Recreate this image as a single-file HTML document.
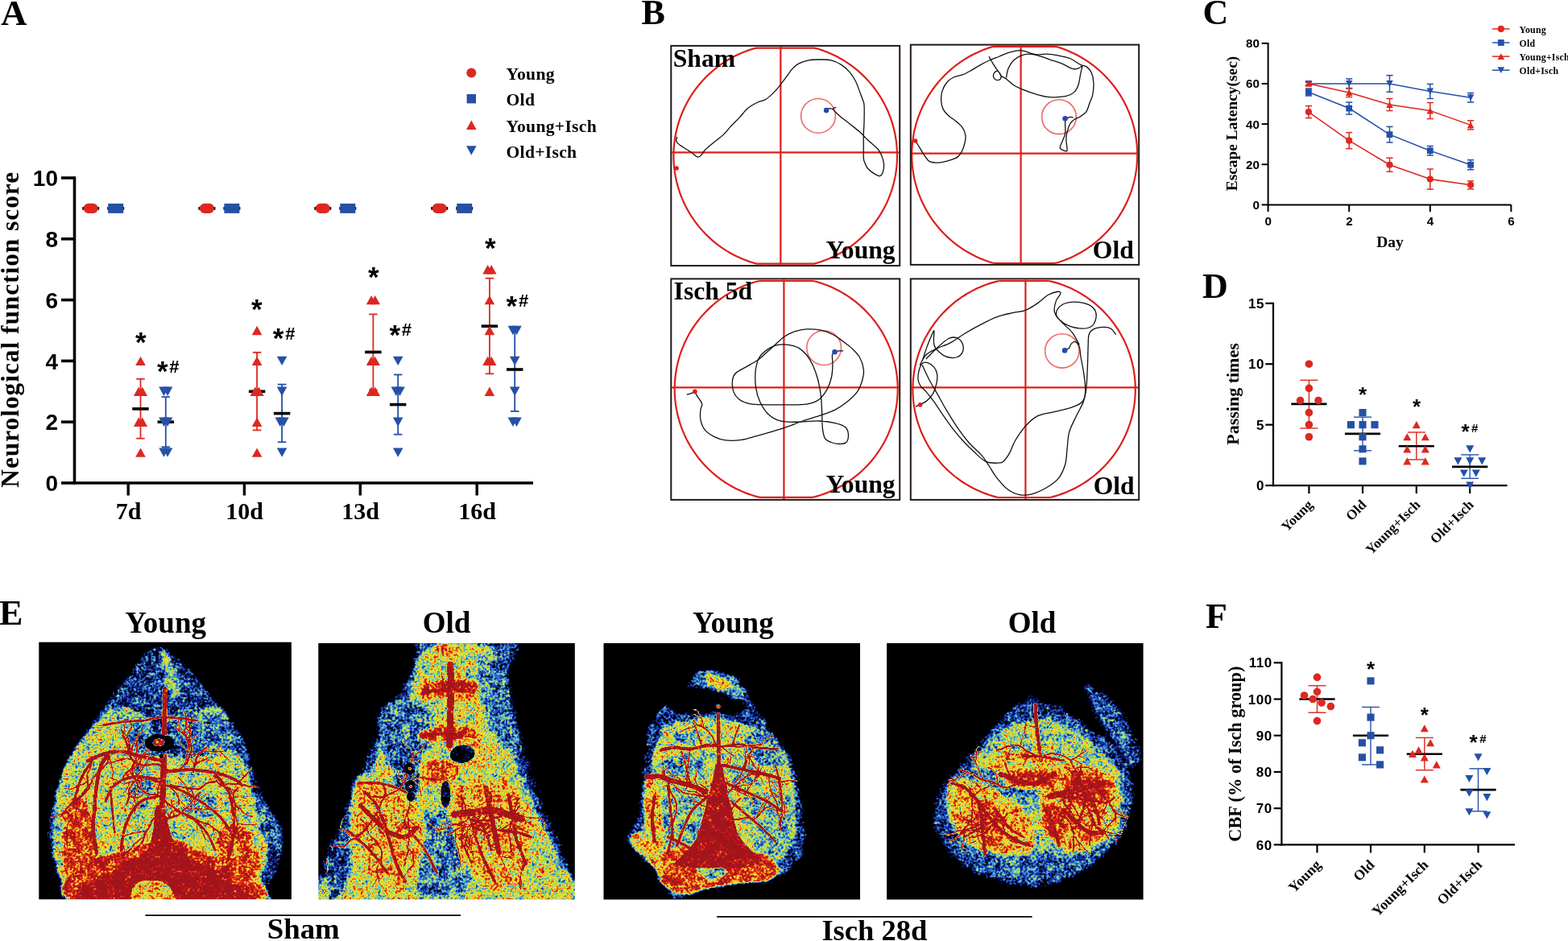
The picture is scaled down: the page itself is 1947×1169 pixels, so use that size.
<!DOCTYPE html>
<html><head><meta charset="utf-8"><title>Figure</title>
<style>
html,body{margin:0;padding:0;background:#fff;}
body{width:1947px;height:1169px;overflow:hidden;}
svg{display:block;}
</style></head><body>
<svg width="1947" height="1169" viewBox="0 0 1947 1169">
<rect width="1947" height="1169" fill="#fff"/>
<text x="1" y="31.3" font-size="45" text-anchor="start" style="font-family:'Liberation Serif',serif;font-weight:bold" >A</text>
<circle cx="585.3" cy="90.6" r="6" fill="#dc2820"/>
<text x="628.5" y="99.1" font-size="21.6" text-anchor="start" style="font-family:'Liberation Serif',serif;font-weight:bold" letter-spacing="0.3">Young</text>
<rect x="579.6" y="117" width="11.4" height="11.4" fill="#2550a6"/>
<text x="628.5" y="131.2" font-size="21.6" text-anchor="start" style="font-family:'Liberation Serif',serif;font-weight:bold" letter-spacing="0.3">Old</text>
<path d="M585.3 149.5L591.6 160.9L579 160.9Z" fill="#dc2820"/>
<text x="628.5" y="163.7" font-size="21.6" text-anchor="start" style="font-family:'Liberation Serif',serif;font-weight:bold" letter-spacing="0.3">Young+Isch</text>
<path d="M579 181.3L591.6 181.3L585.3 192.7Z" fill="#2550a6"/>
<text x="628.5" y="195.5" font-size="21.6" text-anchor="start" style="font-family:'Liberation Serif',serif;font-weight:bold" letter-spacing="0.3">Old+Isch</text>
<line x1="92.5" y1="219.2" x2="92.5" y2="601.8" stroke="#000" stroke-width="3.6"/>
<line x1="90.7" y1="600" x2="662" y2="600" stroke="#000" stroke-width="3.6"/>
<line x1="76" y1="600" x2="92.5" y2="600" stroke="#000" stroke-width="3.6"/>
<text x="72" y="610.1" font-size="28" text-anchor="end" style="font-family:'Liberation Sans',sans-serif;font-weight:bold" >0</text>
<line x1="76" y1="524.2" x2="92.5" y2="524.2" stroke="#000" stroke-width="3.6"/>
<text x="72" y="534.3" font-size="28" text-anchor="end" style="font-family:'Liberation Sans',sans-serif;font-weight:bold" >2</text>
<line x1="76" y1="448.4" x2="92.5" y2="448.4" stroke="#000" stroke-width="3.6"/>
<text x="72" y="458.5" font-size="28" text-anchor="end" style="font-family:'Liberation Sans',sans-serif;font-weight:bold" >4</text>
<line x1="76" y1="372.6" x2="92.5" y2="372.6" stroke="#000" stroke-width="3.6"/>
<text x="72" y="382.7" font-size="28" text-anchor="end" style="font-family:'Liberation Sans',sans-serif;font-weight:bold" >6</text>
<line x1="76" y1="296.8" x2="92.5" y2="296.8" stroke="#000" stroke-width="3.6"/>
<text x="72" y="306.9" font-size="28" text-anchor="end" style="font-family:'Liberation Sans',sans-serif;font-weight:bold" >8</text>
<line x1="76" y1="221" x2="92.5" y2="221" stroke="#000" stroke-width="3.6"/>
<text x="72" y="231.1" font-size="28" text-anchor="end" style="font-family:'Liberation Sans',sans-serif;font-weight:bold" >10</text>
<line x1="159.2" y1="600" x2="159.2" y2="615.5" stroke="#000" stroke-width="3.4"/>
<text x="159.5" y="645.3" font-size="30" text-anchor="middle" style="font-family:'Liberation Serif',serif;font-weight:bold" >7d</text>
<line x1="303.4" y1="600" x2="303.4" y2="615.5" stroke="#000" stroke-width="3.4"/>
<text x="303.7" y="645.3" font-size="30" text-anchor="middle" style="font-family:'Liberation Serif',serif;font-weight:bold" >10d</text>
<line x1="447.3" y1="600" x2="447.3" y2="615.5" stroke="#000" stroke-width="3.4"/>
<text x="447.6" y="645.3" font-size="30" text-anchor="middle" style="font-family:'Liberation Serif',serif;font-weight:bold" >13d</text>
<line x1="592.2" y1="600" x2="592.2" y2="615.5" stroke="#000" stroke-width="3.4"/>
<text x="592.5" y="645.3" font-size="30" text-anchor="middle" style="font-family:'Liberation Serif',serif;font-weight:bold" >16d</text>
<text x="0" y="0" font-size="31.3" text-anchor="middle" style="font-family:'Liberation Serif',serif;font-weight:bold" letter-spacing="1.0" transform="translate(22.9 409.3) rotate(-90)">Neurological function score</text>
<line x1="102.2" y1="258.9" x2="123.2" y2="258.9" stroke="#000" stroke-width="3.6"/>
<rect x="103.7" y="252.7" width="18" height="12.4" rx="6" fill="#dc2820"/>
<line x1="133.2" y1="258.9" x2="154.2" y2="258.9" stroke="#000" stroke-width="3.6"/>
<rect x="134.2" y="252.9" width="19" height="12" fill="#2550a6"/>
<line x1="246.4" y1="258.9" x2="267.4" y2="258.9" stroke="#000" stroke-width="3.6"/>
<rect x="247.9" y="252.7" width="18" height="12.4" rx="6" fill="#dc2820"/>
<line x1="277.4" y1="258.9" x2="298.4" y2="258.9" stroke="#000" stroke-width="3.6"/>
<rect x="278.4" y="252.9" width="19" height="12" fill="#2550a6"/>
<line x1="390.3" y1="258.9" x2="411.3" y2="258.9" stroke="#000" stroke-width="3.6"/>
<rect x="391.8" y="252.7" width="18" height="12.4" rx="6" fill="#dc2820"/>
<line x1="421.3" y1="258.9" x2="442.3" y2="258.9" stroke="#000" stroke-width="3.6"/>
<rect x="422.3" y="252.9" width="19" height="12" fill="#2550a6"/>
<line x1="535.2" y1="258.9" x2="556.2" y2="258.9" stroke="#000" stroke-width="3.6"/>
<rect x="536.7" y="252.7" width="18" height="12.4" rx="6" fill="#dc2820"/>
<line x1="566.2" y1="258.9" x2="587.2" y2="258.9" stroke="#000" stroke-width="3.6"/>
<rect x="567.2" y="252.9" width="19" height="12" fill="#2550a6"/>
<line x1="174.5" y1="470.76" x2="174.5" y2="544.67" stroke="#dc2820" stroke-width="1.8"/><line x1="169.25" y1="470.76" x2="179.75" y2="470.76" stroke="#dc2820" stroke-width="1.8"/><line x1="169.25" y1="544.67" x2="179.75" y2="544.67" stroke="#dc2820" stroke-width="1.8"/>
<line x1="164.3" y1="507.9" x2="184.7" y2="507.9" stroke="#000" stroke-width="3.6"/>
<path d="M174.5 442.7L180.8 454.1L168.2 454.1Z" fill="#dc2820"/>
<path d="M172.2 480.6L178.5 492L165.9 492Z" fill="#dc2820"/>
<path d="M176.8 480.6L183.1 492L170.5 492Z" fill="#dc2820"/>
<path d="M172.2 518.5L178.5 529.9L165.9 529.9Z" fill="#dc2820"/>
<path d="M176.8 518.5L183.1 529.9L170.5 529.9Z" fill="#dc2820"/>
<path d="M174.5 556.4L180.8 567.8L168.2 567.8Z" fill="#dc2820"/>
<line x1="205.8" y1="493.12" x2="205.8" y2="555.28" stroke="#2550a6" stroke-width="1.8"/><line x1="200.55" y1="493.12" x2="211.05" y2="493.12" stroke="#2550a6" stroke-width="1.8"/><line x1="200.55" y1="555.28" x2="211.05" y2="555.28" stroke="#2550a6" stroke-width="1.8"/>
<line x1="195.6" y1="524.2" x2="216" y2="524.2" stroke="#000" stroke-width="3.6"/>
<path d="M197.2 480.6L209.8 480.6L203.5 492Z" fill="#2550a6"/>
<path d="M201.8 480.6L214.4 480.6L208.1 492Z" fill="#2550a6"/>
<path d="M197.2 518.5L209.8 518.5L203.5 529.9Z" fill="#2550a6"/>
<path d="M201.8 518.5L214.4 518.5L208.1 529.9Z" fill="#2550a6"/>
<path d="M197.2 556.4L209.8 556.4L203.5 567.8Z" fill="#2550a6"/>
<path d="M201.8 556.4L214.4 556.4L208.1 567.8Z" fill="#2550a6"/>
<line x1="319.1" y1="437.79" x2="319.1" y2="534.43" stroke="#dc2820" stroke-width="1.8"/><line x1="313.85" y1="437.79" x2="324.35" y2="437.79" stroke="#dc2820" stroke-width="1.8"/><line x1="313.85" y1="534.43" x2="324.35" y2="534.43" stroke="#dc2820" stroke-width="1.8"/>
<line x1="308.9" y1="486.3" x2="329.3" y2="486.3" stroke="#000" stroke-width="3.6"/>
<path d="M319.1 404.8L325.4 416.2L312.8 416.2Z" fill="#dc2820"/>
<path d="M319.1 442.7L325.4 454.1L312.8 454.1Z" fill="#dc2820"/>
<path d="M316.8 480.6L323.1 492L310.5 492Z" fill="#dc2820"/>
<path d="M321.4 480.6L327.7 492L315.1 492Z" fill="#dc2820"/>
<path d="M319.1 518.5L325.4 529.9L312.8 529.9Z" fill="#dc2820"/>
<path d="M319.1 556.4L325.4 567.8L312.8 567.8Z" fill="#dc2820"/>
<line x1="350.1" y1="477.58" x2="350.1" y2="549.21" stroke="#2550a6" stroke-width="1.8"/><line x1="344.85" y1="477.58" x2="355.35" y2="477.58" stroke="#2550a6" stroke-width="1.8"/><line x1="344.85" y1="549.21" x2="355.35" y2="549.21" stroke="#2550a6" stroke-width="1.8"/>
<line x1="339.9" y1="513.59" x2="360.3" y2="513.59" stroke="#000" stroke-width="3.6"/>
<path d="M343.8 442.7L356.4 442.7L350.1 454.1Z" fill="#2550a6"/>
<path d="M343.8 480.6L356.4 480.6L350.1 492Z" fill="#2550a6"/>
<path d="M341.5 518.5L354.1 518.5L347.8 529.9Z" fill="#2550a6"/>
<path d="M346.1 518.5L358.7 518.5L352.4 529.9Z" fill="#2550a6"/>
<path d="M343.8 556.4L356.4 556.4L350.1 567.8Z" fill="#2550a6"/>
<line x1="463.4" y1="390.41" x2="463.4" y2="484.4" stroke="#dc2820" stroke-width="1.8"/><line x1="458.15" y1="390.41" x2="468.65" y2="390.41" stroke="#dc2820" stroke-width="1.8"/><line x1="458.15" y1="484.4" x2="468.65" y2="484.4" stroke="#dc2820" stroke-width="1.8"/>
<line x1="453.2" y1="437.41" x2="473.6" y2="437.41" stroke="#000" stroke-width="3.6"/>
<path d="M461.1 366.9L467.4 378.3L454.8 378.3Z" fill="#dc2820"/>
<path d="M465.7 366.9L472 378.3L459.4 378.3Z" fill="#dc2820"/>
<path d="M461.1 442.7L467.4 454.1L454.8 454.1Z" fill="#dc2820"/>
<path d="M465.7 442.7L472 454.1L459.4 454.1Z" fill="#dc2820"/>
<path d="M461.1 480.6L467.4 492L454.8 492Z" fill="#dc2820"/>
<path d="M465.7 480.6L472 492L459.4 492Z" fill="#dc2820"/>
<line x1="494.2" y1="465.45" x2="494.2" y2="539.74" stroke="#2550a6" stroke-width="1.8"/><line x1="488.95" y1="465.45" x2="499.45" y2="465.45" stroke="#2550a6" stroke-width="1.8"/><line x1="488.95" y1="539.74" x2="499.45" y2="539.74" stroke="#2550a6" stroke-width="1.8"/>
<line x1="484" y1="502.6" x2="504.4" y2="502.6" stroke="#000" stroke-width="3.6"/>
<path d="M487.9 442.7L500.5 442.7L494.2 454.1Z" fill="#2550a6"/>
<path d="M485.6 480.6L498.2 480.6L491.9 492Z" fill="#2550a6"/>
<path d="M490.2 480.6L502.8 480.6L496.5 492Z" fill="#2550a6"/>
<path d="M487.9 518.5L500.5 518.5L494.2 529.9Z" fill="#2550a6"/>
<path d="M487.9 556.4L500.5 556.4L494.2 567.8Z" fill="#2550a6"/>
<line x1="607.9" y1="345.69" x2="607.9" y2="464.32" stroke="#dc2820" stroke-width="1.8"/><line x1="602.65" y1="345.69" x2="613.15" y2="345.69" stroke="#dc2820" stroke-width="1.8"/><line x1="602.65" y1="464.32" x2="613.15" y2="464.32" stroke="#dc2820" stroke-width="1.8"/>
<line x1="597.7" y1="405.19" x2="618.1" y2="405.19" stroke="#000" stroke-width="3.6"/>
<path d="M605.6 329L611.9 340.4L599.3 340.4Z" fill="#dc2820"/>
<path d="M610.2 329L616.5 340.4L603.9 340.4Z" fill="#dc2820"/>
<path d="M607.9 366.9L614.2 378.3L601.6 378.3Z" fill="#dc2820"/>
<path d="M607.9 404.8L614.2 416.2L601.6 416.2Z" fill="#dc2820"/>
<path d="M605.6 442.7L611.9 454.1L599.3 454.1Z" fill="#dc2820"/>
<path d="M610.2 442.7L616.5 454.1L603.9 454.1Z" fill="#dc2820"/>
<path d="M607.9 480.6L614.2 492L601.6 492Z" fill="#dc2820"/>
<line x1="639.2" y1="407.09" x2="639.2" y2="510.94" stroke="#2550a6" stroke-width="1.8"/><line x1="633.95" y1="407.09" x2="644.45" y2="407.09" stroke="#2550a6" stroke-width="1.8"/><line x1="633.95" y1="510.94" x2="644.45" y2="510.94" stroke="#2550a6" stroke-width="1.8"/>
<line x1="629" y1="459.01" x2="649.4" y2="459.01" stroke="#000" stroke-width="3.6"/>
<path d="M630.6 404.8L643.2 404.8L636.9 416.2Z" fill="#2550a6"/>
<path d="M635.2 404.8L647.8 404.8L641.5 416.2Z" fill="#2550a6"/>
<path d="M632.9 442.7L645.5 442.7L639.2 454.1Z" fill="#2550a6"/>
<path d="M632.9 480.6L645.5 480.6L639.2 492Z" fill="#2550a6"/>
<path d="M630.6 518.5L643.2 518.5L636.9 529.9Z" fill="#2550a6"/>
<path d="M635.2 518.5L647.8 518.5L641.5 529.9Z" fill="#2550a6"/>
<text x="168" y="437.2" font-size="35" text-anchor="start" style="font-family:'Liberation Sans',sans-serif;font-weight:bold" >*</text>
<text x="194.9" y="473" font-size="35" text-anchor="start" style="font-family:'Liberation Sans',sans-serif;font-weight:bold" >*</text><text x="210.3" y="462.9" font-size="22" text-anchor="start" style="font-family:'Liberation Sans',sans-serif;font-weight:bold" >#</text>
<text x="312.1" y="396.3" font-size="35" text-anchor="start" style="font-family:'Liberation Sans',sans-serif;font-weight:bold" >*</text>
<text x="338.8" y="432" font-size="35" text-anchor="start" style="font-family:'Liberation Sans',sans-serif;font-weight:bold" >*</text><text x="354.2" y="421.9" font-size="22" text-anchor="start" style="font-family:'Liberation Sans',sans-serif;font-weight:bold" >#</text>
<text x="456.9" y="355.6" font-size="35" text-anchor="start" style="font-family:'Liberation Sans',sans-serif;font-weight:bold" >*</text>
<text x="483.4" y="427.5" font-size="35" text-anchor="start" style="font-family:'Liberation Sans',sans-serif;font-weight:bold" >*</text><text x="498.8" y="417.4" font-size="22" text-anchor="start" style="font-family:'Liberation Sans',sans-serif;font-weight:bold" >#</text>
<text x="602" y="320.1" font-size="35" text-anchor="start" style="font-family:'Liberation Sans',sans-serif;font-weight:bold" >*</text>
<text x="628.6" y="391.5" font-size="35" text-anchor="start" style="font-family:'Liberation Sans',sans-serif;font-weight:bold" >*</text><text x="644" y="381.4" font-size="22" text-anchor="start" style="font-family:'Liberation Sans',sans-serif;font-weight:bold" >#</text>
<defs>
<clipPath id="bc0"><rect x="834.3" y="59.1" width="281.9" height="268.8"/></clipPath>
<clipPath id="bc1"><rect x="1131.8" y="57.8" width="281.4" height="268.9"/></clipPath>
<clipPath id="bc2"><rect x="834.3" y="348.6" width="281.9" height="270.1"/></clipPath>
<clipPath id="bc3"><rect x="1131.8" y="348.6" width="281.4" height="270.1"/></clipPath>
</defs>
<polygon points="1114,193.5 1113.95,197.13 1113.81,200.76 1113.57,204.39 1113.24,208.01 1112.81,211.62 1112.29,215.21 1111.68,218.79 1110.97,222.36 1110.16,225.9 1109.27,229.42 1108.28,232.92 1107.21,236.39 1106.04,239.83 1104.78,243.24 1103.43,246.62 1102,249.96 1100.48,253.25 1098.87,256.51 1097.18,259.73 1095.4,262.9 1093.55,266.02 1091.61,269.1 1089.59,272.12 1087.49,275.08 1085.32,278 1083.07,280.85 1080.74,283.64 1078.35,286.38 1075.88,289.04 1073.35,291.65 1070.74,294.18 1068.08,296.65 1065.34,299.04 1062.55,301.37 1059.7,303.62 1056.78,305.79 1053.82,307.89 1050.8,309.91 1047.72,311.85 1044.6,313.7 1041.43,315.48 1038.21,317.17 1034.95,318.78 1031.66,320.3 1028.32,321.73 1024.94,323.08 1021.53,324.34 1018.09,325.51 1014.62,326.58 1011.12,327.57 1007.6,327.6 1004.06,327.6 1000.49,327.6 996.91,327.6 993.32,327.6 989.71,327.6 986.09,327.6 982.46,327.6 978.83,327.6 975.2,327.6 971.57,327.6 967.94,327.6 964.31,327.6 960.69,327.6 957.08,327.6 953.49,327.6 949.91,327.6 946.34,327.6 942.8,327.6 939.28,327.57 935.78,326.58 932.31,325.51 928.87,324.34 925.46,323.08 922.08,321.73 918.74,320.3 915.45,318.78 912.19,317.17 908.97,315.48 905.8,313.7 902.68,311.85 899.6,309.91 896.58,307.89 893.62,305.79 890.7,303.62 887.85,301.37 885.06,299.04 882.32,296.65 879.66,294.18 877.05,291.65 874.52,289.04 872.05,286.38 869.66,283.64 867.33,280.85 865.08,278 862.91,275.08 860.81,272.12 858.79,269.1 856.85,266.02 855,262.9 853.22,259.73 851.53,256.51 849.92,253.25 848.4,249.96 846.97,246.62 845.62,243.24 844.36,239.83 843.19,236.39 842.12,232.92 841.13,229.42 840.24,225.9 839.43,222.36 838.72,218.79 838.11,215.21 837.59,211.62 837.16,208.01 836.83,204.39 836.59,200.76 836.45,197.13 836.4,193.5 836.45,189.87 836.59,186.24 836.83,182.61 837.16,178.99 837.59,175.38 838.11,171.79 838.72,168.21 839.43,164.64 840.24,161.1 841.13,157.58 842.12,154.08 843.19,150.61 844.36,147.17 845.62,143.76 846.97,140.38 848.4,137.04 849.92,133.75 851.53,130.49 853.22,127.27 855,124.1 856.85,120.98 858.79,117.9 860.81,114.88 862.91,111.92 865.08,109 867.33,106.15 869.66,103.36 872.05,100.62 874.52,97.96 877.05,95.35 879.66,92.82 882.32,90.35 885.06,87.96 887.85,85.63 890.7,83.38 893.62,81.21 896.58,79.11 899.6,77.09 902.68,75.15 905.8,73.3 908.97,71.52 912.19,69.83 915.45,68.22 918.74,66.7 922.08,65.27 925.46,63.92 928.87,62.66 932.31,61.49 935.78,60.42 939.28,59.6 942.8,59.6 946.34,59.6 949.91,59.6 953.49,59.6 957.08,59.6 960.69,59.6 964.31,59.6 967.94,59.6 971.57,59.6 975.2,59.6 978.83,59.6 982.46,59.6 986.09,59.6 989.71,59.6 993.32,59.6 996.91,59.6 1000.49,59.6 1004.06,59.6 1007.6,59.6 1011.12,59.6 1014.62,60.42 1018.09,61.49 1021.53,62.66 1024.94,63.92 1028.32,65.27 1031.66,66.7 1034.95,68.22 1038.21,69.83 1041.43,71.52 1044.6,73.3 1047.72,75.15 1050.8,77.09 1053.82,79.11 1056.78,81.21 1059.7,83.38 1062.55,85.63 1065.34,87.96 1068.08,90.35 1070.74,92.82 1073.35,95.35 1075.88,97.96 1078.35,100.62 1080.74,103.36 1083.07,106.15 1085.32,109 1087.49,111.92 1089.59,114.88 1091.61,117.9 1093.55,120.98 1095.4,124.1 1097.18,127.27 1098.87,130.49 1100.48,133.75 1102,137.04 1103.43,140.38 1104.78,143.76 1106.04,147.17 1107.21,150.61 1108.28,154.08 1109.27,157.58 1110.16,161.1 1110.97,164.64 1111.68,168.21 1112.29,171.79 1112.81,175.38 1113.24,178.99 1113.57,182.61 1113.81,186.24 1113.95,189.87" fill="none" stroke="#dc1f1a" stroke-width="2.2"/>
<line x1="834.3" y1="189.3" x2="1116.2" y2="189.3" stroke="#dc1f1a" stroke-width="2.2"/>
<line x1="969.3" y1="57.9" x2="969.3" y2="329.1" stroke="#dc1f1a" stroke-width="2.2"/>
<circle cx="1016" cy="143.9" r="21.4" fill="none" stroke="#ee6a66" stroke-width="1.6"/>
<path d="M840.64 169.91C840.56 170.96 838.96 174.11 840.14 176.21C841.32 178.32 844.77 180.42 847.71 182.52C850.65 184.62 854.65 186.73 857.8 188.83C860.96 190.93 864.32 194.72 866.64 195.14C868.95 195.56 870.21 192.83 871.68 191.35C873.15 189.88 873.15 188.62 875.47 186.31C877.78 183.99 881.78 180.63 885.56 177.48C889.35 174.32 894.39 170.96 898.18 167.38C901.96 163.81 904.91 159.6 908.27 156.03C911.63 152.45 915 149.51 918.36 145.93C921.73 142.36 924.67 137.73 928.46 134.58C932.24 131.42 937.29 128.9 941.07 127.01C944.86 125.12 947.8 125.33 951.17 123.22C954.53 121.12 958.32 117.34 961.26 114.39C964.2 111.45 966.31 108.71 968.83 105.56C971.35 102.41 973.88 98.83 976.4 95.47C978.92 92.1 981.45 88.11 983.97 85.37C986.49 82.64 988.18 80.83 991.54 79.07C994.9 77.3 999.95 75.62 1004.16 74.78C1008.36 73.93 1012.15 74.02 1016.77 74.02C1021.4 74.02 1027.29 73.72 1031.91 74.78C1036.54 75.83 1040.75 77.93 1044.53 80.33C1048.32 82.72 1051.68 85.79 1054.62 89.16C1057.57 92.52 1060.09 96.52 1062.19 100.51C1064.3 104.51 1065.77 109.35 1067.24 113.13C1068.71 116.92 1070.06 120.28 1071.03 123.22C1071.99 126.17 1072.71 126.17 1073.04 130.79C1073.38 135.42 1073.17 145.09 1073.04 150.98C1072.92 156.87 1072.41 161.07 1072.29 166.12C1072.16 171.17 1072.29 176.21 1072.29 181.26C1072.29 186.31 1072.08 193.04 1072.29 196.4C1072.5 199.76 1072.71 199.34 1073.55 201.45C1074.39 203.55 1075.44 206.7 1077.33 209.02C1079.23 211.33 1082.38 213.73 1084.9 215.33C1087.43 216.92 1090.58 218.82 1092.47 218.61C1094.37 218.4 1095.42 216.5 1096.26 214.06C1097.1 211.62 1097.73 207.33 1097.52 203.97C1097.31 200.61 1096.26 197.03 1095 193.88C1093.74 190.72 1092.89 188.41 1089.95 185.05C1087.01 181.68 1081.12 177.27 1077.33 173.69C1073.55 170.12 1071.03 166.96 1067.24 163.6C1063.46 160.23 1058.83 156.87 1054.62 153.5C1050.42 150.14 1045.37 146.35 1042.01 143.41C1038.64 140.47 1035.07 137.52 1034.44 135.84C1033.81 134.16 1037.59 133.74 1038.22 133.32" fill="none" stroke="#111" stroke-width="1.3" stroke-linejoin="round"/>
<path d="M1034.44 135.84C1033.68 135.63 1031.28 134.37 1029.9 134.58C1028.51 134.79 1026.74 136.68 1026.11 137.1" fill="none" stroke="#111" stroke-width="1.3" stroke-linejoin="round"/>
<circle cx="1026.1" cy="137.1" r="3.3" fill="#2848b0"/>
<circle cx="840.1" cy="209" r="2.8" fill="#dc1f1a"/>
<rect x="833.3" y="56.9" width="283.9" height="273.2" fill="none" stroke="#231815" stroke-width="2"/>
<polygon points="1412.2,192.3 1412.15,195.96 1412.01,199.63 1411.77,203.28 1411.43,206.93 1411,210.57 1410.48,214.2 1409.86,217.81 1409.14,221.41 1408.33,224.98 1407.43,228.53 1406.43,232.06 1405.35,235.56 1404.17,239.03 1402.9,242.47 1401.54,245.88 1400.1,249.24 1398.56,252.57 1396.94,255.86 1395.23,259.1 1393.44,262.3 1391.57,265.45 1389.61,268.55 1387.58,271.6 1385.46,274.59 1383.27,277.53 1381,280.4 1378.66,283.22 1376.24,285.98 1373.75,288.67 1371.19,291.29 1368.57,293.85 1365.88,296.34 1363.12,298.76 1360.3,301.1 1357.43,303.37 1354.49,305.56 1351.5,307.68 1348.45,309.71 1345.35,311.67 1342.2,313.54 1339,315.33 1335.76,317.04 1332.47,318.66 1329.14,320.2 1325.78,321.64 1322.37,323 1318.93,324.27 1315.46,325.45 1311.96,326.53 1308.43,327 1304.88,327 1301.31,327 1297.71,327 1294.1,327 1290.47,327 1286.83,327 1283.18,327 1279.53,327 1275.86,327 1272.2,327 1268.54,327 1264.87,327 1261.22,327 1257.57,327 1253.93,327 1250.3,327 1246.69,327 1243.09,327 1239.52,327 1235.97,327 1232.44,326.53 1228.94,325.45 1225.47,324.27 1222.03,323 1218.62,321.64 1215.26,320.2 1211.93,318.66 1208.64,317.04 1205.4,315.33 1202.2,313.54 1199.05,311.67 1195.95,309.71 1192.9,307.68 1189.91,305.56 1186.97,303.37 1184.1,301.1 1181.28,298.76 1178.52,296.34 1175.83,293.85 1173.21,291.29 1170.65,288.67 1168.16,285.98 1165.74,283.22 1163.4,280.4 1161.13,277.53 1158.94,274.59 1156.82,271.6 1154.79,268.55 1152.83,265.45 1150.96,262.3 1149.17,259.1 1147.46,255.86 1145.84,252.57 1144.3,249.24 1142.86,245.88 1141.5,242.47 1140.23,239.03 1139.05,235.56 1137.97,232.06 1136.97,228.53 1136.07,224.98 1135.26,221.41 1134.54,217.81 1133.92,214.2 1133.4,210.57 1132.97,206.93 1132.63,203.28 1132.39,199.63 1132.25,195.96 1132.2,192.3 1132.25,188.64 1132.39,184.97 1132.63,181.32 1132.97,177.67 1133.4,174.03 1133.92,170.4 1134.54,166.79 1135.26,163.19 1136.07,159.62 1136.97,156.07 1137.97,152.54 1139.05,149.04 1140.23,145.57 1141.5,142.13 1142.86,138.72 1144.3,135.36 1145.84,132.03 1147.46,128.74 1149.17,125.5 1150.96,122.3 1152.83,119.15 1154.79,116.05 1156.82,113 1158.94,110.01 1161.13,107.07 1163.4,104.2 1165.74,101.38 1168.16,98.62 1170.65,95.93 1173.21,93.31 1175.83,90.75 1178.52,88.26 1181.28,85.84 1184.1,83.5 1186.97,81.23 1189.91,79.04 1192.9,76.92 1195.95,74.89 1199.05,72.93 1202.2,71.06 1205.4,69.27 1208.64,67.56 1211.93,65.94 1215.26,64.4 1218.62,62.96 1222.03,61.6 1225.47,60.33 1228.94,59.15 1232.44,58.07 1235.97,57.8 1239.52,57.8 1243.09,57.8 1246.69,57.8 1250.3,57.8 1253.93,57.8 1257.57,57.8 1261.22,57.8 1264.87,57.8 1268.54,57.8 1272.2,57.8 1275.86,57.8 1279.53,57.8 1283.18,57.8 1286.83,57.8 1290.47,57.8 1294.1,57.8 1297.71,57.8 1301.31,57.8 1304.88,57.8 1308.43,57.8 1311.96,58.07 1315.46,59.15 1318.93,60.33 1322.37,61.6 1325.78,62.96 1329.14,64.4 1332.47,65.94 1335.76,67.56 1339,69.27 1342.2,71.06 1345.35,72.93 1348.45,74.89 1351.5,76.92 1354.49,79.04 1357.43,81.23 1360.3,83.5 1363.12,85.84 1365.88,88.26 1368.57,90.75 1371.19,93.31 1373.75,95.93 1376.24,98.62 1378.66,101.38 1381,104.2 1383.27,107.07 1385.46,110.01 1387.58,113 1389.61,116.05 1391.57,119.15 1393.44,122.3 1395.23,125.5 1396.94,128.74 1398.56,132.03 1400.1,135.36 1401.54,138.72 1402.9,142.13 1404.17,145.57 1405.35,149.04 1406.43,152.54 1407.43,156.07 1408.33,159.62 1409.14,163.19 1409.86,166.79 1410.48,170.4 1411,174.03 1411.43,177.67 1411.77,181.32 1412.01,184.97 1412.15,188.64" fill="none" stroke="#dc1f1a" stroke-width="2.2"/>
<line x1="1131.8" y1="190.6" x2="1413.2" y2="190.6" stroke="#dc1f1a" stroke-width="2.2"/>
<line x1="1267.6" y1="56.6" x2="1267.6" y2="327.9" stroke="#dc1f1a" stroke-width="2.2"/>
<circle cx="1315" cy="145.2" r="21.4" fill="none" stroke="#ee6a66" stroke-width="1.6"/>
<path d="M1136.64 174.95C1137.56 176.42 1140.21 180.63 1142.19 183.78C1144.16 186.94 1146.39 191.02 1148.5 193.88C1150.6 196.74 1151.65 199.6 1154.8 200.94C1157.96 202.29 1163.21 202.29 1167.42 201.95C1171.63 201.62 1176.46 200.06 1180.04 198.92C1183.61 197.79 1186.56 196.82 1188.87 195.14C1191.18 193.46 1192.44 191.56 1193.92 188.83C1195.39 186.1 1196.86 182.1 1197.7 178.74C1198.54 175.37 1199.38 172.01 1198.96 168.64C1198.54 165.28 1197.07 161.49 1195.18 158.55C1193.28 155.61 1190.55 153.5 1187.61 150.98C1184.66 148.46 1180.25 145.93 1177.51 143.41C1174.78 140.89 1172.68 138.78 1171.21 135.84C1169.73 132.9 1168.89 129.53 1168.68 125.75C1168.47 121.96 1168.68 117.13 1169.94 113.13C1171.21 109.13 1173.73 104.72 1176.25 101.78C1178.78 98.83 1181.93 96.94 1185.08 95.47C1188.24 93.99 1191.81 94.21 1195.18 92.94C1198.54 91.68 1201.49 90 1205.27 87.9C1209.06 85.79 1214.1 82.43 1217.89 80.33C1221.67 78.22 1224.2 76.96 1227.98 75.28C1231.77 73.6 1236.39 71.92 1240.6 70.23C1244.8 68.55 1249.01 66.45 1253.21 65.19C1257.42 63.93 1262.47 62.87 1265.83 62.66C1269.19 62.45 1270.04 63.08 1273.4 63.93C1276.76 64.77 1281.81 67.16 1286.02 67.71C1290.22 68.26 1294.01 67 1298.63 67.21C1303.26 67.42 1308.73 68.05 1313.77 68.97C1318.82 69.9 1324.29 70.86 1328.91 72.76C1333.54 74.65 1338.17 78.64 1341.53 80.33C1344.9 82.01 1346.79 81.17 1349.1 82.85C1351.41 84.53 1353.94 87.06 1355.41 90.42C1356.88 93.78 1357.72 98.41 1357.93 103.04C1358.14 107.66 1357.51 113.97 1356.67 118.18C1355.83 122.38 1354.15 124.91 1352.89 128.27C1351.62 131.63 1350.99 135.63 1349.1 138.36C1347.21 141.1 1344.05 142.99 1341.53 144.67C1339.01 146.35 1336.06 146.99 1333.96 148.46C1331.86 149.93 1330.39 150.98 1328.91 153.5C1327.44 156.03 1325.97 160.23 1325.13 163.6C1324.29 166.96 1323.87 169.91 1323.87 173.69C1323.87 177.48 1325.34 183.99 1325.13 186.31C1324.92 188.62 1324.08 187.99 1322.61 187.57C1321.13 187.15 1316.93 185.68 1316.3 183.78C1315.67 181.89 1317.77 179.16 1318.82 176.21C1319.87 173.27 1321.97 169.91 1322.61 166.12C1323.24 162.34 1322.61 156.66 1322.61 153.5C1322.61 150.35 1322.61 148.25 1322.61 147.2" fill="none" stroke="#111" stroke-width="1.3" stroke-linejoin="round"/>
<path d="M1344.05 81.59C1343.63 83.48 1342.37 88.95 1341.53 92.94C1340.69 96.94 1340.27 101.99 1339.01 105.56C1337.75 109.13 1336.48 112.08 1333.96 114.39C1331.44 116.7 1328.91 118.39 1323.87 119.44C1318.82 120.49 1309.99 121.12 1303.68 120.7C1297.37 120.28 1291.9 118.6 1286.02 116.92C1280.13 115.23 1272.98 112.5 1268.35 110.61C1263.73 108.71 1261.41 107.66 1258.26 105.56C1255.11 103.46 1251.95 99.88 1249.43 97.99C1246.91 96.1 1244.8 95.8 1243.12 94.21C1241.44 92.61 1240.68 89.12 1239.34 88.4C1237.99 87.69 1236.01 88.74 1235.05 89.92C1234.08 91.09 1233.24 93.91 1233.53 95.47C1233.83 97.02 1235.42 98.75 1236.81 99.25C1238.2 99.76 1240.89 99.55 1241.86 98.49C1242.83 97.44 1243.25 94.92 1242.62 92.94C1241.98 90.97 1239.67 88.95 1238.07 86.64C1236.48 84.32 1234.71 81.8 1233.03 79.07C1231.34 76.33 1228.82 71.71 1227.98 70.23" fill="none" stroke="#111" stroke-width="1.3" stroke-linejoin="round"/>
<path d="M1249.43 96.73C1249.85 94.84 1250.48 88.95 1251.95 85.37C1253.42 81.8 1255.53 78.01 1258.26 75.28C1260.99 72.55 1264.99 70.32 1268.35 68.97C1271.72 67.63 1275.08 67.21 1278.45 67.21C1281.81 67.21 1284.33 67.84 1288.54 68.97C1292.75 70.11 1298.63 72.34 1303.68 74.02C1308.73 75.7 1314.19 77.17 1318.82 79.07C1323.45 80.96 1328.07 84.41 1331.44 85.37C1334.8 86.34 1336.9 85.5 1339.01 84.87C1341.11 84.24 1343.21 82.14 1344.05 81.59" fill="none" stroke="#111" stroke-width="1.3" stroke-linejoin="round"/>
<path d="M1332.7 145.93C1332.07 145.85 1330.39 145.22 1328.91 145.43C1327.44 145.64 1324.71 146.9 1323.87 147.2" fill="none" stroke="#111" stroke-width="1.3" stroke-linejoin="round"/>
<circle cx="1322.6" cy="147.2" r="3.3" fill="#2848b0"/>
<circle cx="1136.6" cy="175" r="2.8" fill="#dc1f1a"/>
<rect x="1130.8" y="55.6" width="283.4" height="273.3" fill="none" stroke="#231815" stroke-width="2"/>
<polygon points="1114.7,483.3 1114.65,486.93 1114.51,490.55 1114.27,494.17 1113.94,497.78 1113.52,501.38 1112.99,504.97 1112.38,508.54 1111.67,512.1 1110.87,515.63 1109.98,519.15 1109,522.64 1107.92,526.1 1106.76,529.53 1105.5,532.93 1104.16,536.3 1102.73,539.63 1101.21,542.93 1099.6,546.18 1097.92,549.39 1096.14,552.55 1094.29,555.67 1092.36,558.73 1090.34,561.75 1088.25,564.71 1086.08,567.61 1083.83,570.46 1081.52,573.25 1079.13,575.97 1076.66,578.64 1074.13,581.23 1071.54,583.76 1068.87,586.23 1066.15,588.62 1063.36,590.93 1060.51,593.18 1057.61,595.35 1054.65,597.44 1051.63,599.46 1048.57,601.39 1045.45,603.24 1042.29,605.02 1039.08,606.7 1035.83,608.31 1032.53,609.83 1029.2,611.26 1025.83,612.6 1022.43,613.86 1019,615.02 1015.54,616.1 1012.05,617.08 1008.53,617.8 1005,617.8 1001.44,617.8 997.87,617.8 994.28,617.8 990.68,617.8 987.07,617.8 983.45,617.8 979.83,617.8 976.2,617.8 972.57,617.8 968.95,617.8 965.33,617.8 961.72,617.8 958.12,617.8 954.53,617.8 950.96,617.8 947.4,617.8 943.87,617.8 940.35,617.08 936.86,616.1 933.4,615.02 929.97,613.86 926.57,612.6 923.2,611.26 919.87,609.83 916.57,608.31 913.32,606.7 910.11,605.02 906.95,603.24 903.83,601.39 900.77,599.46 897.75,597.44 894.79,595.35 891.89,593.18 889.04,590.93 886.25,588.62 883.53,586.23 880.86,583.76 878.27,581.23 875.74,578.64 873.27,575.97 870.88,573.25 868.57,570.46 866.32,567.61 864.15,564.71 862.06,561.75 860.04,558.73 858.11,555.67 856.26,552.55 854.48,549.39 852.8,546.18 851.19,542.93 849.67,539.63 848.24,536.3 846.9,532.93 845.64,529.53 844.48,526.1 843.4,522.64 842.42,519.15 841.53,515.63 840.73,512.1 840.02,508.54 839.41,504.97 838.88,501.38 838.46,497.78 838.13,494.17 837.89,490.55 837.75,486.93 837.7,483.3 837.75,479.67 837.89,476.05 838.13,472.43 838.46,468.82 838.88,465.22 839.41,461.63 840.02,458.06 840.73,454.5 841.53,450.97 842.42,447.45 843.4,443.96 844.48,440.5 845.64,437.07 846.9,433.67 848.24,430.3 849.67,426.97 851.19,423.67 852.8,420.42 854.48,417.21 856.26,414.05 858.11,410.93 860.04,407.87 862.06,404.85 864.15,401.89 866.32,398.99 868.57,396.14 870.88,393.35 873.27,390.63 875.74,387.96 878.27,385.37 880.86,382.84 883.53,380.37 886.25,377.98 889.04,375.67 891.89,373.42 894.79,371.25 897.75,369.16 900.77,367.14 903.83,365.21 906.95,363.36 910.11,361.58 913.32,359.9 916.57,358.29 919.87,356.77 923.2,355.34 926.57,354 929.97,352.74 933.4,351.58 936.86,350.5 940.35,349.52 943.87,349 947.4,349 950.96,349 954.53,349 958.12,349 961.72,349 965.33,349 968.95,349 972.57,349 976.2,349 979.83,349 983.45,349 987.07,349 990.68,349 994.28,349 997.87,349 1001.44,349 1005,349 1008.53,349 1012.05,349.52 1015.54,350.5 1019,351.58 1022.43,352.74 1025.83,354 1029.2,355.34 1032.53,356.77 1035.83,358.29 1039.08,359.9 1042.29,361.58 1045.45,363.36 1048.57,365.21 1051.63,367.14 1054.65,369.16 1057.61,371.25 1060.51,373.42 1063.36,375.67 1066.15,377.98 1068.87,380.37 1071.54,382.84 1074.13,385.37 1076.66,387.96 1079.13,390.63 1081.52,393.35 1083.83,396.14 1086.08,398.99 1088.25,401.89 1090.34,404.85 1092.36,407.87 1094.29,410.93 1096.14,414.05 1097.92,417.21 1099.6,420.42 1101.21,423.67 1102.73,426.97 1104.16,430.3 1105.5,433.67 1106.76,437.07 1107.92,440.5 1109,443.96 1109.98,447.45 1110.87,450.97 1111.67,454.5 1112.38,458.06 1112.99,461.63 1113.52,465.22 1113.94,468.82 1114.27,472.43 1114.51,476.05 1114.65,479.67" fill="none" stroke="#dc1f1a" stroke-width="2.2"/>
<line x1="834.3" y1="481.4" x2="1116.2" y2="481.4" stroke="#dc1f1a" stroke-width="2.2"/>
<line x1="973.4" y1="347.4" x2="973.4" y2="619.9" stroke="#dc1f1a" stroke-width="2.2"/>
<circle cx="1023.1" cy="432.1" r="21.4" fill="none" stroke="#ee6a66" stroke-width="1.6"/>
<path d="M852.76 490.19C853.6 489.98 856.12 489.55 857.8 488.92C859.49 488.29 862.01 486.82 862.85 486.4" fill="none" stroke="#111" stroke-width="1.3" stroke-linejoin="round"/>
<path d="M862.85 486.4C863.27 487.24 863.9 488.92 865.37 491.45C866.85 493.97 870.92 498.6 871.68 501.54C872.44 504.48 870.21 505.75 869.92 509.11C869.62 512.47 868.99 517.52 869.92 521.73C870.84 525.93 872.44 530.77 875.47 534.34C878.49 537.92 883.88 541.07 888.08 543.18C892.29 545.28 895.23 546.41 900.7 546.96C906.17 547.51 914.58 547.3 920.89 546.46C927.2 545.61 932.66 543.51 938.55 541.91C944.44 540.32 949.91 538.76 956.21 536.87C962.52 534.97 969.67 532.87 976.4 530.56C983.13 528.25 989.86 525.3 996.59 522.99C1003.32 520.68 1010.04 518.99 1016.77 516.68C1023.5 514.37 1031.07 512.05 1036.96 509.11C1042.85 506.17 1047.47 502.8 1052.1 499.02C1056.73 495.23 1061.56 491.03 1064.72 486.4C1067.87 481.77 1069.76 475.89 1071.03 471.26C1072.29 466.63 1072.92 463.27 1072.29 458.64C1071.66 454.02 1069.76 447.92 1067.24 443.5C1064.72 439.09 1060.72 435.51 1057.15 432.15C1053.57 428.78 1049.58 426.05 1045.79 423.32C1042.01 420.58 1038.85 417.93 1034.44 415.75C1030.02 413.56 1024.76 411.33 1019.3 410.2C1013.83 409.06 1007.1 408.64 1001.63 408.93C996.17 409.23 991.12 410.41 986.49 411.96C981.87 413.52 977.87 415.54 973.88 418.27C969.88 421 966.31 425 962.52 428.36C958.74 431.73 954.74 435.3 951.17 438.46C947.59 441.61 945.28 444.34 941.07 447.29C936.87 450.23 930.56 453.39 925.93 456.12C921.31 458.85 916.05 460.96 913.32 463.69C910.58 466.42 909.95 468.74 909.53 472.52C909.11 476.31 909.32 482.41 910.79 486.4C912.27 490.4 915 493.97 918.36 496.49C921.73 499.02 925.51 500.49 930.98 501.54C936.45 502.59 943.6 502.59 951.17 502.8C958.74 503.01 967.99 502.93 976.4 502.8C984.81 502.68 994.9 503.1 1001.63 502.05C1008.36 500.99 1012.57 499.52 1016.77 496.49C1020.98 493.47 1024.26 488.5 1026.87 483.88C1029.47 479.25 1031.24 473.78 1032.42 468.74C1033.6 463.69 1033.76 458.22 1033.93 453.6C1034.1 448.97 1033.01 443.71 1033.43 440.98C1033.85 438.25 1035.95 437.83 1036.46 437.2" fill="none" stroke="#111" stroke-width="1.3" stroke-linejoin="round"/>
<path d="M941.07 447.29C940.57 449.6 938.47 455.49 938.05 461.17C937.63 466.84 937.63 475.05 938.55 481.35C939.48 487.66 941.07 493.55 943.6 499.02C946.12 504.48 949.48 510.16 953.69 514.16C957.9 518.15 962.94 521.31 968.83 522.99C974.72 524.67 981.03 524.25 989.02 524.25C997.01 524.25 1008.78 522.78 1016.77 522.99C1024.76 523.2 1031.49 524.25 1036.96 525.51C1042.43 526.77 1046.84 528.25 1049.58 530.56C1052.31 532.87 1053.15 536.24 1053.36 539.39C1053.57 542.54 1052.73 547.47 1050.84 549.48C1048.95 551.5 1045.16 551.5 1042.01 551.5C1038.85 551.5 1034.86 550.66 1031.91 549.48C1028.97 548.31 1026.11 547.38 1024.34 544.44C1022.58 541.49 1021.95 537.29 1021.32 531.82C1020.69 526.35 1020.9 518.36 1020.56 511.63C1020.22 504.9 1020.14 498.18 1019.3 491.45C1018.46 484.72 1017.19 477.57 1015.51 471.26C1013.83 464.95 1011.52 458.64 1009.2 453.6C1006.89 448.55 1004.58 444.56 1001.63 440.98C998.69 437.41 995.33 434.25 991.54 432.15C987.76 430.05 983.13 428.99 978.92 428.36C974.72 427.73 970.09 427.73 966.31 428.36C962.52 428.99 959.58 430.26 956.21 432.15C952.85 434.04 948.64 437.2 946.12 439.72C943.6 442.24 941.91 446.03 941.07 447.29" fill="none" stroke="#111" stroke-width="1.3" stroke-linejoin="round"/>
<path d="M1036.46 437.2C1037.38 436.99 1040.24 436.14 1042.01 435.93C1043.77 435.72 1046.21 435.93 1047.05 435.93" fill="none" stroke="#111" stroke-width="1.3" stroke-linejoin="round"/>
<circle cx="1036.5" cy="437.2" r="3.3" fill="#2848b0"/>
<circle cx="862.9" cy="486.4" r="2.8" fill="#dc1f1a"/>
<rect x="833.3" y="346.4" width="283.9" height="274.5" fill="none" stroke="#231815" stroke-width="2"/>
<polygon points="1409.8,483.6 1409.75,487.22 1409.61,490.83 1409.37,494.44 1409.04,498.05 1408.62,501.64 1408.1,505.22 1407.49,508.78 1406.78,512.33 1405.98,515.86 1405.09,519.37 1404.11,522.85 1403.04,526.31 1401.87,529.73 1400.62,533.13 1399.28,536.49 1397.85,539.81 1396.34,543.1 1394.74,546.34 1393.05,549.54 1391.28,552.7 1389.43,555.81 1387.5,558.87 1385.49,561.88 1383.41,564.83 1381.24,567.73 1379,570.57 1376.69,573.35 1374.3,576.07 1371.85,578.73 1369.32,581.32 1366.73,583.85 1364.07,586.3 1361.35,588.69 1358.57,591 1355.73,593.24 1352.83,595.41 1349.88,597.49 1346.87,599.5 1343.81,601.43 1340.7,603.28 1337.54,605.05 1334.34,606.74 1331.1,608.34 1327.81,609.85 1324.49,611.28 1321.13,612.62 1317.73,613.87 1314.31,615.04 1310.85,616.11 1307.37,617.09 1303.86,617.98 1300.33,618 1296.78,618 1293.22,618 1289.64,618 1286.05,618 1282.44,618 1278.83,618 1275.22,618 1271.6,618 1267.98,618 1264.37,618 1260.76,618 1257.15,618 1253.56,618 1249.98,618 1246.42,618 1242.87,618 1239.34,617.98 1235.83,617.09 1232.35,616.11 1228.89,615.04 1225.47,613.87 1222.07,612.62 1218.71,611.28 1215.39,609.85 1212.1,608.34 1208.86,606.74 1205.66,605.05 1202.5,603.28 1199.39,601.43 1196.33,599.5 1193.32,597.49 1190.37,595.41 1187.47,593.24 1184.63,591 1181.85,588.69 1179.13,586.3 1176.47,583.85 1173.88,581.32 1171.35,578.73 1168.9,576.07 1166.51,573.35 1164.2,570.57 1161.96,567.73 1159.79,564.83 1157.71,561.88 1155.7,558.87 1153.77,555.81 1151.92,552.7 1150.15,549.54 1148.46,546.34 1146.86,543.1 1145.35,539.81 1143.92,536.49 1142.58,533.13 1141.33,529.73 1140.16,526.31 1139.09,522.85 1138.11,519.37 1137.22,515.86 1136.42,512.33 1135.71,508.78 1135.1,505.22 1134.58,501.64 1134.16,498.05 1133.83,494.44 1133.59,490.83 1133.45,487.22 1133.4,483.6 1133.45,479.98 1133.59,476.37 1133.83,472.76 1134.16,469.15 1134.58,465.56 1135.1,461.98 1135.71,458.42 1136.42,454.87 1137.22,451.34 1138.11,447.83 1139.09,444.35 1140.16,440.89 1141.33,437.47 1142.58,434.07 1143.92,430.71 1145.35,427.39 1146.86,424.1 1148.46,420.86 1150.15,417.66 1151.92,414.5 1153.77,411.39 1155.7,408.33 1157.71,405.32 1159.79,402.37 1161.96,399.47 1164.2,396.63 1166.51,393.85 1168.9,391.13 1171.35,388.47 1173.88,385.88 1176.47,383.35 1179.13,380.9 1181.85,378.51 1184.63,376.2 1187.47,373.96 1190.37,371.79 1193.32,369.71 1196.33,367.7 1199.39,365.77 1202.5,363.92 1205.66,362.15 1208.86,360.46 1212.1,358.86 1215.39,357.35 1218.71,355.92 1222.07,354.58 1225.47,353.33 1228.89,352.16 1232.35,351.09 1235.83,350.11 1239.34,349.22 1242.87,349 1246.42,349 1249.98,349 1253.56,349 1257.15,349 1260.76,349 1264.37,349 1267.98,349 1271.6,349 1275.22,349 1278.83,349 1282.44,349 1286.05,349 1289.64,349 1293.22,349 1296.78,349 1300.33,349 1303.86,349.22 1307.37,350.11 1310.85,351.09 1314.31,352.16 1317.73,353.33 1321.13,354.58 1324.49,355.92 1327.81,357.35 1331.1,358.86 1334.34,360.46 1337.54,362.15 1340.7,363.92 1343.81,365.77 1346.87,367.7 1349.88,369.71 1352.83,371.79 1355.73,373.96 1358.57,376.2 1361.35,378.51 1364.07,380.9 1366.73,383.35 1369.32,385.88 1371.85,388.47 1374.3,391.13 1376.69,393.85 1379,396.63 1381.24,399.47 1383.41,402.37 1385.49,405.32 1387.5,408.33 1389.43,411.39 1391.28,414.5 1393.05,417.66 1394.74,420.86 1396.34,424.1 1397.85,427.39 1399.28,430.71 1400.62,434.07 1401.87,437.47 1403.04,440.89 1404.11,444.35 1405.09,447.83 1405.98,451.34 1406.78,454.87 1407.49,458.42 1408.1,461.98 1408.62,465.56 1409.04,469.15 1409.37,472.76 1409.61,476.37 1409.75,479.98" fill="none" stroke="#dc1f1a" stroke-width="2.2"/>
<line x1="1131.8" y1="481.4" x2="1413.2" y2="481.4" stroke="#dc1f1a" stroke-width="2.2"/>
<line x1="1273.4" y1="347.4" x2="1273.4" y2="619.9" stroke="#dc1f1a" stroke-width="2.2"/>
<circle cx="1318.8" cy="435.9" r="21.2" fill="none" stroke="#ee6a66" stroke-width="1.6"/>
<path d="M1137.14 505.33C1137.64 505.03 1139.24 503.98 1140.17 503.56C1141.09 503.14 1142.27 502.93 1142.69 502.8" fill="none" stroke="#111" stroke-width="1.3" stroke-linejoin="round"/>
<path d="M1142.69 502.8C1144.08 501.96 1148.37 500.07 1151.02 497.76C1153.67 495.44 1156.61 492.5 1158.59 488.92C1160.57 485.35 1162.04 480.3 1162.88 476.31C1163.72 472.31 1164.14 468.32 1163.64 464.95C1163.13 461.59 1161.83 458.52 1159.85 456.12C1157.87 453.72 1154.21 451.33 1151.78 450.57C1149.34 449.81 1147.02 449.81 1145.21 451.58C1143.41 453.34 1141.77 457.68 1140.93 461.17C1140.08 464.66 1139.75 469.37 1140.17 472.52C1140.59 475.68 1141.85 477.78 1143.45 480.09C1145.05 482.41 1147.02 483.25 1149.76 486.4C1152.49 489.55 1156.49 494.39 1159.85 499.02C1163.21 503.64 1166.16 508.69 1169.94 514.16C1173.73 519.62 1178.35 526.35 1182.56 531.82C1186.77 537.29 1190.55 541.91 1195.18 546.96C1199.8 552.01 1205.48 557.68 1210.32 562.1C1215.15 566.52 1219.57 571.27 1224.2 573.46C1228.82 575.64 1234.5 575.22 1238.07 575.22C1241.65 575.22 1243.12 575.43 1245.64 573.46C1248.17 571.48 1250.69 567.78 1253.21 563.36C1255.74 558.95 1257.42 552.64 1260.78 546.96C1264.15 541.28 1268.77 534.34 1273.4 529.3C1278.03 524.25 1282.65 519.62 1288.54 516.68C1294.43 513.74 1302 513.32 1308.73 511.63C1315.46 509.95 1323.03 508.69 1328.91 506.59C1334.8 504.48 1340.77 502.8 1344.05 499.02C1347.33 495.23 1347.54 491.03 1348.6 483.88C1349.65 476.73 1349.94 464.95 1350.36 456.12C1350.78 447.29 1350.82 437.62 1351.12 430.89C1351.41 424.16 1350.99 419.41 1352.13 415.75C1353.26 412.09 1354.86 410.49 1357.93 408.93C1361 407.38 1366.97 406.54 1370.55 406.41C1374.12 406.28 1376.86 406.62 1379.38 408.18C1381.9 409.73 1384.64 414.49 1385.69 415.75" fill="none" stroke="#111" stroke-width="1.3" stroke-linejoin="round"/>
<path d="M1145.21 453.6C1146.6 456.54 1150.47 465.37 1153.54 471.26C1156.61 477.15 1160.06 482.62 1163.64 488.92C1167.21 495.23 1170.99 502.38 1174.99 509.11C1178.99 515.84 1182.98 522.57 1187.61 529.3C1192.23 536.03 1197.49 543.39 1202.75 549.48C1208 555.58 1214.94 561.05 1219.15 565.89C1223.35 570.72 1225.04 574.09 1227.98 578.5C1230.92 582.92 1233.03 587.54 1236.81 592.38C1240.6 597.22 1245.85 603.82 1250.69 607.52C1255.53 611.22 1260.78 613.53 1265.83 614.59C1270.88 615.64 1275.5 615.22 1280.97 613.83C1286.44 612.44 1293.17 609.41 1298.63 606.26C1304.1 603.1 1309.78 599.74 1313.77 594.9C1317.77 590.07 1320.71 583.55 1322.61 577.24C1324.5 570.93 1324.29 563.78 1325.13 557.05C1325.97 550.33 1325.76 543.6 1327.65 536.87C1329.54 530.14 1333.54 522.99 1336.48 516.68C1339.43 510.37 1343.42 504.48 1345.32 499.02C1347.21 493.55 1347.84 490.19 1347.84 483.88C1347.84 477.57 1346.28 467.9 1345.32 461.17C1344.35 454.44 1342.88 448.55 1342.04 443.5C1341.19 438.46 1341.4 434.04 1340.27 430.89C1339.13 427.73 1336.9 425.21 1335.22 424.58C1333.54 423.95 1331.44 425.84 1330.18 427.1C1328.91 428.36 1328.91 430.76 1327.65 432.15C1326.39 433.54 1323.45 434.88 1322.61 435.43" fill="none" stroke="#111" stroke-width="1.3" stroke-linejoin="round"/>
<path d="M1142.19 453.6C1143.45 451.49 1146.39 444.34 1149.76 440.98C1153.12 437.62 1157.33 435.93 1162.37 433.41C1167.42 430.89 1174.15 428.99 1180.04 425.84C1185.92 422.69 1191.39 418.27 1197.7 414.49C1204.01 410.7 1211.16 406.62 1217.89 403.13C1224.62 399.64 1231.34 395.98 1238.07 393.54C1244.8 391.1 1252.37 389.84 1258.26 388.49C1264.15 387.15 1268.35 387.44 1273.4 385.47C1278.45 383.49 1283.91 379.79 1288.54 376.64C1293.17 373.48 1296.95 368.94 1301.16 366.54C1305.36 364.14 1311.17 362.55 1313.77 362.25C1316.38 361.96 1317.22 362.8 1316.8 364.78C1316.38 366.75 1312.51 370.45 1311.25 374.11C1309.99 377.77 1308.6 382.94 1309.23 386.73C1309.86 390.51 1312.18 393.88 1315.04 396.82C1317.9 399.77 1321.55 402.5 1326.39 404.39C1331.23 406.28 1339.01 408.18 1344.05 408.18C1349.1 408.18 1353.81 407.13 1356.67 404.39C1359.53 401.66 1361.21 395.56 1361.21 391.78C1361.21 387.99 1359.53 384.29 1356.67 381.68C1353.81 379.07 1349.1 377.1 1344.05 376.13C1339.01 375.16 1331.23 374.95 1326.39 375.88C1321.55 376.8 1317.47 379.03 1315.04 381.68C1312.6 384.33 1310.91 388.41 1311.76 391.78C1312.6 395.14 1316.8 398.29 1320.08 401.87C1323.36 405.44 1328.07 408.81 1331.44 413.22C1334.8 417.64 1338.8 425.84 1340.27 428.36" fill="none" stroke="#111" stroke-width="1.3" stroke-linejoin="round"/>
<path d="M1159.85 410.2C1159.22 411.54 1157.54 414.82 1156.07 418.27C1154.59 421.72 1152.7 426.26 1151.02 430.89C1149.34 435.51 1146.81 443.5 1145.97 446.03" fill="none" stroke="#111" stroke-width="1.3" stroke-linejoin="round"/>
<path d="M1159.85 410.7C1159.85 413.64 1158.8 423.95 1159.85 428.36C1160.9 432.78 1163.42 434.67 1166.16 437.2C1168.89 439.72 1172.47 442.45 1176.25 443.5C1180.04 444.56 1185.63 444.77 1188.87 443.5C1192.11 442.24 1194.71 438.88 1195.68 435.93C1196.65 432.99 1196.02 428.57 1194.67 425.84C1193.33 423.11 1190.47 420.37 1187.61 419.53C1184.75 418.69 1181.72 418.48 1177.51 420.79C1173.31 423.11 1167 429.2 1162.37 433.41C1157.75 437.62 1151.86 443.92 1149.76 446.03" fill="none" stroke="#111" stroke-width="1.3" stroke-linejoin="round"/>
<circle cx="1322.1" cy="435.4" r="3.3" fill="#2848b0"/>
<circle cx="1142.7" cy="502.8" r="2.8" fill="#dc1f1a"/>
<rect x="1130.8" y="346.4" width="283.4" height="274.5" fill="none" stroke="#231815" stroke-width="2"/>
<text x="796.5" y="29.6" font-size="44" text-anchor="start" style="font-family:'Liberation Serif',serif;font-weight:bold" >B</text>
<text x="835.8" y="83.3" font-size="31.6" text-anchor="start" style="font-family:'Liberation Serif',serif;font-weight:bold" >Sham</text>
<text x="1111.6" y="321.2" font-size="31.6" text-anchor="end" style="font-family:'Liberation Serif',serif;font-weight:bold" >Young</text>
<text x="1407.8" y="320.6" font-size="31.6" text-anchor="end" style="font-family:'Liberation Serif',serif;font-weight:bold" >Old</text>
<text x="836.6" y="372.1" font-size="31.6" text-anchor="start" style="font-family:'Liberation Serif',serif;font-weight:bold" >Isch 5d</text>
<text x="1111.6" y="611.8" font-size="31.6" text-anchor="end" style="font-family:'Liberation Serif',serif;font-weight:bold" >Young</text>
<text x="1408.6" y="614" font-size="31.6" text-anchor="end" style="font-family:'Liberation Serif',serif;font-weight:bold" >Old</text>
<text x="1493.5" y="30" font-size="44" text-anchor="start" style="font-family:'Liberation Serif',serif;font-weight:bold" >C</text>
<line x1="1574.6" y1="53" x2="1574.6" y2="255.4" stroke="#000" stroke-width="2"/>
<line x1="1573.6" y1="254.4" x2="1876.3" y2="254.4" stroke="#000" stroke-width="2"/>
<line x1="1566.6" y1="254.4" x2="1574.6" y2="254.4" stroke="#000" stroke-width="2"/>
<text x="1564" y="259.9" font-size="15.2" text-anchor="end" style="font-family:'Liberation Sans',sans-serif;font-weight:bold" >0</text>
<line x1="1566.6" y1="204.25" x2="1574.6" y2="204.25" stroke="#000" stroke-width="2"/>
<text x="1564" y="209.75" font-size="15.2" text-anchor="end" style="font-family:'Liberation Sans',sans-serif;font-weight:bold" >20</text>
<line x1="1566.6" y1="154.1" x2="1574.6" y2="154.1" stroke="#000" stroke-width="2"/>
<text x="1564" y="159.6" font-size="15.2" text-anchor="end" style="font-family:'Liberation Sans',sans-serif;font-weight:bold" >40</text>
<line x1="1566.6" y1="103.95" x2="1574.6" y2="103.95" stroke="#000" stroke-width="2"/>
<text x="1564" y="109.45" font-size="15.2" text-anchor="end" style="font-family:'Liberation Sans',sans-serif;font-weight:bold" >60</text>
<line x1="1566.6" y1="53.8" x2="1574.6" y2="53.8" stroke="#000" stroke-width="2"/>
<text x="1564" y="59.3" font-size="15.2" text-anchor="end" style="font-family:'Liberation Sans',sans-serif;font-weight:bold" >80</text>
<line x1="1574.6" y1="254.4" x2="1574.6" y2="263" stroke="#000" stroke-width="2"/>
<text x="1574.8" y="280" font-size="15.2" text-anchor="middle" style="font-family:'Liberation Sans',sans-serif;font-weight:bold" >0</text>
<line x1="1675.2" y1="254.4" x2="1675.2" y2="263" stroke="#000" stroke-width="2"/>
<text x="1675.4" y="280" font-size="15.2" text-anchor="middle" style="font-family:'Liberation Sans',sans-serif;font-weight:bold" >2</text>
<line x1="1775.8" y1="254.4" x2="1775.8" y2="263" stroke="#000" stroke-width="2"/>
<text x="1776" y="280" font-size="15.2" text-anchor="middle" style="font-family:'Liberation Sans',sans-serif;font-weight:bold" >4</text>
<line x1="1876.4" y1="254.4" x2="1876.4" y2="263" stroke="#000" stroke-width="2"/>
<text x="1876.6" y="280" font-size="15.2" text-anchor="middle" style="font-family:'Liberation Sans',sans-serif;font-weight:bold" >6</text>
<text x="1726" y="306.9" font-size="19.5" text-anchor="middle" style="font-family:'Liberation Serif',serif;font-weight:bold" >Day</text>
<text x="0" y="0" font-size="19.4" text-anchor="middle" style="font-family:'Liberation Serif',serif;font-weight:bold" transform="translate(1536.3 153.5) rotate(-90)">Escape Latency(sec)</text>
<polyline points="1624.9,103.95 1675.2,103.95 1725.5,103.95 1775.8,113.48 1826.1,121.25" fill="none" stroke="#2550a6" stroke-width="1.5"/>
<line x1="1624.9" y1="101.94" x2="1624.9" y2="105.96" stroke="#2550a6" stroke-width="1.5"/><line x1="1620.8" y1="101.94" x2="1629" y2="101.94" stroke="#2550a6" stroke-width="1.5"/><line x1="1620.8" y1="105.96" x2="1629" y2="105.96" stroke="#2550a6" stroke-width="1.5"/>
<path d="M1620.59 100.06L1629.2 100.06L1624.9 107.85Z" fill="#2550a6"/>
<line x1="1675.2" y1="97.93" x2="1675.2" y2="109.97" stroke="#2550a6" stroke-width="1.5"/><line x1="1671.1" y1="97.93" x2="1679.3" y2="97.93" stroke="#2550a6" stroke-width="1.5"/><line x1="1671.1" y1="109.97" x2="1679.3" y2="109.97" stroke="#2550a6" stroke-width="1.5"/>
<path d="M1670.89 100.06L1679.5 100.06L1675.2 107.85Z" fill="#2550a6"/>
<line x1="1725.5" y1="93.67" x2="1725.5" y2="114.23" stroke="#2550a6" stroke-width="1.5"/><line x1="1721.4" y1="93.67" x2="1729.6" y2="93.67" stroke="#2550a6" stroke-width="1.5"/><line x1="1721.4" y1="114.23" x2="1729.6" y2="114.23" stroke="#2550a6" stroke-width="1.5"/>
<path d="M1721.19 100.06L1729.81 100.06L1725.5 107.85Z" fill="#2550a6"/>
<line x1="1775.8" y1="104.45" x2="1775.8" y2="122.51" stroke="#2550a6" stroke-width="1.5"/><line x1="1771.7" y1="104.45" x2="1779.9" y2="104.45" stroke="#2550a6" stroke-width="1.5"/><line x1="1771.7" y1="122.51" x2="1779.9" y2="122.51" stroke="#2550a6" stroke-width="1.5"/>
<path d="M1771.49 109.58L1780.11 109.58L1775.8 117.37Z" fill="#2550a6"/>
<line x1="1826.1" y1="115.48" x2="1826.1" y2="127.02" stroke="#2550a6" stroke-width="1.5"/><line x1="1822" y1="115.48" x2="1830.2" y2="115.48" stroke="#2550a6" stroke-width="1.5"/><line x1="1822" y1="127.02" x2="1830.2" y2="127.02" stroke="#2550a6" stroke-width="1.5"/>
<path d="M1821.79 117.36L1830.4 117.36L1826.1 125.15Z" fill="#2550a6"/>
<polyline points="1624.9,114.48 1675.2,134.54 1725.5,167.14 1775.8,187.2 1826.1,204.75" fill="none" stroke="#2550a6" stroke-width="1.5"/>
<line x1="1624.9" y1="109.97" x2="1624.9" y2="119" stroke="#2550a6" stroke-width="1.5"/><line x1="1620.8" y1="109.97" x2="1629" y2="109.97" stroke="#2550a6" stroke-width="1.5"/><line x1="1620.8" y1="119" x2="1629" y2="119" stroke="#2550a6" stroke-width="1.5"/>
<rect x="1621" y="110.59" width="7.79" height="7.79" fill="#2550a6"/>
<line x1="1675.2" y1="127.02" x2="1675.2" y2="142.06" stroke="#2550a6" stroke-width="1.5"/><line x1="1671.1" y1="127.02" x2="1679.3" y2="127.02" stroke="#2550a6" stroke-width="1.5"/><line x1="1671.1" y1="142.06" x2="1679.3" y2="142.06" stroke="#2550a6" stroke-width="1.5"/>
<rect x="1671.3" y="130.65" width="7.79" height="7.79" fill="#2550a6"/>
<line x1="1725.5" y1="157.36" x2="1725.5" y2="176.92" stroke="#2550a6" stroke-width="1.5"/><line x1="1721.4" y1="157.36" x2="1729.6" y2="157.36" stroke="#2550a6" stroke-width="1.5"/><line x1="1721.4" y1="176.92" x2="1729.6" y2="176.92" stroke="#2550a6" stroke-width="1.5"/>
<rect x="1721.61" y="163.24" width="7.79" height="7.79" fill="#2550a6"/>
<line x1="1775.8" y1="181.43" x2="1775.8" y2="192.97" stroke="#2550a6" stroke-width="1.5"/><line x1="1771.7" y1="181.43" x2="1779.9" y2="181.43" stroke="#2550a6" stroke-width="1.5"/><line x1="1771.7" y1="192.97" x2="1779.9" y2="192.97" stroke="#2550a6" stroke-width="1.5"/>
<rect x="1771.9" y="183.3" width="7.79" height="7.79" fill="#2550a6"/>
<line x1="1826.1" y1="198.73" x2="1826.1" y2="210.77" stroke="#2550a6" stroke-width="1.5"/><line x1="1822" y1="198.73" x2="1830.2" y2="198.73" stroke="#2550a6" stroke-width="1.5"/><line x1="1822" y1="210.77" x2="1830.2" y2="210.77" stroke="#2550a6" stroke-width="1.5"/>
<rect x="1822.2" y="200.86" width="7.79" height="7.79" fill="#2550a6"/>
<polyline points="1624.9,103.95 1675.2,114.98 1725.5,130.03 1775.8,137.55 1826.1,155.35" fill="none" stroke="#dc2820" stroke-width="1.5"/>
<line x1="1624.9" y1="101.94" x2="1624.9" y2="105.96" stroke="#dc2820" stroke-width="1.5"/><line x1="1620.8" y1="101.94" x2="1629" y2="101.94" stroke="#dc2820" stroke-width="1.5"/><line x1="1620.8" y1="105.96" x2="1629" y2="105.96" stroke="#dc2820" stroke-width="1.5"/>
<path d="M1624.9 100.06L1629.2 107.85L1620.59 107.85Z" fill="#dc2820"/>
<line x1="1675.2" y1="109.47" x2="1675.2" y2="120.5" stroke="#dc2820" stroke-width="1.5"/><line x1="1671.1" y1="109.47" x2="1679.3" y2="109.47" stroke="#dc2820" stroke-width="1.5"/><line x1="1671.1" y1="120.5" x2="1679.3" y2="120.5" stroke="#dc2820" stroke-width="1.5"/>
<path d="M1675.2 111.09L1679.5 118.88L1670.89 118.88Z" fill="#dc2820"/>
<line x1="1725.5" y1="122.51" x2="1725.5" y2="137.55" stroke="#dc2820" stroke-width="1.5"/><line x1="1721.4" y1="122.51" x2="1729.6" y2="122.51" stroke="#dc2820" stroke-width="1.5"/><line x1="1721.4" y1="137.55" x2="1729.6" y2="137.55" stroke="#dc2820" stroke-width="1.5"/>
<path d="M1725.5 126.13L1729.81 133.92L1721.19 133.92Z" fill="#dc2820"/>
<line x1="1775.8" y1="127.52" x2="1775.8" y2="147.58" stroke="#dc2820" stroke-width="1.5"/><line x1="1771.7" y1="127.52" x2="1779.9" y2="127.52" stroke="#dc2820" stroke-width="1.5"/><line x1="1771.7" y1="147.58" x2="1779.9" y2="147.58" stroke="#dc2820" stroke-width="1.5"/>
<path d="M1775.8 133.66L1780.11 141.45L1771.49 141.45Z" fill="#dc2820"/>
<line x1="1826.1" y1="149.84" x2="1826.1" y2="160.87" stroke="#dc2820" stroke-width="1.5"/><line x1="1822" y1="149.84" x2="1830.2" y2="149.84" stroke="#dc2820" stroke-width="1.5"/><line x1="1822" y1="160.87" x2="1830.2" y2="160.87" stroke="#dc2820" stroke-width="1.5"/>
<path d="M1826.1 151.46L1830.4 159.25L1821.79 159.25Z" fill="#dc2820"/>
<polyline points="1624.9,139.06 1675.2,174.66 1725.5,204.75 1775.8,222.55 1826.1,229.83" fill="none" stroke="#dc2820" stroke-width="1.5"/>
<line x1="1624.9" y1="131.53" x2="1624.9" y2="146.58" stroke="#dc2820" stroke-width="1.5"/><line x1="1620.8" y1="131.53" x2="1629" y2="131.53" stroke="#dc2820" stroke-width="1.5"/><line x1="1620.8" y1="146.58" x2="1629" y2="146.58" stroke="#dc2820" stroke-width="1.5"/>
<circle cx="1624.9" cy="139.06" r="4.1" fill="#dc2820"/>
<line x1="1675.2" y1="164.63" x2="1675.2" y2="184.69" stroke="#dc2820" stroke-width="1.5"/><line x1="1671.1" y1="164.63" x2="1679.3" y2="164.63" stroke="#dc2820" stroke-width="1.5"/><line x1="1671.1" y1="184.69" x2="1679.3" y2="184.69" stroke="#dc2820" stroke-width="1.5"/>
<circle cx="1675.2" cy="174.66" r="4.1" fill="#dc2820"/>
<line x1="1725.5" y1="196.23" x2="1725.5" y2="213.28" stroke="#dc2820" stroke-width="1.5"/><line x1="1721.4" y1="196.23" x2="1729.6" y2="196.23" stroke="#dc2820" stroke-width="1.5"/><line x1="1721.4" y1="213.28" x2="1729.6" y2="213.28" stroke="#dc2820" stroke-width="1.5"/>
<circle cx="1725.5" cy="204.75" r="4.1" fill="#dc2820"/>
<line x1="1775.8" y1="210.02" x2="1775.8" y2="235.09" stroke="#dc2820" stroke-width="1.5"/><line x1="1771.7" y1="210.02" x2="1779.9" y2="210.02" stroke="#dc2820" stroke-width="1.5"/><line x1="1771.7" y1="235.09" x2="1779.9" y2="235.09" stroke="#dc2820" stroke-width="1.5"/>
<circle cx="1775.8" cy="222.55" r="4.1" fill="#dc2820"/>
<line x1="1826.1" y1="224.81" x2="1826.1" y2="234.84" stroke="#dc2820" stroke-width="1.5"/><line x1="1822" y1="224.81" x2="1830.2" y2="224.81" stroke="#dc2820" stroke-width="1.5"/><line x1="1822" y1="234.84" x2="1830.2" y2="234.84" stroke="#dc2820" stroke-width="1.5"/>
<circle cx="1826.1" cy="229.83" r="4.1" fill="#dc2820"/>
<line x1="1853" y1="35.9" x2="1874.5" y2="35.9" stroke="#dc2820" stroke-width="1.5"/>
<circle cx="1863.8" cy="35.9" r="4.1" fill="#dc2820"/>
<text x="1886.5" y="40.5" font-size="11.8" text-anchor="start" style="font-family:'Liberation Serif',serif;font-weight:bold" letter-spacing="0.25">Young</text>
<line x1="1853" y1="53" x2="1874.5" y2="53" stroke="#2550a6" stroke-width="1.5"/>
<rect x="1859.9" y="49.11" width="7.79" height="7.79" fill="#2550a6"/>
<text x="1886.5" y="57.6" font-size="11.8" text-anchor="start" style="font-family:'Liberation Serif',serif;font-weight:bold" letter-spacing="0.25">Old</text>
<line x1="1853" y1="70.1" x2="1874.5" y2="70.1" stroke="#dc2820" stroke-width="1.5"/>
<path d="M1863.8 66.2L1868.11 73.99L1859.49 73.99Z" fill="#dc2820"/>
<text x="1886.5" y="74.7" font-size="11.8" text-anchor="start" style="font-family:'Liberation Serif',serif;font-weight:bold" letter-spacing="0.25">Young+Isch</text>
<line x1="1853" y1="87.2" x2="1874.5" y2="87.2" stroke="#2550a6" stroke-width="1.5"/>
<path d="M1859.49 83.31L1868.11 83.31L1863.8 91.09Z" fill="#2550a6"/>
<text x="1886.5" y="91.8" font-size="11.8" text-anchor="start" style="font-family:'Liberation Serif',serif;font-weight:bold" letter-spacing="0.25">Old+Isch</text>
<text x="1493" y="369.6" font-size="44" text-anchor="start" style="font-family:'Liberation Serif',serif;font-weight:bold" >D</text>
<line x1="1581" y1="375.8" x2="1581" y2="604.2" stroke="#000" stroke-width="2.2"/>
<line x1="1579.9" y1="603.1" x2="1871.5" y2="603.1" stroke="#000" stroke-width="2.2"/>
<line x1="1571.3" y1="603.1" x2="1581" y2="603.1" stroke="#000" stroke-width="2.2"/>
<text x="1570.1" y="609.2" font-size="17" text-anchor="end" style="font-family:'Liberation Sans',sans-serif;font-weight:bold" letter-spacing="0.6">0</text>
<line x1="1571.3" y1="527.66" x2="1581" y2="527.66" stroke="#000" stroke-width="2.2"/>
<text x="1570.1" y="533.76" font-size="17" text-anchor="end" style="font-family:'Liberation Sans',sans-serif;font-weight:bold" letter-spacing="0.6">5</text>
<line x1="1571.3" y1="452.23" x2="1581" y2="452.23" stroke="#000" stroke-width="2.2"/>
<text x="1570.1" y="458.33" font-size="17" text-anchor="end" style="font-family:'Liberation Sans',sans-serif;font-weight:bold" letter-spacing="0.6">10</text>
<line x1="1571.3" y1="376.8" x2="1581" y2="376.8" stroke="#000" stroke-width="2.2"/>
<text x="1570.1" y="382.9" font-size="17" text-anchor="end" style="font-family:'Liberation Sans',sans-serif;font-weight:bold" letter-spacing="0.6">15</text>
<line x1="1625.4" y1="603.1" x2="1625.4" y2="613.1" stroke="#000" stroke-width="2.2"/>
<line x1="1692" y1="603.1" x2="1692" y2="613.1" stroke="#000" stroke-width="2.2"/>
<line x1="1758.8" y1="603.1" x2="1758.8" y2="613.1" stroke="#000" stroke-width="2.2"/>
<line x1="1825.2" y1="603.1" x2="1825.2" y2="613.1" stroke="#000" stroke-width="2.2"/>
<text x="0" y="0" font-size="17.2" text-anchor="end" style="font-family:'Liberation Serif',serif;font-weight:bold" transform="translate(1631 628.1) rotate(-45)">Young</text>
<text x="0" y="0" font-size="17.2" text-anchor="end" style="font-family:'Liberation Serif',serif;font-weight:bold" transform="translate(1697.6 628.1) rotate(-45)">Old</text>
<text x="0" y="0" font-size="17.2" text-anchor="end" style="font-family:'Liberation Serif',serif;font-weight:bold" transform="translate(1764.4 628.1) rotate(-45)">Young+Isch</text>
<text x="0" y="0" font-size="17.2" text-anchor="end" style="font-family:'Liberation Serif',serif;font-weight:bold" transform="translate(1830.8 628.1) rotate(-45)">Old+Isch</text>
<line x1="1625.4" y1="472.3" x2="1625.4" y2="532.04" stroke="#dc2820" stroke-width="1.4"/>
<line x1="1614.4" y1="472.3" x2="1636.4" y2="472.3" stroke="#dc2820" stroke-width="1.4"/>
<line x1="1614.4" y1="532.04" x2="1636.4" y2="532.04" stroke="#dc2820" stroke-width="1.4"/>
<line x1="1603.3" y1="501.87" x2="1647.5" y2="501.87" stroke="#000" stroke-width="2.6"/>
<circle cx="1625.4" cy="452.23" r="4.8" fill="#dc2820"/>
<circle cx="1625.4" cy="482.4" r="4.8" fill="#dc2820"/>
<circle cx="1614.6" cy="497.49" r="4.8" fill="#dc2820"/>
<circle cx="1637" cy="497.49" r="4.8" fill="#dc2820"/>
<circle cx="1625.4" cy="512.58" r="4.8" fill="#dc2820"/>
<circle cx="1625.4" cy="527.66" r="4.8" fill="#dc2820"/>
<circle cx="1625.4" cy="542.75" r="4.8" fill="#dc2820"/>
<line x1="1692" y1="518.16" x2="1692" y2="559.8" stroke="#2550a6" stroke-width="1.4"/>
<line x1="1681" y1="518.16" x2="1703" y2="518.16" stroke="#2550a6" stroke-width="1.4"/>
<line x1="1681" y1="559.8" x2="1703" y2="559.8" stroke="#2550a6" stroke-width="1.4"/>
<line x1="1669.9" y1="538.83" x2="1714.1" y2="538.83" stroke="#000" stroke-width="2.6"/>
<rect x="1687.44" y="508.02" width="9.12" height="9.12" fill="#2550a6"/>
<rect x="1672.84" y="523.11" width="9.12" height="9.12" fill="#2550a6"/>
<rect x="1687.44" y="523.11" width="9.12" height="9.12" fill="#2550a6"/>
<rect x="1702.44" y="523.11" width="9.12" height="9.12" fill="#2550a6"/>
<rect x="1687.44" y="538.19" width="9.12" height="9.12" fill="#2550a6"/>
<rect x="1687.44" y="553.28" width="9.12" height="9.12" fill="#2550a6"/>
<rect x="1687.44" y="568.37" width="9.12" height="9.12" fill="#2550a6"/>
<line x1="1758.8" y1="537.02" x2="1758.8" y2="570.96" stroke="#dc2820" stroke-width="1.4"/>
<line x1="1747.8" y1="537.02" x2="1769.8" y2="537.02" stroke="#dc2820" stroke-width="1.4"/>
<line x1="1747.8" y1="570.96" x2="1769.8" y2="570.96" stroke="#dc2820" stroke-width="1.4"/>
<line x1="1736.7" y1="554.22" x2="1780.9" y2="554.22" stroke="#000" stroke-width="2.6"/>
<path d="M1758.8 523.11L1763.84 532.22L1753.76 532.22Z" fill="#dc2820"/>
<path d="M1747.3 538.19L1752.34 547.31L1742.26 547.31Z" fill="#dc2820"/>
<path d="M1769.8 538.19L1774.84 547.31L1764.76 547.31Z" fill="#dc2820"/>
<path d="M1747.3 553.28L1752.34 562.4L1742.26 562.4Z" fill="#dc2820"/>
<path d="M1769.8 553.28L1774.84 562.4L1764.76 562.4Z" fill="#dc2820"/>
<path d="M1747.3 568.37L1752.34 577.49L1742.26 577.49Z" fill="#dc2820"/>
<path d="M1769.8 568.37L1774.84 577.49L1764.76 577.49Z" fill="#dc2820"/>
<line x1="1825.2" y1="564.93" x2="1825.2" y2="594.35" stroke="#2550a6" stroke-width="1.4"/>
<line x1="1814.2" y1="564.93" x2="1836.2" y2="564.93" stroke="#2550a6" stroke-width="1.4"/>
<line x1="1814.2" y1="594.35" x2="1836.2" y2="594.35" stroke="#2550a6" stroke-width="1.4"/>
<line x1="1803.1" y1="579.87" x2="1847.3" y2="579.87" stroke="#000" stroke-width="2.6"/>
<path d="M1820.16 553.28L1830.24 553.28L1825.2 562.4Z" fill="#2550a6"/>
<path d="M1805.36 568.37L1815.44 568.37L1810.4 577.49Z" fill="#2550a6"/>
<path d="M1820.16 568.37L1830.24 568.37L1825.2 577.49Z" fill="#2550a6"/>
<path d="M1835.16 568.37L1845.24 568.37L1840.2 577.49Z" fill="#2550a6"/>
<path d="M1812.76 583.45L1822.84 583.45L1817.8 592.57Z" fill="#2550a6"/>
<path d="M1827.76 583.45L1837.84 583.45L1832.8 592.57Z" fill="#2550a6"/>
<path d="M1820.16 598.54L1830.24 598.54L1825.2 607.66Z" fill="#2550a6"/>
<text x="0" y="0" font-size="22" text-anchor="middle" style="font-family:'Liberation Serif',serif;font-weight:bold" transform="translate(1537.9 489.5) rotate(-90)">Passing times</text>
<text x="1686.92" y="498.79" font-size="26" text-anchor="start" style="font-family:'Liberation Sans',sans-serif;font-weight:bold" >*</text>
<text x="1754.02" y="513.69" font-size="26" text-anchor="start" style="font-family:'Liberation Sans',sans-serif;font-weight:bold" >*</text>
<text x="1814.42" y="545.09" font-size="26" text-anchor="start" style="font-family:'Liberation Sans',sans-serif;font-weight:bold" >*</text><text x="1827.1" y="536.51" font-size="15" text-anchor="start" style="font-family:'Liberation Sans',sans-serif;font-weight:bold" >#</text>
<text x="1497" y="780.4" font-size="44" text-anchor="start" style="font-family:'Liberation Serif',serif;font-weight:bold" >F</text>
<line x1="1591.4" y1="822.3" x2="1591.4" y2="1050.5" stroke="#000" stroke-width="2.2"/>
<line x1="1590.3" y1="1049.4" x2="1881" y2="1049.4" stroke="#000" stroke-width="2.2"/>
<line x1="1581.7" y1="1049.4" x2="1591.4" y2="1049.4" stroke="#000" stroke-width="2.2"/>
<text x="1579.9" y="1055.5" font-size="17" text-anchor="end" style="font-family:'Liberation Sans',sans-serif;font-weight:bold" letter-spacing="0.6">60</text>
<line x1="1581.7" y1="1004.18" x2="1591.4" y2="1004.18" stroke="#000" stroke-width="2.2"/>
<text x="1579.9" y="1010.28" font-size="17" text-anchor="end" style="font-family:'Liberation Sans',sans-serif;font-weight:bold" letter-spacing="0.6">70</text>
<line x1="1581.7" y1="958.96" x2="1591.4" y2="958.96" stroke="#000" stroke-width="2.2"/>
<text x="1579.9" y="965.06" font-size="17" text-anchor="end" style="font-family:'Liberation Sans',sans-serif;font-weight:bold" letter-spacing="0.6">80</text>
<line x1="1581.7" y1="913.74" x2="1591.4" y2="913.74" stroke="#000" stroke-width="2.2"/>
<text x="1579.9" y="919.84" font-size="17" text-anchor="end" style="font-family:'Liberation Sans',sans-serif;font-weight:bold" letter-spacing="0.6">90</text>
<line x1="1581.7" y1="868.52" x2="1591.4" y2="868.52" stroke="#000" stroke-width="2.2"/>
<text x="1579.9" y="874.62" font-size="17" text-anchor="end" style="font-family:'Liberation Sans',sans-serif;font-weight:bold" letter-spacing="0.6">100</text>
<line x1="1581.7" y1="823.3" x2="1591.4" y2="823.3" stroke="#000" stroke-width="2.2"/>
<text x="1579.9" y="829.4" font-size="17" text-anchor="end" style="font-family:'Liberation Sans',sans-serif;font-weight:bold" letter-spacing="0.6">110</text>
<line x1="1635.5" y1="1049.4" x2="1635.5" y2="1059.4" stroke="#000" stroke-width="2.2"/>
<line x1="1702" y1="1049.4" x2="1702" y2="1059.4" stroke="#000" stroke-width="2.2"/>
<line x1="1768.8" y1="1049.4" x2="1768.8" y2="1059.4" stroke="#000" stroke-width="2.2"/>
<line x1="1835.5" y1="1049.4" x2="1835.5" y2="1059.4" stroke="#000" stroke-width="2.2"/>
<text x="0" y="0" font-size="17.8" text-anchor="end" style="font-family:'Liberation Serif',serif;font-weight:bold" transform="translate(1641.3 1075.4) rotate(-45)">Young</text>
<text x="0" y="0" font-size="17.8" text-anchor="end" style="font-family:'Liberation Serif',serif;font-weight:bold" transform="translate(1707.8 1075.4) rotate(-45)">Old</text>
<text x="0" y="0" font-size="17.8" text-anchor="end" style="font-family:'Liberation Serif',serif;font-weight:bold" transform="translate(1774.6 1075.4) rotate(-45)">Young+Isch</text>
<text x="0" y="0" font-size="17.8" text-anchor="end" style="font-family:'Liberation Serif',serif;font-weight:bold" transform="translate(1841.3 1075.4) rotate(-45)">Old+Isch</text>
<line x1="1635.5" y1="851.79" x2="1635.5" y2="885.25" stroke="#dc2820" stroke-width="1.4"/>
<line x1="1624.5" y1="851.79" x2="1646.5" y2="851.79" stroke="#dc2820" stroke-width="1.4"/>
<line x1="1624.5" y1="885.25" x2="1646.5" y2="885.25" stroke="#dc2820" stroke-width="1.4"/>
<line x1="1613.4" y1="868.52" x2="1657.6" y2="868.52" stroke="#000" stroke-width="2.6"/>
<circle cx="1635.5" cy="841.39" r="4.8" fill="#dc2820"/>
<circle cx="1619.5" cy="864" r="4.8" fill="#dc2820"/>
<circle cx="1635.5" cy="859.48" r="4.8" fill="#dc2820"/>
<circle cx="1630.2" cy="868.52" r="4.8" fill="#dc2820"/>
<circle cx="1641.1" cy="873.04" r="4.8" fill="#dc2820"/>
<circle cx="1652.4" cy="877.56" r="4.8" fill="#dc2820"/>
<circle cx="1635.5" cy="895.65" r="4.8" fill="#dc2820"/>
<line x1="1702" y1="878.47" x2="1702" y2="949.92" stroke="#2550a6" stroke-width="1.4"/>
<line x1="1691" y1="878.47" x2="1713" y2="878.47" stroke="#2550a6" stroke-width="1.4"/>
<line x1="1691" y1="949.92" x2="1713" y2="949.92" stroke="#2550a6" stroke-width="1.4"/>
<line x1="1679.9" y1="913.74" x2="1724.1" y2="913.74" stroke="#000" stroke-width="2.6"/>
<rect x="1697.44" y="841.35" width="9.12" height="9.12" fill="#2550a6"/>
<rect x="1697.44" y="886.57" width="9.12" height="9.12" fill="#2550a6"/>
<rect x="1697.44" y="909.18" width="9.12" height="9.12" fill="#2550a6"/>
<rect x="1686.84" y="918.22" width="9.12" height="9.12" fill="#2550a6"/>
<rect x="1709.04" y="927.27" width="9.12" height="9.12" fill="#2550a6"/>
<rect x="1686.84" y="936.31" width="9.12" height="9.12" fill="#2550a6"/>
<rect x="1709.04" y="945.36" width="9.12" height="9.12" fill="#2550a6"/>
<line x1="1768.8" y1="916.45" x2="1768.8" y2="956.7" stroke="#dc2820" stroke-width="1.4"/>
<line x1="1757.8" y1="916.45" x2="1779.8" y2="916.45" stroke="#dc2820" stroke-width="1.4"/>
<line x1="1757.8" y1="956.7" x2="1779.8" y2="956.7" stroke="#dc2820" stroke-width="1.4"/>
<line x1="1746.7" y1="936.8" x2="1790.9" y2="936.8" stroke="#000" stroke-width="2.6"/>
<path d="M1768.8 900.14L1773.84 909.26L1763.76 909.26Z" fill="#dc2820"/>
<path d="M1776.2 918.22L1781.24 927.34L1771.16 927.34Z" fill="#dc2820"/>
<path d="M1761.6 927.27L1766.64 936.39L1756.56 936.39Z" fill="#dc2820"/>
<path d="M1754 931.79L1759.04 940.91L1748.96 940.91Z" fill="#dc2820"/>
<path d="M1768.8 936.31L1773.84 945.43L1763.76 945.43Z" fill="#dc2820"/>
<path d="M1783.8 945.36L1788.84 954.48L1778.76 954.48Z" fill="#dc2820"/>
<path d="M1768.8 963.44L1773.84 972.56L1763.76 972.56Z" fill="#dc2820"/>
<line x1="1835.5" y1="954.89" x2="1835.5" y2="1007.8" stroke="#2550a6" stroke-width="1.4"/>
<line x1="1824.5" y1="954.89" x2="1846.5" y2="954.89" stroke="#2550a6" stroke-width="1.4"/>
<line x1="1824.5" y1="1007.8" x2="1846.5" y2="1007.8" stroke="#2550a6" stroke-width="1.4"/>
<line x1="1813.4" y1="981.12" x2="1857.6" y2="981.12" stroke="#000" stroke-width="2.6"/>
<path d="M1830.46 936.31L1840.54 936.31L1835.5 945.43Z" fill="#2550a6"/>
<path d="M1841.36 953.95L1851.44 953.95L1846.4 963.07Z" fill="#2550a6"/>
<path d="M1819.36 962.99L1829.44 962.99L1824.4 972.11Z" fill="#2550a6"/>
<path d="M1819.36 980.63L1829.44 980.63L1824.4 989.75Z" fill="#2550a6"/>
<path d="M1841.36 986.05L1851.44 986.05L1846.4 995.17Z" fill="#2550a6"/>
<path d="M1819.36 1004.14L1829.44 1004.14L1824.4 1013.26Z" fill="#2550a6"/>
<path d="M1841.36 1008.21L1851.44 1008.21L1846.4 1017.33Z" fill="#2550a6"/>
<text x="0" y="0" font-size="22.3" text-anchor="middle" style="font-family:'Liberation Serif',serif;font-weight:bold" transform="translate(1540.8 936.7) rotate(-90)">CBF (% of Isch group)</text>
<text x="1697.12" y="840.09" font-size="26" text-anchor="start" style="font-family:'Liberation Sans',sans-serif;font-weight:bold" >*</text>
<text x="1763.82" y="897.09" font-size="26" text-anchor="start" style="font-family:'Liberation Sans',sans-serif;font-weight:bold" >*</text>
<text x="1824.42" y="930.89" font-size="26" text-anchor="start" style="font-family:'Liberation Sans',sans-serif;font-weight:bold" >*</text><text x="1837.3" y="922.72" font-size="15" text-anchor="start" style="font-family:'Liberation Sans',sans-serif;font-weight:bold" >#</text>
<defs>
<filter id="heat0" x="48.3" y="797.8" width="313.6" height="319.4" filterUnits="userSpaceOnUse" primitiveUnits="userSpaceOnUse" color-interpolation-filters="sRGB"><feTurbulence type="fractalNoise" baseFrequency="0.33" numOctaves="2" seed="11" result="t1"/><feTurbulence type="fractalNoise" baseFrequency="0.09" numOctaves="2" seed="18" result="t2"/><feComposite in="t1" in2="t2" operator="arithmetic" k2="0.6" k3="0.4" result="t"/><feColorMatrix in="t" type="matrix" values="1 0 0 0 0 1 0 0 0 0 1 0 0 0 0 0 0 0 0 1" result="n"/><feComponentTransfer in="SourceGraphic" result="m"><feFuncR type="linear" slope="40"/><feFuncG type="linear" slope="40"/><feFuncB type="linear" slope="40"/></feComponentTransfer><feComposite in="n" in2="m" operator="arithmetic" k1="1" result="nm"/><feComposite in="SourceGraphic" in2="nm" operator="arithmetic" k2="0.45" k3="0.54" result="s1"/><feComposite in="s1" in2="m" operator="arithmetic" k2="2.22" k3="-0.6" result="v"/><feComponentTransfer in="v" result="c"><feFuncR type="table" tableValues="0.000 0.000 0.000 0.008 0.039 0.063 0.102 0.157 0.251 0.392 0.557 0.745 0.886 0.949 0.965 0.925 0.878 0.804 0.698 0.651 0.635"/><feFuncG type="table" tableValues="0.000 0.000 0.000 0.016 0.078 0.141 0.243 0.392 0.573 0.729 0.816 0.871 0.898 0.871 0.667 0.353 0.157 0.110 0.086 0.082 0.082"/><feFuncB type="table" tableValues="0.000 0.000 0.000 0.086 0.345 0.502 0.675 0.792 0.824 0.706 0.510 0.322 0.204 0.157 0.125 0.094 0.086 0.094 0.106 0.110 0.110"/><feFuncA type="linear" slope="0" intercept="1"/></feComponentTransfer><feGaussianBlur in="c" stdDeviation="0.3"/></filter>
<filter id="zb0" x="-10%" y="-10%" width="120%" height="120%"><feGaussianBlur stdDeviation="6"/></filter>
<clipPath id="ic0"><rect x="48.3" y="797.8" width="313.6" height="319.4"/></clipPath>
<filter id="heat1" x="395.3" y="798.9" width="318.5" height="318.5" filterUnits="userSpaceOnUse" primitiveUnits="userSpaceOnUse" color-interpolation-filters="sRGB"><feTurbulence type="fractalNoise" baseFrequency="0.33" numOctaves="2" seed="16" result="t1"/><feTurbulence type="fractalNoise" baseFrequency="0.09" numOctaves="2" seed="23" result="t2"/><feComposite in="t1" in2="t2" operator="arithmetic" k2="0.6" k3="0.4" result="t"/><feColorMatrix in="t" type="matrix" values="1 0 0 0 0 1 0 0 0 0 1 0 0 0 0 0 0 0 0 1" result="n"/><feComponentTransfer in="SourceGraphic" result="m"><feFuncR type="linear" slope="40"/><feFuncG type="linear" slope="40"/><feFuncB type="linear" slope="40"/></feComponentTransfer><feComposite in="n" in2="m" operator="arithmetic" k1="1" result="nm"/><feComposite in="SourceGraphic" in2="nm" operator="arithmetic" k2="0.45" k3="0.54" result="s1"/><feComposite in="s1" in2="m" operator="arithmetic" k2="2.22" k3="-0.6" result="v"/><feComponentTransfer in="v" result="c"><feFuncR type="table" tableValues="0.000 0.000 0.000 0.008 0.039 0.063 0.102 0.157 0.251 0.392 0.557 0.745 0.886 0.949 0.965 0.925 0.878 0.804 0.698 0.651 0.635"/><feFuncG type="table" tableValues="0.000 0.000 0.000 0.016 0.078 0.141 0.243 0.392 0.573 0.729 0.816 0.871 0.898 0.871 0.667 0.353 0.157 0.110 0.086 0.082 0.082"/><feFuncB type="table" tableValues="0.000 0.000 0.000 0.086 0.345 0.502 0.675 0.792 0.824 0.706 0.510 0.322 0.204 0.157 0.125 0.094 0.086 0.094 0.106 0.110 0.110"/><feFuncA type="linear" slope="0" intercept="1"/></feComponentTransfer><feGaussianBlur in="c" stdDeviation="0.3"/></filter>
<filter id="zb1" x="-10%" y="-10%" width="120%" height="120%"><feGaussianBlur stdDeviation="7"/></filter>
<clipPath id="ic1"><rect x="395.3" y="798.9" width="318.5" height="318.5"/></clipPath>
<filter id="heat2" x="749.5" y="798.9" width="318.5" height="318.5" filterUnits="userSpaceOnUse" primitiveUnits="userSpaceOnUse" color-interpolation-filters="sRGB"><feTurbulence type="fractalNoise" baseFrequency="0.33" numOctaves="2" seed="21" result="t1"/><feTurbulence type="fractalNoise" baseFrequency="0.09" numOctaves="2" seed="28" result="t2"/><feComposite in="t1" in2="t2" operator="arithmetic" k2="0.6" k3="0.4" result="t"/><feColorMatrix in="t" type="matrix" values="1 0 0 0 0 1 0 0 0 0 1 0 0 0 0 0 0 0 0 1" result="n"/><feComponentTransfer in="SourceGraphic" result="m"><feFuncR type="linear" slope="40"/><feFuncG type="linear" slope="40"/><feFuncB type="linear" slope="40"/></feComponentTransfer><feComposite in="n" in2="m" operator="arithmetic" k1="1" result="nm"/><feComposite in="SourceGraphic" in2="nm" operator="arithmetic" k2="0.45" k3="0.54" result="s1"/><feComposite in="s1" in2="m" operator="arithmetic" k2="2.22" k3="-0.6" result="v"/><feComponentTransfer in="v" result="c"><feFuncR type="table" tableValues="0.000 0.000 0.000 0.008 0.039 0.063 0.102 0.157 0.251 0.392 0.557 0.745 0.886 0.949 0.965 0.925 0.878 0.804 0.698 0.651 0.635"/><feFuncG type="table" tableValues="0.000 0.000 0.000 0.016 0.078 0.141 0.243 0.392 0.573 0.729 0.816 0.871 0.898 0.871 0.667 0.353 0.157 0.110 0.086 0.082 0.082"/><feFuncB type="table" tableValues="0.000 0.000 0.000 0.086 0.345 0.502 0.675 0.792 0.824 0.706 0.510 0.322 0.204 0.157 0.125 0.094 0.086 0.094 0.106 0.110 0.110"/><feFuncA type="linear" slope="0" intercept="1"/></feComponentTransfer><feGaussianBlur in="c" stdDeviation="0.3"/></filter>
<filter id="zb2" x="-10%" y="-10%" width="120%" height="120%"><feGaussianBlur stdDeviation="6"/></filter>
<clipPath id="ic2"><rect x="749.5" y="798.9" width="318.5" height="318.5"/></clipPath>
<filter id="heat3" x="1101.1" y="798.9" width="318.5" height="318.5" filterUnits="userSpaceOnUse" primitiveUnits="userSpaceOnUse" color-interpolation-filters="sRGB"><feTurbulence type="fractalNoise" baseFrequency="0.33" numOctaves="2" seed="26" result="t1"/><feTurbulence type="fractalNoise" baseFrequency="0.09" numOctaves="2" seed="33" result="t2"/><feComposite in="t1" in2="t2" operator="arithmetic" k2="0.6" k3="0.4" result="t"/><feColorMatrix in="t" type="matrix" values="1 0 0 0 0 1 0 0 0 0 1 0 0 0 0 0 0 0 0 1" result="n"/><feComponentTransfer in="SourceGraphic" result="m"><feFuncR type="linear" slope="40"/><feFuncG type="linear" slope="40"/><feFuncB type="linear" slope="40"/></feComponentTransfer><feComposite in="n" in2="m" operator="arithmetic" k1="1" result="nm"/><feComposite in="SourceGraphic" in2="nm" operator="arithmetic" k2="0.45" k3="0.54" result="s1"/><feComposite in="s1" in2="m" operator="arithmetic" k2="2.22" k3="-0.6" result="v"/><feComponentTransfer in="v" result="c"><feFuncR type="table" tableValues="0.000 0.000 0.000 0.008 0.039 0.063 0.102 0.157 0.251 0.392 0.557 0.745 0.886 0.949 0.965 0.925 0.878 0.804 0.698 0.651 0.635"/><feFuncG type="table" tableValues="0.000 0.000 0.000 0.016 0.078 0.141 0.243 0.392 0.573 0.729 0.816 0.871 0.898 0.871 0.667 0.353 0.157 0.110 0.086 0.082 0.082"/><feFuncB type="table" tableValues="0.000 0.000 0.000 0.086 0.345 0.502 0.675 0.792 0.824 0.706 0.510 0.322 0.204 0.157 0.125 0.094 0.086 0.094 0.106 0.110 0.110"/><feFuncA type="linear" slope="0" intercept="1"/></feComponentTransfer><feGaussianBlur in="c" stdDeviation="0.3"/></filter>
<filter id="zb3" x="-10%" y="-10%" width="120%" height="120%"><feGaussianBlur stdDeviation="7"/></filter>
<clipPath id="ic3"><rect x="1101.1" y="798.9" width="318.5" height="318.5"/></clipPath>
</defs>
<g clip-path="url(#ic0)"><g filter="url(#heat0)">
<rect x="48.3" y="797.8" width="313.6" height="319.4" fill="#000"/>
<g transform="translate(45 795) scale(0.278009)">
<g filter="url(#zb0)">
<path d="M540 30C560 28.33 573.33 40 600 60C626.67 80 670 118.33 700 150C730 181.67 755 220 780 250C805 280 830 305 850 330C870 355 885 375 900 400C915 425 930 453.33 940 480C950 506.67 951.67 531.67 960 560C968.33 588.33 976.67 618.33 990 650C1003.33 681.67 1023.33 720 1040 750C1056.67 780 1080 805 1090 830C1100 855 1100 878.33 1100 900C1100 921.67 1096.67 935 1090 960C1083.33 985 1071.67 1023.33 1060 1050C1048.33 1076.67 1031.67 1099.17 1020 1120C1008.33 1140.83 1126.67 1165.83 990 1175C853.33 1184.17 340 1187.5 200 1175C60 1162.5 168.33 1125.83 150 1100C131.67 1074.17 105 1050 90 1020C75 990 65 953.33 60 920C55 886.67 56.67 853.33 60 820C63.33 786.67 71.67 753.33 80 720C88.33 686.67 96.67 651.67 110 620C123.33 588.33 141.67 561.67 160 530C178.33 498.33 200 463.33 220 430C240 396.67 258.33 363.33 280 330C301.67 296.67 326.67 260 350 230C373.33 200 398.33 176.67 420 150C441.67 123.33 460 90 480 70C500 50 520 31.67 540 30Z" fill="rgb(69,69,69)"/>
<path d="M130 560C150.83 515 191.67 455 220 420C248.33 385 271.67 366.67 300 350C328.33 333.33 361.67 316.67 390 320C418.33 323.33 451.67 345 470 370C488.33 395 481.67 445 500 470C518.33 495 546.67 510 580 520C613.33 530 663.33 533.33 700 530C736.67 526.67 770 506.67 800 500C830 493.33 858.33 480 880 490C901.67 500 916.67 531.67 930 560C943.33 588.33 948.33 626.67 960 660C971.67 693.33 988.33 726.67 1000 760C1011.67 793.33 1025 826.67 1030 860C1035 893.33 1035 926.67 1030 960C1025 993.33 1013.33 1028.33 1000 1060C986.67 1091.67 1083.33 1131.67 950 1150C816.67 1168.33 340 1183.33 200 1170C60 1156.67 130 1105 110 1070C90 1035 85 1001.67 80 960C75 918.33 77.5 865 80 820C82.5 775 86.67 733.33 95 690C103.33 646.67 109.17 605 130 560Z" fill="rgb(143,143,143)"/>
<path d="M590 330C608.33 310 661.67 300 700 300C738.33 300 790 310 820 330C850 350 870 393.33 880 420C890 446.67 900 476.67 880 490C860 503.33 800 503.33 760 500C720 496.67 668.33 483.33 640 470C611.67 456.67 598.33 443.33 590 420C581.67 396.67 571.67 350 590 330Z" fill="rgb(92,92,92)"/>
<path d="M300 340C300 328.33 351.67 301.67 380 300C408.33 298.33 446.67 320 470 330C493.33 340 520 351.67 520 360C520 368.33 493.33 378.33 470 380C446.67 381.67 408.33 376.67 380 370C351.67 363.33 300 351.67 300 340Z" fill="rgb(128,128,128)"/>
<path d="M560 60C563.33 41.67 586.67 66.67 600 90C613.33 113.33 636.67 171.67 640 200C643.33 228.33 630 260 620 260C610 260 590 233.33 580 200C570 166.67 556.67 78.33 560 60Z" fill="rgb(128,128,128)"/>
<path d="M700 330C713.33 320 773.33 298.33 800 300C826.67 301.67 860 328.33 860 340C860 351.67 823.33 366.67 800 370C776.67 373.33 736.67 366.67 720 360C703.33 353.33 686.67 340 700 330Z" fill="rgb(112,112,112)"/>
<path d="M140 760C151.67 726.67 173.33 700 190 700C206.67 700 228.33 726.67 240 760C251.67 793.33 253.33 860 260 900C266.67 940 281.67 966.67 280 1000C278.33 1033.33 266.67 1080 250 1100C233.33 1120 200 1130 180 1120C160 1110 140 1076.67 130 1040C120 1003.33 118.33 946.67 120 900C121.67 853.33 128.33 793.33 140 760Z" fill="rgb(204,204,204)"/>
<path d="M820 860C836.67 836.67 876.67 816.67 900 820C923.33 823.33 943.33 853.33 960 880C976.67 906.67 996.67 946.67 1000 980C1003.33 1013.33 996.67 1056.67 980 1080C963.33 1103.33 926.67 1123.33 900 1120C873.33 1116.67 836.67 1086.67 820 1060C803.33 1033.33 800 993.33 800 960C800 926.67 803.33 883.33 820 860Z" fill="rgb(199,199,199)"/>
<path d="M180 1000C200 966.67 260 970 300 960C340 950 383.33 950 420 940C456.67 930 483.33 906.67 520 900C556.67 893.33 600 890 640 900C680 910 720 943.33 760 960C800 976.67 846.67 983.33 880 1000C913.33 1016.67 943.33 1033.33 960 1060C976.67 1086.67 1110 1143.33 980 1160C850 1176.67 313.33 1186.67 180 1160C46.67 1133.33 160 1033.33 180 1000Z" fill="rgb(214,214,214)"/>
<path d="M420 1060C433.33 1038.33 456.67 1033.33 480 1030C503.33 1026.67 536.67 1031.67 560 1040C583.33 1048.33 606.67 1060 620 1080C633.33 1100 676.67 1146.67 640 1160C603.33 1173.33 436.67 1176.67 400 1160C363.33 1143.33 406.67 1081.67 420 1060Z" fill="rgb(158,158,158)"/>
<path d="M420 600C426.67 576.67 453.33 560 470 560C486.67 560 513.33 576.67 520 600C526.67 623.33 518.33 673.33 510 700C501.67 726.67 483.33 760 470 760C456.67 760 438.33 726.67 430 700C421.67 673.33 413.33 623.33 420 600Z" fill="rgb(107,107,107)"/>
<path d="M650 700C660 683.33 695 660 720 660C745 660 788.33 680 800 700C811.67 720 803.33 763.33 790 780C776.67 796.67 741.67 803.33 720 800C698.33 796.67 671.67 776.67 660 760C648.33 743.33 640 716.67 650 700Z" fill="rgb(112,112,112)"/>
<path d="M380 380C390 363.33 450 373.33 480 380C510 386.67 540 403.33 560 420C580 436.67 606.67 463.33 600 480C593.33 496.67 550 520 520 520C490 520 443.33 503.33 420 480C396.67 456.67 370 396.67 380 380Z" fill="rgb(92,92,92)"/>
<path d="M980 700C986.67 685 1021.67 735 1040 760C1058.33 785 1081.67 816.67 1090 850C1098.33 883.33 1098.33 945 1090 960C1081.67 975 1055 958.33 1040 940C1025 921.67 1010 890 1000 850C990 810 973.33 715 980 700Z" fill="rgb(84,84,84)"/>
</g>
<clipPath id="bcl0"><path d="M540 30C560 28.33 573.33 40 600 60C626.67 80 670 118.33 700 150C730 181.67 755 220 780 250C805 280 830 305 850 330C870 355 885 375 900 400C915 425 930 453.33 940 480C950 506.67 951.67 531.67 960 560C968.33 588.33 976.67 618.33 990 650C1003.33 681.67 1023.33 720 1040 750C1056.67 780 1080 805 1090 830C1100 855 1100 878.33 1100 900C1100 921.67 1096.67 935 1090 960C1083.33 985 1071.67 1023.33 1060 1050C1048.33 1076.67 1031.67 1099.17 1020 1120C1008.33 1140.83 1126.67 1165.83 990 1175C853.33 1184.17 340 1187.5 200 1175C60 1162.5 168.33 1125.83 150 1100C131.67 1074.17 105 1050 90 1020C75 990 65 953.33 60 920C55 886.67 56.67 853.33 60 820C63.33 786.67 71.67 753.33 80 720C88.33 686.67 96.67 651.67 110 620C123.33 588.33 141.67 561.67 160 530C178.33 498.33 200 463.33 220 430C240 396.67 258.33 363.33 280 330C301.67 296.67 326.67 260 350 230C373.33 200 398.33 176.67 420 150C441.67 123.33 460 90 480 70C500 50 520 31.67 540 30Z"/></clipPath>
<g clip-path="url(#bcl0)">
<path d="M575 220C575 233.33 575.5 273.33 575 300C574.5 326.67 572.83 351.67 572 380C571.17 408.33 570.33 455 570 470" fill="none" stroke="rgb(255,255,255)" stroke-width="22" stroke-linecap="round" stroke-linejoin="round"/>
<path d="M570 520C569.67 533.33 568.83 570 568 600C567.17 630 566.33 666.67 565 700C563.67 733.33 562.5 770 560 800C557.5 830 551.67 866.67 550 880" fill="none" stroke="rgb(255,255,255)" stroke-width="26" stroke-linecap="round" stroke-linejoin="round"/>
<path d="M555 760C553.33 776.67 550.83 828.33 545 860C539.17 891.67 535.83 923.33 520 950C504.17 976.67 478.33 998.33 450 1020C421.67 1041.67 380 1060 350 1080C320 1100 283.33 1130 270 1140" fill="none" stroke="rgb(255,255,255)" stroke-width="48" stroke-linecap="round" stroke-linejoin="round"/>
<path d="M560 800C565 816.67 573.33 870 590 900C606.67 930 631.67 956.67 660 980C688.33 1003.33 726.67 1020 760 1040C793.33 1060 843.33 1090 860 1100" fill="none" stroke="rgb(255,255,255)" stroke-width="46" stroke-linecap="round" stroke-linejoin="round"/>
<path d="M300 380C316.67 377.5 370 368.33 400 365C430 361.67 453.33 363.33 480 360C506.67 356.67 533.33 346.67 560 345C586.67 343.33 613.33 347.5 640 350C666.67 352.5 706.67 358.33 720 360" fill="none" stroke="rgb(255,255,255)" stroke-width="10" stroke-linecap="round" stroke-linejoin="round"/>
<path d="M560 540C545 536.67 500 526.67 470 520C440 513.33 408.33 501.67 380 500C351.67 498.33 325 503.33 300 510C275 516.67 241.67 535 230 540" fill="none" stroke="rgb(255,255,255)" stroke-width="16" stroke-linecap="round" stroke-linejoin="round"/>
<path d="M330 500C323.33 510 300 535 290 560C280 585 275 618.33 270 650C265 681.67 262.5 716.67 260 750C257.5 783.33 253.33 816.67 255 850C256.67 883.33 267.5 933.33 270 950" fill="none" stroke="rgb(255,255,255)" stroke-width="16" stroke-linecap="round" stroke-linejoin="round"/>
<path d="M560 640C545 635 496.67 613.33 470 610C443.33 606.67 421.67 611.67 400 620C378.33 628.33 355 643.33 340 660C325 676.67 315 710 310 720" fill="none" stroke="rgb(255,255,255)" stroke-width="12" stroke-linecap="round" stroke-linejoin="round"/>
<path d="M540 700C528.33 703.33 490 706.67 470 720C450 733.33 433.33 756.67 420 780C406.67 803.33 396.67 833.33 390 860C383.33 886.67 381.67 926.67 380 940" fill="none" stroke="rgb(255,255,255)" stroke-width="12" stroke-linecap="round" stroke-linejoin="round"/>
<path d="M330 660C331.67 676.67 336.67 726.67 340 760C343.33 793.33 348.33 843.33 350 860" fill="none" stroke="rgb(255,255,255)" stroke-width="9" stroke-linecap="round" stroke-linejoin="round"/>
<path d="M580 590C596.67 588.33 646.67 580 680 580C713.33 580 746.67 583.33 780 590C813.33 596.67 856.67 610 880 620C903.33 630 913.33 645 920 650" fill="none" stroke="rgb(255,255,255)" stroke-width="14" stroke-linecap="round" stroke-linejoin="round"/>
<path d="M600 650C613.33 656.67 653.33 675 680 690C706.67 705 735 721.67 760 740C785 758.33 810 776.67 830 800C850 823.33 871.67 866.67 880 880" fill="none" stroke="rgb(255,255,255)" stroke-width="12" stroke-linecap="round" stroke-linejoin="round"/>
<path d="M800 600C810 613.33 846.67 650 860 680C873.33 710 876.67 746.67 880 780C883.33 813.33 883.33 846.67 880 880C876.67 913.33 863.33 963.33 860 980" fill="none" stroke="rgb(255,255,255)" stroke-width="13" stroke-linecap="round" stroke-linejoin="round"/>
<path d="M620 760C633.33 766.67 676.67 783.33 700 800C723.33 816.67 743.33 836.67 760 860C776.67 883.33 793.33 926.67 800 940" fill="none" stroke="rgb(255,255,255)" stroke-width="10" stroke-linecap="round" stroke-linejoin="round"/>
<path d="M700 590C703.33 578.33 710 538.33 720 520C730 501.67 753.33 486.67 760 480" fill="none" stroke="rgb(255,255,255)" stroke-width="8" stroke-linecap="round" stroke-linejoin="round"/>
<path d="M250 540C241.67 553.33 213.33 590 200 620C186.67 650 175 703.33 170 720" fill="none" stroke="rgb(255,255,255)" stroke-width="12" stroke-linecap="round" stroke-linejoin="round"/>
<path d="M420 520C416.67 508.33 406.67 470 400 450C393.33 430 383.33 408.33 380 400" fill="none" stroke="rgb(255,255,255)" stroke-width="7" stroke-linecap="round" stroke-linejoin="round"/>
<path d="M458.69 555.09C456.52 555.95 449.87 558.25 445.68 560.28C441.5 562.32 437.38 564.64 433.57 567.31C429.76 569.97 426.35 573.23 422.83 576.28C419.3 579.33 416.03 582.69 412.41 585.63C408.78 588.56 404.5 590.74 401.1 593.89C397.7 597.03 394.24 600.53 392 604.52C389.76 608.51 388.64 613.29 387.64 617.83C386.64 622.36 386.27 629.41 386 631.73" fill="none" stroke="rgb(255,255,255)" stroke-width="5.85" stroke-linecap="round" stroke-linejoin="round"/>
<path d="M445.32 535.87C444.05 533.91 440.2 528.07 437.74 524.1C435.28 520.13 431.76 514.08 430.57 512.08" fill="none" stroke="rgb(255,255,255)" stroke-width="3.8" stroke-linecap="round" stroke-linejoin="round"/>
<path d="M445.97 521.89C443.96 520.69 438.15 516.68 433.94 514.73C429.73 512.77 425.23 510.65 420.7 510.16C416.18 509.67 409.12 511.52 406.8 511.8" fill="none" stroke="rgb(255,255,255)" stroke-width="3.8" stroke-linecap="round" stroke-linejoin="round"/>
<path d="M451.08 480.46C453.01 479.16 459.04 475.53 462.69 472.65C466.35 469.78 469.49 466.25 473.02 463.2C476.55 460.15 482.07 455.84 483.88 454.37" fill="none" stroke="rgb(255,255,255)" stroke-width="3.8" stroke-linecap="round" stroke-linejoin="round"/>
<path d="M444.96 439.55C446.58 437.88 451.72 433.07 454.7 429.5C457.68 425.93 459.95 421.77 462.83 418.11C465.72 414.44 469.08 411.16 471.99 407.51C474.9 403.87 478.92 398.13 480.3 396.25" fill="none" stroke="rgb(255,255,255)" stroke-width="3.8" stroke-linecap="round" stroke-linejoin="round"/>
<path d="M445.7 549.87C445.63 547.53 445.27 540.53 445.32 535.87C445.36 531.21 445.74 526.55 445.97 521.89C446.2 517.22 445.91 512.48 446.68 507.9C447.45 503.33 449.84 499.03 450.57 494.46C451.31 489.88 451.13 485.13 451.08 480.46C451.02 475.8 450.39 471.15 450.26 466.49C450.14 461.83 451.19 456.98 450.31 452.49C449.42 448 445.85 441.71 444.96 439.55" fill="none" stroke="rgb(255,255,255)" stroke-width="5.85" stroke-linecap="round" stroke-linejoin="round"/>
<path d="M397.5 530.97C395.19 531.35 388.25 533.4 383.68 533.22C379.11 533.04 374.5 531.35 370.08 529.89C365.66 528.43 359.32 525.38 357.17 524.47" fill="none" stroke="rgb(255,255,255)" stroke-width="3.8" stroke-linecap="round" stroke-linejoin="round"/>
<path d="M383.56 532.31C383.21 534.61 381.4 541.54 381.44 546.14C381.48 550.75 383.41 557.64 383.8 559.94" fill="none" stroke="rgb(255,255,255)" stroke-width="3.8" stroke-linecap="round" stroke-linejoin="round"/>
<path d="M425.48 530.57C423.15 530.68 416.16 531.14 411.49 531.21C406.83 531.28 402.15 530.79 397.5 530.97C392.84 531.16 388.06 531.24 383.56 532.31C379.06 533.38 374.92 535.85 370.51 537.39C366.11 538.92 361.56 540.03 357.13 541.5C352.71 542.98 348.49 545.39 343.96 546.24C339.43 547.09 334.54 545.88 329.96 546.6C325.39 547.32 318.78 549.9 316.54 550.57" fill="none" stroke="rgb(255,255,255)" stroke-width="5.85" stroke-linecap="round" stroke-linejoin="round"/>
<path d="M418.45 490.4C419.96 488.63 425.08 483.66 427.55 479.76C430.03 475.87 431.56 471.33 433.31 467C435.05 462.68 437.23 456.02 438.02 453.82" fill="none" stroke="rgb(255,255,255)" stroke-width="3.8" stroke-linecap="round" stroke-linejoin="round"/>
<path d="M389.47 415.28C390.17 413.05 392.96 406.49 393.67 401.93C394.38 397.37 393.41 392.58 393.71 387.93C394.01 383.28 395.17 376.35 395.46 374.04" fill="none" stroke="rgb(255,255,255)" stroke-width="3.8" stroke-linecap="round" stroke-linejoin="round"/>
<path d="M416.29 504.23C416.65 501.93 418.18 495.04 418.45 490.4C418.71 485.76 418.34 481.05 417.9 476.41C417.47 471.77 416.6 467.16 415.83 462.56C415.06 457.96 414.49 453.29 413.28 448.8C412.06 444.31 410.78 439.65 408.55 435.62C406.32 431.59 403.09 427.99 399.91 424.6C396.73 421.21 391.21 416.83 389.47 415.28" fill="none" stroke="rgb(255,255,255)" stroke-width="5.85" stroke-linecap="round" stroke-linejoin="round"/>
<path d="M399.86 452.22C400.45 449.96 402.41 443.23 403.41 438.68C404.41 434.12 404.34 429.25 405.84 424.89C407.34 420.53 409.95 416.48 412.39 412.52C414.83 408.55 418.22 405.14 420.47 401.08C422.71 397.02 425.36 392.62 425.88 388.17C426.39 383.71 424.37 378.95 423.57 374.36C422.76 369.76 421.46 362.88 421.04 360.59" fill="none" stroke="rgb(255,255,255)" stroke-width="5.85" stroke-linecap="round" stroke-linejoin="round"/>
<path d="M555 560C552.72 559.48 545.93 557.78 541.35 556.91C536.76 556.04 532.11 554.76 527.51 554.79C522.9 554.82 518.32 556.48 513.7 557.1C509.08 557.71 504.39 557.84 499.77 558.49C495.15 559.13 490.6 560.92 485.99 560.99C481.39 561.07 476.7 559.92 472.15 558.93C467.6 557.95 463.09 556.6 458.69 555.09C454.28 553.58 449.45 552.45 445.7 549.87C441.94 547.28 439.54 542.82 436.18 539.6C432.81 536.39 428.22 534.2 425.48 530.57C422.74 526.94 421.26 522.19 419.73 517.8C418.2 513.41 417.53 508.73 416.29 504.23C415.06 499.73 412.84 495.38 412.3 490.81C411.76 486.25 414.18 481.14 413.07 476.83C411.95 472.53 407.82 469.08 405.62 464.98C403.42 460.88 402.03 456.34 399.86 452.22C397.69 448.1 395.04 444.23 392.58 440.26C390.12 436.29 386.36 430.39 385.12 428.42" fill="none" stroke="rgb(255,255,255)" stroke-width="9" stroke-linecap="round" stroke-linejoin="round"/>
<path d="M500.79 621.67C498.51 621.16 491.51 620.13 487.13 618.61C482.75 617.08 478.84 614.27 474.53 612.51C470.21 610.76 465.64 609.66 461.24 608.09C456.85 606.52 450.34 603.94 448.16 603.1" fill="none" stroke="rgb(255,255,255)" stroke-width="3.5" stroke-linecap="round" stroke-linejoin="round"/>
<path d="M446.18 630.17C444.55 628.5 439.09 623.9 436.39 620.15C433.7 616.41 432.15 611.84 429.99 607.71C427.83 603.57 425.13 599.65 423.43 595.34C421.73 591.02 420.38 584.08 419.77 581.82" fill="none" stroke="rgb(255,255,255)" stroke-width="3.5" stroke-linecap="round" stroke-linejoin="round"/>
<path d="M432.24 631.46C430.55 629.84 425.53 624.97 422.13 621.76C418.74 618.56 415.24 615.47 411.88 612.23C408.51 609 404.59 606.13 401.94 602.37C399.3 598.62 396.99 591.81 396 589.7" fill="none" stroke="rgb(255,255,255)" stroke-width="3.5" stroke-linecap="round" stroke-linejoin="round"/>
<path d="M418.89 635.69C418 637.85 415.69 644.51 413.52 648.62C411.36 652.73 408.29 656.36 405.91 660.37C403.52 664.38 401.81 668.81 399.23 672.67C396.64 676.53 391.88 681.73 390.41 683.55" fill="none" stroke="rgb(255,255,255)" stroke-width="3.5" stroke-linecap="round" stroke-linejoin="round"/>
<path d="M392.58 645.04C390.41 644.18 383.58 642.16 379.56 639.88C375.54 637.6 372.45 633.7 368.45 631.36C364.46 629.02 359.88 627.68 355.6 625.82C351.32 623.96 347.16 621.76 342.77 620.2C338.39 618.65 331.53 617.1 329.28 616.47" fill="none" stroke="rgb(255,255,255)" stroke-width="3.5" stroke-linecap="round" stroke-linejoin="round"/>
<path d="M513.41 615.61C511.3 616.62 505.2 620.3 500.79 621.67C496.38 623.05 491.41 622.56 486.96 623.86C482.52 625.15 478.59 628.58 474.12 629.44C469.65 630.29 464.79 628.88 460.13 629C455.47 629.12 450.83 629.76 446.18 630.17C441.53 630.58 436.78 630.54 432.24 631.46C427.69 632.38 423.37 634.37 418.89 635.69C414.42 637.02 409.78 637.86 405.4 639.42C401.01 640.97 394.71 644.1 392.58 645.04" fill="none" stroke="rgb(255,255,255)" stroke-width="5.2" stroke-linecap="round" stroke-linejoin="round"/>
<path d="M444.79 681.26C444.68 683.59 444.68 690.62 444.11 695.24C443.55 699.86 442.46 704.43 441.39 708.97C440.32 713.51 438.96 717.98 437.68 722.47C436.4 726.96 435.28 731.51 433.7 735.89C432.12 740.28 429.13 746.63 428.22 748.77" fill="none" stroke="rgb(255,255,255)" stroke-width="3.5" stroke-linecap="round" stroke-linejoin="round"/>
<path d="M485.84 611.17C484 612.61 478.03 616.46 474.79 619.76C471.55 623.06 469.45 627.45 466.42 630.98C463.38 634.52 458.87 637.05 456.6 640.96C454.32 644.87 454.15 649.97 452.78 654.43C451.41 658.89 449.71 663.25 448.38 667.72C447.05 672.19 445.99 676.75 444.79 681.26C443.59 685.76 442.92 690.49 441.17 694.78C439.43 699.07 435.46 704.95 434.32 706.99" fill="none" stroke="rgb(255,255,255)" stroke-width="5.2" stroke-linecap="round" stroke-linejoin="round"/>
<path d="M441.41 717.17C443.6 717.95 450.22 720.24 454.59 721.87C458.97 723.5 465.47 726.1 467.64 726.94" fill="none" stroke="rgb(255,255,255)" stroke-width="3.5" stroke-linecap="round" stroke-linejoin="round"/>
<path d="M444.3 730.87C446.29 732.09 452.47 735.46 456.22 738.21C459.97 740.97 465.02 745.87 466.78 747.4" fill="none" stroke="rgb(255,255,255)" stroke-width="3.5" stroke-linecap="round" stroke-linejoin="round"/>
<path d="M452.08 742.51C450.78 744.44 446.3 749.97 444.28 754.13C442.26 758.29 440.13 762.96 439.96 767.45C439.8 771.93 442.73 778.78 443.28 781.05" fill="none" stroke="rgb(255,255,255)" stroke-width="3.5" stroke-linecap="round" stroke-linejoin="round"/>
<path d="M415.04 684.92C416.61 686.65 421.21 691.93 424.47 695.27C427.73 698.6 431.77 701.29 434.6 704.94C437.42 708.59 439.79 712.85 441.41 717.17C443.02 721.49 442.52 726.64 444.3 730.87C446.08 735.09 449.42 738.67 452.08 742.51C454.74 746.34 458.89 751.98 460.26 753.87" fill="none" stroke="rgb(255,255,255)" stroke-width="5.2" stroke-linecap="round" stroke-linejoin="round"/>
<path d="M490.43 680.58C489.99 678.29 488.3 671.46 487.77 666.83C487.25 662.21 487.36 655.17 487.27 652.84" fill="none" stroke="rgb(255,255,255)" stroke-width="3.5" stroke-linecap="round" stroke-linejoin="round"/>
<path d="M414.77 698.92C417.03 699.51 423.77 701.42 428.31 702.47C432.86 703.53 437.42 704.93 442.04 705.24C446.65 705.55 451.61 705.56 456.01 704.34C460.41 703.12 464.53 700.41 468.44 697.91C472.35 695.4 475.82 692.19 479.49 689.3C483.15 686.41 488.61 682.03 490.43 680.58" fill="none" stroke="rgb(255,255,255)" stroke-width="5.2" stroke-linecap="round" stroke-linejoin="round"/>
<path d="M555 620C552.67 620.03 545.65 620.43 541 620.18C536.35 619.93 531.7 619.28 527.1 618.52C522.5 617.76 517.96 616.64 513.41 615.61C508.86 614.57 504.39 613.06 499.8 612.32C495.2 611.59 490.37 610.59 485.84 611.17C481.32 611.76 477.11 614.51 472.64 615.84C468.18 617.17 463.26 617.34 459.05 619.17C454.83 621.01 451.18 624.2 447.34 626.85C443.5 629.5 439.23 631.78 435.99 635.05C432.76 638.33 430.64 642.7 427.93 646.5C425.22 650.29 421.91 653.76 419.72 657.83C417.52 661.91 415.54 666.41 414.76 670.93C413.98 675.44 415.04 680.26 415.04 684.92C415.04 689.59 415.34 694.31 414.77 698.92C414.2 703.53 412.86 708.07 411.63 712.56C410.4 717.06 409.02 721.54 407.38 725.9C405.75 730.27 402.75 736.61 401.82 738.75" fill="none" stroke="rgb(255,255,255)" stroke-width="8" stroke-linecap="round" stroke-linejoin="round"/>
<path d="M548.1 653.65C546.68 651.8 542.67 646.02 539.57 642.55C536.48 639.07 531.19 634.43 529.51 632.81" fill="none" stroke="rgb(255,255,255)" stroke-width="3.5" stroke-linecap="round" stroke-linejoin="round"/>
<path d="M541.92 695.02C542.02 692.69 542.12 685.68 542.54 681.04C542.96 676.39 543.49 671.73 544.42 667.16C545.34 662.6 546.78 658.13 548.1 653.65C549.41 649.18 551.58 644.87 552.33 640.31C553.08 635.75 552.56 628.64 552.61 626.31" fill="none" stroke="rgb(255,255,255)" stroke-width="5.2" stroke-linecap="round" stroke-linejoin="round"/>
<path d="M488.4 682.43C486.13 682.98 479.38 684.97 474.79 685.72C470.2 686.48 465.5 686.55 460.85 686.97C456.2 687.39 451.54 688.38 446.91 688.24C442.27 688.11 437.58 687.27 433.06 686.18C428.54 685.08 422.02 682.41 419.81 681.66" fill="none" stroke="rgb(255,255,255)" stroke-width="5.2" stroke-linecap="round" stroke-linejoin="round"/>
<path d="M466.26 665.29C466.11 662.96 466.17 655.88 465.34 651.32C464.52 646.75 463.08 642.2 461.3 637.91C459.51 633.63 456.1 629.95 454.65 625.59C453.19 621.23 453.86 616.19 452.56 611.75C451.27 607.31 448.71 603.25 446.89 598.95C445.07 594.65 443.25 590.35 441.65 585.97C440.04 581.59 437.98 574.89 437.25 572.68" fill="none" stroke="rgb(255,255,255)" stroke-width="5.2" stroke-linecap="round" stroke-linejoin="round"/>
<path d="M467.07 586.3C467.09 583.97 467.6 576.93 467.21 572.3C466.81 567.67 465.04 563.15 464.7 558.53C464.36 553.9 464.84 549.19 465.17 544.53C465.5 539.88 466.43 532.94 466.68 530.62" fill="none" stroke="rgb(255,255,255)" stroke-width="3.5" stroke-linecap="round" stroke-linejoin="round"/>
<path d="M439.42 616.92C440.62 614.92 443.47 608.19 446.62 604.91C449.77 601.63 454.92 600.34 458.33 597.24C461.74 594.14 464.18 589.97 467.07 586.3C469.95 582.63 473.13 579.14 475.63 575.23C478.13 571.31 479.84 566.89 482.05 562.78C484.27 558.68 486.47 554.55 488.93 550.59C491.38 546.62 494.41 543.01 496.77 538.99C499.14 534.98 502.08 528.6 503.14 526.52" fill="none" stroke="rgb(255,255,255)" stroke-width="5.2" stroke-linecap="round" stroke-linejoin="round"/>
<path d="M473.8 523.95C476.09 523.51 482.93 521.92 487.55 521.31C492.16 520.7 499.18 520.48 501.51 520.31" fill="none" stroke="rgb(255,255,255)" stroke-width="3.5" stroke-linecap="round" stroke-linejoin="round"/>
<path d="M484.72 515.19C485.26 512.92 486.73 506.07 487.94 501.57C489.15 497.06 491.32 490.4 491.99 488.17" fill="none" stroke="rgb(255,255,255)" stroke-width="3.5" stroke-linecap="round" stroke-linejoin="round"/>
<path d="M430.58 577.1C432.61 575.96 439.19 573.13 442.78 570.25C446.37 567.37 449.28 563.5 452.1 559.8C454.92 556.1 457.12 551.93 459.71 548.05C462.31 544.18 465.34 540.56 467.69 536.54C470.03 532.53 470.96 527.51 473.8 523.95C476.64 520.39 480.7 517.43 484.72 515.19C488.74 512.96 495.73 511.32 497.93 510.55" fill="none" stroke="rgb(255,255,255)" stroke-width="5.2" stroke-linecap="round" stroke-linejoin="round"/>
<path d="M475.89 510.68C478.22 510.65 485.25 510.17 489.89 510.51C494.52 510.85 499.18 511.66 503.71 512.72C508.24 513.78 512.84 515 517.08 516.87C521.32 518.74 527.15 522.76 529.17 523.94" fill="none" stroke="rgb(255,255,255)" stroke-width="3.5" stroke-linecap="round" stroke-linejoin="round"/>
<path d="M430.26 563.11C431.96 561.51 437.14 556.8 440.47 553.54C443.81 550.27 447.36 547.15 450.27 543.54C453.18 539.92 455.42 535.75 457.95 531.83C460.48 527.91 462.46 523.53 465.45 520.01C468.44 516.48 472.53 513.91 475.89 510.68C479.25 507.44 481.89 503.29 485.62 500.61C489.35 497.93 494.69 497.42 498.26 494.6C501.83 491.78 503.93 487.16 507.03 483.69C510.14 480.22 515.26 475.42 516.91 473.77" fill="none" stroke="rgb(255,255,255)" stroke-width="5.2" stroke-linecap="round" stroke-linejoin="round"/>
<path d="M425.71 498.8C427.31 497.11 432.28 492.16 435.33 488.63C438.39 485.11 442.19 481.79 444.03 477.66C445.87 473.54 445.35 468.41 446.38 463.86C447.42 459.32 449.6 452.65 450.25 450.41" fill="none" stroke="rgb(255,255,255)" stroke-width="3.5" stroke-linecap="round" stroke-linejoin="round"/>
<path d="M437.3 551.01C436.28 548.91 433.36 542.54 431.16 538.43C428.97 534.31 425.56 530.66 424.12 526.33C422.67 522 422.22 517.01 422.48 512.42C422.75 507.84 424.86 503.38 425.71 498.8C426.56 494.22 426.52 489.45 427.57 484.93C428.61 480.4 430.27 475.97 431.99 471.64C433.7 467.31 435.63 463.02 437.86 458.93C440.08 454.84 444.09 449.07 445.33 447.09" fill="none" stroke="rgb(255,255,255)" stroke-width="5.2" stroke-linecap="round" stroke-linejoin="round"/>
<path d="M555 700C552.82 699.17 546.33 696.54 541.92 695.02C537.5 693.5 533.08 691.86 528.54 690.9C523.99 689.94 519.28 689.53 514.63 689.26C509.98 688.98 505.01 690.38 500.63 689.24C496.26 688.1 492.3 684.97 488.4 682.43C484.5 679.89 480.92 676.85 477.23 673.99C473.54 671.13 469.71 668.42 466.26 665.29C462.82 662.15 458.97 659.06 456.57 655.18C454.17 651.3 453.71 646.28 451.87 641.99C450.04 637.71 447.64 633.67 445.57 629.5C443.49 625.32 441.64 621.02 439.42 616.92C437.2 612.82 433.81 609.21 432.23 604.9C430.65 600.6 430.23 595.72 429.95 591.09C429.67 586.46 430.52 581.77 430.58 577.1C430.63 572.44 429.14 567.46 430.26 563.11C431.38 558.76 436.13 553.03 437.3 551.01" fill="none" stroke="rgb(255,255,255)" stroke-width="8" stroke-linecap="round" stroke-linejoin="round"/>
<path d="M384.07 884.6C384.23 886.92 384.35 893.96 385.06 898.56C385.76 903.16 387.18 907.65 388.3 912.18C389.42 916.71 390.79 921.18 391.8 925.74C392.82 930.29 393.74 934.88 394.37 939.5C395.01 944.12 395.4 951.12 395.61 953.44" fill="none" stroke="rgb(255,255,255)" stroke-width="3.5" stroke-linecap="round" stroke-linejoin="round"/>
<path d="M490.28 854.76C487.96 854.93 480.96 855.26 476.32 855.76C471.68 856.25 467.07 857.04 462.46 857.74C457.85 858.45 453.24 859.22 448.65 860.01C444.05 860.79 439.4 861.4 434.86 862.47C430.33 863.55 425.93 865.16 421.45 866.47C416.96 867.77 412.33 868.66 407.98 870.29C403.62 871.92 399.3 873.87 395.31 876.25C391.33 878.64 387.08 881.17 384.07 884.6C381.06 888.03 378.4 894.8 377.27 896.84" fill="none" stroke="rgb(255,255,255)" stroke-width="5.2" stroke-linecap="round" stroke-linejoin="round"/>
<path d="M436.54 913.65C436.86 915.96 437.95 922.88 438.41 927.52C438.87 932.16 439.34 936.84 439.33 941.49C439.32 946.15 438.53 953.13 438.37 955.46" fill="none" stroke="rgb(255,255,255)" stroke-width="3.5" stroke-linecap="round" stroke-linejoin="round"/>
<path d="M397.94 953.03C397.46 955.31 395.68 962.12 395.06 966.73C394.43 971.34 393.93 976.07 394.19 980.7C394.45 985.33 395.94 989.87 396.61 994.49C397.29 999.11 397.96 1006.08 398.23 1008.4" fill="none" stroke="rgb(255,255,255)" stroke-width="3.5" stroke-linecap="round" stroke-linejoin="round"/>
<path d="M481.63 881.19C479.49 882.12 472.7 884.32 468.79 886.76C464.87 889.21 461.67 892.81 458.15 895.87C454.63 898.93 451.27 902.18 447.67 905.15C444.07 908.11 439.64 910.26 436.54 913.65C433.45 917.04 431.79 921.7 429.09 925.5C426.39 929.3 423.54 933.05 420.34 936.43C417.14 939.8 413.64 942.99 409.9 945.76C406.17 948.52 401.75 950.35 397.94 953.03C394.13 955.71 388.86 960.36 387.04 961.82" fill="none" stroke="rgb(255,255,255)" stroke-width="5.2" stroke-linecap="round" stroke-linejoin="round"/>
<path d="M550 780C548.1 781.36 542.45 785.49 538.63 788.16C534.8 790.84 530.5 792.96 527.05 796.04C523.6 799.12 520.34 802.73 517.92 806.65C515.5 810.57 514.51 815.35 512.55 819.58C510.59 823.81 508.26 827.87 506.14 832.03C504.03 836.19 502.48 840.74 499.84 844.53C497.19 848.32 492.85 850.94 490.28 854.76C487.71 858.59 485.85 863.07 484.41 867.47C482.97 871.88 482.79 876.68 481.63 881.19C480.47 885.7 479.33 890.31 477.45 894.55C475.56 898.79 473.06 902.85 470.34 906.61C467.62 910.38 464.45 913.9 461.12 917.15C457.79 920.4 453.62 922.8 450.36 926.11C447.11 929.42 444.71 933.56 441.6 937.03C438.49 940.5 433.36 945.29 431.71 946.94" fill="none" stroke="rgb(255,255,255)" stroke-width="8" stroke-linecap="round" stroke-linejoin="round"/>
<path d="M672.58 512.81C673.35 510.61 675.88 504.07 677.22 499.6C678.55 495.14 679.83 490.61 680.61 486.02C681.38 481.43 682.25 476.65 681.86 472.07C681.47 467.5 679.28 463.1 678.25 458.55C677.22 454 676.6 449.36 675.68 444.78C674.76 440.21 673.21 433.38 672.72 431.1" fill="none" stroke="rgb(255,255,255)" stroke-width="3.8" stroke-linecap="round" stroke-linejoin="round"/>
<path d="M675.37 499.09C674.01 497.19 670.24 491.24 667.24 487.69C664.24 484.14 660.64 481.1 657.34 477.79C654.05 474.48 650.46 471.42 647.49 467.85C644.51 464.28 640.81 458.28 639.47 456.37" fill="none" stroke="rgb(255,255,255)" stroke-width="3.8" stroke-linecap="round" stroke-linejoin="round"/>
<path d="M678.38 471.43C678.94 469.16 679.91 462.06 681.72 457.83C683.54 453.6 686.03 449.24 689.26 446.03C692.5 442.83 697.23 441.17 701.12 438.6C705.02 436.03 708.5 432.69 712.63 430.62C716.76 428.56 723.7 426.95 725.92 426.22" fill="none" stroke="rgb(255,255,255)" stroke-width="3.8" stroke-linecap="round" stroke-linejoin="round"/>
<path d="M668.71 430.86C667 429.28 661.02 425.12 658.42 421.38C655.82 417.63 654.98 412.7 653.14 408.41C651.3 404.12 650.04 399.37 647.36 395.66C644.68 391.95 638.79 387.75 637.07 386.16" fill="none" stroke="rgb(255,255,255)" stroke-width="3.8" stroke-linecap="round" stroke-linejoin="round"/>
<path d="M663.26 417.97C663.08 415.64 661.39 408.47 662.15 404.01C662.92 399.56 666.66 395.68 667.87 391.23C669.09 386.79 669.33 381.97 669.47 377.33C669.61 372.68 668.9 368.01 668.7 363.35C668.5 358.68 668.68 353.99 668.27 349.35C667.85 344.71 666.57 337.81 666.23 335.5" fill="none" stroke="rgb(255,255,255)" stroke-width="3.8" stroke-linecap="round" stroke-linejoin="round"/>
<path d="M661.28 404.11C662.77 402.32 666.67 396.22 670.22 393.34C673.78 390.46 678.72 389.36 682.6 386.8C686.48 384.25 690.23 381.31 693.51 378.02C696.78 374.73 699.46 370.83 702.25 367.08C705.03 363.34 708.88 357.48 710.2 355.57" fill="none" stroke="rgb(255,255,255)" stroke-width="3.8" stroke-linecap="round" stroke-linejoin="round"/>
<path d="M665.12 553.98C665.72 551.73 667.62 544.98 668.72 540.45C669.83 535.92 671.13 531.4 671.78 526.79C672.42 522.18 671.98 517.43 672.58 512.81C673.18 508.2 674.4 503.66 675.37 499.09C676.34 494.53 677.9 490.04 678.41 485.43C678.91 480.81 678.94 476.03 678.38 471.43C677.83 466.83 675.82 462.42 675.07 457.82C674.32 453.23 674.95 448.37 673.89 443.87C672.83 439.38 670.49 435.18 668.71 430.86C666.94 426.55 664.5 422.43 663.26 417.97C662.03 413.51 661.61 406.42 661.28 404.11" fill="none" stroke="rgb(255,255,255)" stroke-width="5.85" stroke-linecap="round" stroke-linejoin="round"/>
<path d="M791.74 499.66C793.84 498.65 800.66 496.3 804.36 493.59C808.06 490.88 810.78 486.82 813.95 483.39C817.11 479.96 820.72 476.82 823.34 473.01C825.96 469.2 828.61 462.6 829.66 460.52" fill="none" stroke="rgb(255,255,255)" stroke-width="3.8" stroke-linecap="round" stroke-linejoin="round"/>
<path d="M819.67 498.26C821.4 499.83 826.59 504.53 830.03 507.69C833.47 510.84 836.92 513.98 840.3 517.2C843.69 520.41 847.02 523.68 850.33 526.96C853.65 530.25 858.55 535.25 860.19 536.91" fill="none" stroke="rgb(255,255,255)" stroke-width="3.8" stroke-linecap="round" stroke-linejoin="round"/>
<path d="M683.11 517.77C685.3 516.95 691.74 514.11 696.21 512.82C700.68 511.54 705.38 511.08 709.94 510.09C714.5 509.09 719.16 508.34 723.55 506.83C727.94 505.31 731.89 502.51 736.28 501C740.67 499.48 745.3 498.37 749.9 497.74C754.5 497.11 759.22 497.2 763.89 497.2C768.55 497.2 773.24 497.31 777.88 497.72C782.52 498.13 787.11 499.57 791.74 499.66C796.37 499.76 801.02 498.51 805.67 498.28C810.33 498.05 815.01 498.44 819.67 498.26C824.33 498.09 831.31 497.39 833.63 497.22" fill="none" stroke="rgb(255,255,255)" stroke-width="5.85" stroke-linecap="round" stroke-linejoin="round"/>
<path d="M669.62 429.71C670.55 427.57 672.71 420.75 675.19 416.87C677.66 412.98 680.75 408.95 684.49 406.41C688.23 403.86 695.45 402.41 697.65 401.62" fill="none" stroke="rgb(255,255,255)" stroke-width="3.8" stroke-linecap="round" stroke-linejoin="round"/>
<path d="M635.61 405.23C635.23 402.93 633.73 396.06 633.28 391.43C632.84 386.79 632.59 382.06 632.94 377.43C633.28 372.8 635.24 368.25 635.33 363.64C635.42 359.03 633.77 352.08 633.46 349.76" fill="none" stroke="rgb(255,255,255)" stroke-width="3.8" stroke-linecap="round" stroke-linejoin="round"/>
<path d="M694.56 478.46C692.86 476.86 686.97 472.61 684.37 468.85C681.76 465.1 680.85 460.2 678.94 455.95C677.03 451.7 674.44 447.7 672.88 443.33C671.33 438.95 671.98 433.44 669.62 429.71C667.26 425.98 662.35 423.86 658.7 420.95C655.05 418.05 651.56 414.9 647.71 412.28C643.86 409.66 639.15 408.17 635.61 405.23C632.08 402.29 629.21 398.39 626.48 394.62C623.74 390.86 620.42 384.65 619.21 382.66" fill="none" stroke="rgb(255,255,255)" stroke-width="5.85" stroke-linecap="round" stroke-linejoin="round"/>
<path d="M667.69 376.86C669.13 375.02 673.27 369.36 676.31 365.82C679.35 362.29 682.19 358.31 685.92 355.64C689.64 352.97 696.53 350.79 698.65 349.82" fill="none" stroke="rgb(255,255,255)" stroke-width="3.8" stroke-linecap="round" stroke-linejoin="round"/>
<path d="M688.17 410.22C686.28 408.84 680.15 405.2 676.85 401.97C673.55 398.75 669.89 395.03 668.36 390.84C666.84 386.65 667.43 381.49 667.69 376.86C667.96 372.22 669.54 367.68 669.95 363.04C670.37 358.4 670.52 353.68 670.17 349.04C669.82 344.41 669.06 339.72 667.86 335.23C666.65 330.75 663.77 324.31 662.95 322.12" fill="none" stroke="rgb(255,255,255)" stroke-width="5.85" stroke-linecap="round" stroke-linejoin="round"/>
<path d="M580 580C582.22 580.71 588.78 583.37 593.33 584.29C597.87 585.2 602.65 585.67 607.27 585.51C611.9 585.34 616.46 583.65 621.1 583.29C625.73 582.92 631.13 585 635.1 583.34C639.06 581.68 641.57 576.61 644.89 573.34C648.21 570.06 651.66 566.91 655.03 563.68C658.4 560.46 661.69 557.14 665.12 553.98C668.56 550.83 673.33 548.55 675.65 544.75C677.97 540.95 677.81 535.67 679.05 531.17C680.3 526.68 681.4 522.1 683.11 517.77C684.82 513.45 687.32 509.44 689.3 505.22C691.29 501 694.17 496.91 695.04 492.45C695.92 487.99 695.34 483.01 694.56 478.46C693.78 473.9 691.84 469.53 690.36 465.1C688.88 460.67 686.68 456.42 685.7 451.9C684.72 447.37 684.29 442.57 684.48 437.95C684.68 433.33 686.26 428.78 686.87 424.16C687.49 419.53 688.32 414.84 688.17 410.22C688.01 405.59 686.7 401 685.96 396.39C685.22 391.78 684.1 384.87 683.73 382.57" fill="none" stroke="rgb(255,255,255)" stroke-width="9" stroke-linecap="round" stroke-linejoin="round"/>
<path d="M635.44 708.1C636.9 709.92 641.32 715.35 644.2 719.01C647.09 722.68 649.68 726.6 652.76 730.1C655.84 733.59 661.02 738.33 662.67 739.98" fill="none" stroke="rgb(255,255,255)" stroke-width="3.5" stroke-linecap="round" stroke-linejoin="round"/>
<path d="M593.46 653.84C595.25 655.34 600.76 659.68 604.2 662.82C607.65 665.97 610.96 669.27 614.12 672.7C617.28 676.13 620.26 679.74 623.15 683.4C626.04 687.06 629.41 690.56 631.45 694.68C633.5 698.79 634.5 703.54 635.44 708.1C636.38 712.65 637.22 717.39 637.08 722C636.94 726.61 635 733.48 634.58 735.78" fill="none" stroke="rgb(255,255,255)" stroke-width="5.2" stroke-linecap="round" stroke-linejoin="round"/>
<path d="M701.53 688.77C703.65 689.74 709.83 693.35 714.27 694.58C718.71 695.8 723.56 695.52 728.18 696.12C732.81 696.73 737.54 698.66 742.03 698.19C746.52 697.71 750.71 694.72 755.14 693.26C759.57 691.8 766.36 690.07 768.6 689.43" fill="none" stroke="rgb(255,255,255)" stroke-width="3.5" stroke-linecap="round" stroke-linejoin="round"/>
<path d="M690.43 663.1C691.26 665.28 693.53 671.92 695.38 676.2C697.23 680.47 699.56 684.55 701.53 688.77C703.5 693 705.98 697.12 707.22 701.56C708.47 706.01 709.02 710.83 708.99 715.45C708.96 720.08 708.17 724.82 707.02 729.31C705.87 733.81 704.08 738.22 702.08 742.41C700.07 746.61 697.48 750.54 694.98 754.48C692.47 758.41 689.97 762.39 687.06 766.02C684.15 769.66 679.12 774.57 677.53 776.28" fill="none" stroke="rgb(255,255,255)" stroke-width="5.2" stroke-linecap="round" stroke-linejoin="round"/>
<path d="M580 650C582.24 650.64 588.94 652.7 593.46 653.84C597.98 654.98 602.54 656.61 607.14 656.85C611.73 657.09 616.4 655.59 621.05 655.29C625.7 654.99 630.39 654.87 635.05 655.05C639.7 655.24 644.36 655.77 648.98 656.39C653.61 657.01 658.17 658.07 662.78 658.78C667.39 659.48 672.05 659.88 676.66 660.6C681.27 661.32 685.83 662.36 690.43 663.1C695.04 663.83 699.68 664.38 704.3 665.01C708.93 665.64 713.59 667.08 718.18 666.88C722.77 666.69 727.77 665.84 731.84 663.84C735.91 661.84 739.01 657.87 742.61 654.89C746.2 651.91 749.56 648.59 753.39 645.96C757.23 643.34 761.33 640.89 765.61 639.13C769.9 637.37 774.53 636.21 779.11 635.4C783.68 634.6 788.47 635.04 793.07 634.32C797.66 633.6 804.41 631.61 806.68 631.07" fill="none" stroke="rgb(255,255,255)" stroke-width="8" stroke-linecap="round" stroke-linejoin="round"/>
<path d="M585.3 729.48C585.51 731.8 586.58 738.77 586.57 743.42C586.55 748.07 585.18 752.71 585.22 757.36C585.26 762 585.73 766.76 586.81 771.26C587.9 775.77 590.58 779.88 591.71 784.38C592.85 788.88 593.32 795.93 593.65 798.25" fill="none" stroke="rgb(255,255,255)" stroke-width="5.2" stroke-linecap="round" stroke-linejoin="round"/>
<path d="M630.47 761.84C632.66 762.63 639.23 765.06 643.64 766.59C648.05 768.12 652.81 768.92 656.92 771.02C661.03 773.11 664.21 777.02 668.3 779.17C672.4 781.32 677.37 781.77 681.48 783.89C685.6 786 688.96 789.55 693 791.85C697.04 794.15 703.6 796.72 705.72 797.69" fill="none" stroke="rgb(255,255,255)" stroke-width="5.2" stroke-linecap="round" stroke-linejoin="round"/>
<path d="M720.32 820.58C720.07 822.9 719.04 829.84 718.77 834.49C718.51 839.14 718.75 846.16 718.74 848.49" fill="none" stroke="rgb(255,255,255)" stroke-width="3.5" stroke-linecap="round" stroke-linejoin="round"/>
<path d="M705.22 797.84C706.04 800.02 707.67 807.13 710.19 810.92C712.7 814.71 717.16 817.16 720.32 820.58C723.49 824 726.43 827.66 729.17 831.43C731.92 835.19 734.77 839 736.8 843.17C738.83 847.33 739.59 852.09 741.35 856.41C743.1 860.73 745.52 864.77 747.32 869.07C749.12 873.37 750.4 877.89 752.15 882.21C753.89 886.54 756.85 892.89 757.79 895.02" fill="none" stroke="rgb(255,255,255)" stroke-width="5.2" stroke-linecap="round" stroke-linejoin="round"/>
<path d="M790.65 840.49C791.06 842.79 792.14 849.71 793.12 854.27C794.09 858.83 796.52 863.32 796.52 867.85C796.53 872.38 793.99 876.85 793.13 881.43C792.26 886.01 791.64 893 791.34 895.32" fill="none" stroke="rgb(255,255,255)" stroke-width="3.5" stroke-linecap="round" stroke-linejoin="round"/>
<path d="M813.6 856.54C814.17 858.8 815.44 865.75 817.02 870.11C818.61 874.48 821.19 878.47 823.11 882.72C825.03 886.97 826.21 891.63 828.55 895.62C830.9 899.6 835.75 904.8 837.19 906.64" fill="none" stroke="rgb(255,255,255)" stroke-width="3.5" stroke-linecap="round" stroke-linejoin="round"/>
<path d="M769.14 822.58C770.98 824.02 776.58 828.23 780.17 831.21C783.75 834.2 787 837.6 790.65 840.49C794.31 843.38 798.27 845.88 802.1 848.56C805.92 851.23 809.71 853.96 813.6 856.54C817.49 859.11 821.24 862.07 825.44 864C829.65 865.93 834.33 866.86 838.82 868.13C843.31 869.41 848.25 869.66 852.37 871.65C856.5 873.63 859.62 877.6 863.57 880.05C867.52 882.5 873.99 885.29 876.08 886.34" fill="none" stroke="rgb(255,255,255)" stroke-width="5.2" stroke-linecap="round" stroke-linejoin="round"/>
<path d="M575 720C576.72 721.58 581.72 726.5 585.3 729.48C588.89 732.46 592.74 735.13 596.5 737.88C600.27 740.63 603.9 743.65 607.92 745.99C611.93 748.33 616.84 749.27 620.6 751.91C624.36 754.56 627.01 758.72 630.47 761.84C633.93 764.97 637.36 768.34 641.34 770.66C645.32 772.99 649.94 774.33 654.36 775.8C658.78 777.28 663.58 777.75 667.87 779.5C672.16 781.25 675.82 784.55 680.1 786.3C684.39 788.05 689.42 788.09 693.6 790.02C697.79 791.94 701.16 795.55 705.22 797.84C709.27 800.12 713.92 801.37 717.91 803.74C721.9 806.12 725.03 810.07 729.15 812.09C733.26 814.12 738.28 814.24 742.61 815.91C746.95 817.59 750.73 821.03 755.15 822.15C759.57 823.26 766.81 822.51 769.14 822.58" fill="none" stroke="rgb(255,255,255)" stroke-width="8" stroke-linecap="round" stroke-linejoin="round"/>
<path d="M604.79 767.63C607.05 767.05 613.91 765.56 618.34 764.12C622.77 762.67 627.46 761.39 631.36 758.97C635.27 756.55 640.03 751.16 641.76 749.6" fill="none" stroke="rgb(255,255,255)" stroke-width="3.5" stroke-linecap="round" stroke-linejoin="round"/>
<path d="M607.44 739.84C609.22 738.34 614.37 733.55 618.12 730.79C621.87 728.03 626.42 726.28 629.94 723.29C633.47 720.3 637.72 714.59 639.27 712.85" fill="none" stroke="rgb(255,255,255)" stroke-width="3.5" stroke-linecap="round" stroke-linejoin="round"/>
<path d="M597.34 794.07C597.53 791.75 597.21 784.52 598.45 780.12C599.69 775.71 603.33 772.01 604.79 767.63C606.25 763.26 606.76 758.47 607.2 753.84C607.64 749.21 607.86 744.46 607.44 739.84C607.02 735.22 605.47 730.72 604.67 726.12C603.88 721.52 603.02 714.57 602.69 712.26" fill="none" stroke="rgb(255,255,255)" stroke-width="5.2" stroke-linecap="round" stroke-linejoin="round"/>
<path d="M723.55 752.27C725.32 753.79 730.29 758.85 734.15 761.41C738 763.98 742.6 765.39 746.68 767.65C750.76 769.91 756.63 773.75 758.62 774.97" fill="none" stroke="rgb(255,255,255)" stroke-width="3.5" stroke-linecap="round" stroke-linejoin="round"/>
<path d="M667.71 752.29C670.03 752.53 676.98 753.53 681.63 753.74C686.29 753.94 690.98 753.8 695.63 753.51C700.29 753.23 704.9 752.23 709.55 752.02C714.21 751.81 718.93 751.78 723.55 752.27C728.17 752.75 732.68 754.3 737.29 754.94C741.91 755.59 746.59 756.01 751.24 756.12C755.9 756.23 760.57 755.87 765.23 755.59C769.89 755.32 776.86 754.66 779.19 754.47" fill="none" stroke="rgb(255,255,255)" stroke-width="5.2" stroke-linecap="round" stroke-linejoin="round"/>
<path d="M690.71 708.94C688.52 708.14 681.82 706.03 677.56 704.15C673.3 702.27 669.33 699.75 665.16 697.64C661 695.53 656.99 692.82 652.58 691.51C648.17 690.19 643.3 690.46 638.69 689.77C634.07 689.07 627.2 687.75 624.9 687.35" fill="none" stroke="rgb(255,255,255)" stroke-width="3.5" stroke-linecap="round" stroke-linejoin="round"/>
<path d="M673.47 670.91C675.22 669.37 680.72 664.98 683.98 661.66C687.24 658.34 690.5 654.86 693.02 650.97C695.54 647.09 698.07 640.45 699.08 638.35" fill="none" stroke="rgb(255,255,255)" stroke-width="3.5" stroke-linecap="round" stroke-linejoin="round"/>
<path d="M695.71 722.01C694.88 719.83 692.3 713.32 690.71 708.94C689.13 704.55 687.78 700.07 686.18 695.69C684.59 691.31 683.25 686.76 681.13 682.63C679.01 678.5 675.46 675.09 673.47 670.91C671.49 666.74 671.03 661.85 669.21 657.58C667.4 653.3 665.2 649.07 662.57 645.26C659.94 641.44 656.43 638.23 653.41 634.66C650.4 631.1 647.82 627.11 644.48 623.89C641.14 620.67 635.23 616.77 633.39 615.34" fill="none" stroke="rgb(255,255,255)" stroke-width="5.2" stroke-linecap="round" stroke-linejoin="round"/>
<path d="M570 800C572.3 799.6 579.23 798.56 583.79 797.58C588.35 796.59 592.81 795.18 597.34 794.07C601.88 792.96 606.46 792.07 610.98 790.91C615.5 789.75 620.13 788.79 624.45 787.1C628.78 785.41 633.23 783.5 636.94 780.78C640.65 778.05 643.42 774.05 646.71 770.75C650.01 767.44 653.21 764.03 656.71 760.95C660.21 757.87 663.93 755.01 667.71 752.29C671.49 749.56 675.91 747.63 679.41 744.6C682.91 741.58 685.99 737.9 688.71 734.14C691.43 730.37 693.14 725.9 695.71 722.01C698.28 718.13 701.1 714.36 704.13 710.83C707.16 707.29 710.67 704.16 713.92 700.82C717.17 697.47 720.29 693.99 723.63 690.73C726.97 687.48 732.22 682.84 733.94 681.27" fill="none" stroke="rgb(255,255,255)" stroke-width="8" stroke-linecap="round" stroke-linejoin="round"/>
<path d="M325.82 523.36C326.52 525.59 328.67 532.25 330.02 536.71C331.38 541.18 332.85 545.62 333.95 550.15C335.04 554.68 335.43 559.39 336.57 563.9C337.71 568.42 339.7 572.73 340.79 577.25C341.88 581.78 343.1 586.45 343.12 591.06C343.14 595.66 341.5 600.26 340.89 604.88C340.29 609.51 339.7 616.49 339.46 618.81" fill="none" stroke="rgb(255,255,255)" stroke-width="4.55" stroke-linecap="round" stroke-linejoin="round"/>
<path d="M176.04 776.49C174.22 777.95 168.48 782.04 165.14 785.26C161.79 788.49 158.63 792.04 155.97 795.85C153.31 799.65 151.4 803.99 149.19 808.09C146.97 812.2 144.66 816.27 142.69 820.49C140.71 824.72 138.23 831.27 137.33 833.43" fill="none" stroke="rgb(255,255,255)" stroke-width="3.5" stroke-linecap="round" stroke-linejoin="round"/>
<path d="M179.29 721.06C179.26 723.39 178.79 730.41 179.07 735.06C179.34 739.7 181.11 744.34 180.95 748.93C180.78 753.53 178.89 758.04 178.08 762.63C177.26 767.23 176.48 771.85 176.04 776.49C175.6 781.13 175.54 785.81 175.45 790.47C175.35 795.14 176.14 799.9 175.49 804.47C174.85 809.05 172.86 813.43 171.58 817.92C170.3 822.4 169.03 826.89 167.81 831.4C166.59 835.9 165.76 840.53 164.27 844.94C162.78 849.35 160.5 853.49 158.85 857.85C157.2 862.21 155.29 866.58 154.37 871.11C153.45 875.65 153.5 882.75 153.33 885.08" fill="none" stroke="rgb(255,255,255)" stroke-width="4.55" stroke-linecap="round" stroke-linejoin="round"/>
<path d="M166.15 745.67C164.26 747.04 158.56 751.1 154.82 753.89C151.08 756.68 147.44 759.6 143.7 762.4C139.96 765.19 136.39 768.28 132.38 770.64C128.38 772.99 124.05 774.94 119.68 776.52C115.31 778.11 110.64 778.84 106.15 780.14C101.67 781.44 97.21 782.8 92.79 784.32C88.38 785.83 84.17 788.07 79.68 789.21C75.18 790.36 70.21 789.81 65.82 791.18C61.42 792.56 57.39 795.22 53.3 797.45C49.2 799.68 45.3 802.26 41.24 804.57C37.19 806.88 31.02 810.2 28.98 811.32" fill="none" stroke="rgb(255,255,255)" stroke-width="4.55" stroke-linecap="round" stroke-linejoin="round"/>
<path d="M330 510C329.3 512.23 327.47 519 325.82 523.36C324.17 527.72 321.72 531.77 320.09 536.14C318.47 540.5 318.2 545.49 316.06 549.54C313.92 553.59 310.13 556.75 307.27 560.44C304.42 564.13 302.02 568.21 298.93 571.68C295.84 575.16 292.03 577.98 288.73 581.28C285.43 584.57 282.56 588.32 279.14 591.47C275.71 594.63 271.52 596.96 268.19 600.19C264.85 603.43 262.13 607.3 259.11 610.86C256.1 614.42 251.94 617.46 250.08 621.55C248.21 625.64 249.53 631.11 247.91 635.38C246.29 639.65 242.05 642.92 240.36 647.17C238.67 651.43 239.81 656.95 237.77 660.93C235.72 664.91 231.29 667.65 228.1 671.06C224.91 674.47 221.66 677.82 218.63 681.37C215.61 684.92 213.09 688.92 209.95 692.36C206.81 695.79 203.19 698.79 199.8 701.99C196.4 705.2 193.01 708.4 189.59 711.57C186.17 714.75 182.28 717.52 179.29 721.06C176.31 724.6 173.87 728.7 171.68 732.81C169.48 736.91 167.07 743.53 166.15 745.67" fill="none" stroke="rgb(255,255,255)" stroke-width="7" stroke-linecap="round" stroke-linejoin="round"/>
<path d="M880.3 701.85C882.64 701.85 889.65 702.1 894.3 701.85C898.96 701.6 903.61 700.19 908.22 700.37C912.84 700.55 917.44 701.89 921.99 702.94C926.53 703.99 933.23 706.07 935.47 706.69" fill="none" stroke="rgb(255,255,255)" stroke-width="3.5" stroke-linecap="round" stroke-linejoin="round"/>
<path d="M845.11 642.89C846.47 644.78 850.66 650.4 853.3 654.24C855.94 658.09 857.95 662.45 860.96 665.96C863.97 669.48 868.95 671.53 871.37 675.33C873.78 679.12 873.95 684.3 875.44 688.72C876.93 693.14 878.95 697.39 880.3 701.85C881.65 706.31 882.09 711.05 883.53 715.47C884.96 719.9 887.26 724.04 888.9 728.4C890.54 732.77 891.24 737.59 893.39 741.66C895.54 745.74 899.43 748.86 901.8 752.85C904.18 756.84 906.66 763.46 907.63 765.58" fill="none" stroke="rgb(255,255,255)" stroke-width="4.55" stroke-linecap="round" stroke-linejoin="round"/>
<path d="M927.98 610.97C926.84 608.93 923.12 602.97 921.14 598.76C919.15 594.55 916.94 587.87 916.1 585.7" fill="none" stroke="rgb(255,255,255)" stroke-width="3.5" stroke-linecap="round" stroke-linejoin="round"/>
<path d="M900.83 642.97C902.44 641.27 907.38 636.31 910.47 632.81C913.55 629.32 916.42 625.62 919.33 621.98C922.25 618.34 924.83 614.39 927.98 610.97C931.14 607.55 935.15 604.91 938.25 601.45C941.35 597.99 943.57 593.76 946.57 590.19C949.56 586.62 953.12 583.54 956.21 580.04C959.3 576.55 963.62 571.03 965.1 569.23" fill="none" stroke="rgb(255,255,255)" stroke-width="4.55" stroke-linecap="round" stroke-linejoin="round"/>
<path d="M1105.15 579.41C1105.75 577.16 1107.77 570.44 1108.77 565.89C1109.78 561.34 1110.22 556.66 1111.18 552.1C1112.14 547.54 1113.97 540.77 1114.53 538.51" fill="none" stroke="rgb(255,255,255)" stroke-width="3.5" stroke-linecap="round" stroke-linejoin="round"/>
<path d="M1045.55 632.81C1046.07 630.54 1046.6 623.16 1048.7 619.17C1050.8 615.17 1054.92 612.21 1058.15 608.84C1061.37 605.46 1064.26 601.52 1068.04 598.93C1071.82 596.34 1076.64 595.29 1080.85 593.28C1085.05 591.26 1089.23 589.15 1093.28 586.83C1097.33 584.52 1101.38 582.15 1105.15 579.41C1108.91 576.67 1112.16 573.24 1115.86 570.39C1119.55 567.55 1123.47 564.99 1127.31 562.34C1131.15 559.7 1136.98 555.81 1138.91 554.51" fill="none" stroke="rgb(255,255,255)" stroke-width="4.55" stroke-linecap="round" stroke-linejoin="round"/>
<path d="M800 610C801.81 611.48 807.2 615.94 810.85 618.85C814.49 621.77 818.21 624.59 821.86 627.49C825.52 630.39 828.91 633.69 832.78 636.25C836.66 638.82 840.73 641.92 845.11 642.89C849.49 643.86 854.43 641.98 859.09 642.06C863.74 642.15 868.38 642.94 873.02 643.39C877.67 643.85 882.32 644.88 886.95 644.81C891.58 644.74 896.19 643.03 900.83 642.97C905.46 642.9 910.17 643.61 914.75 644.43C919.33 645.24 923.85 646.56 928.33 647.85C932.8 649.15 937.1 651.15 941.63 652.23C946.15 653.3 950.83 654.12 955.47 654.32C960.1 654.52 964.94 652.72 969.44 653.43C973.94 654.14 977.96 657.86 982.46 658.58C986.96 659.29 991.81 658.27 996.43 657.71C1001.06 657.16 1005.88 656.79 1010.21 655.23C1014.54 653.67 1018.57 650.98 1022.41 648.36C1026.25 645.74 1029.4 642.1 1033.25 639.51C1037.11 636.91 1042.03 635.73 1045.55 632.81C1049.07 629.88 1052.91 623.76 1054.38 621.95" fill="none" stroke="rgb(255,255,255)" stroke-width="7" stroke-linecap="round" stroke-linejoin="round"/>
<path d="M229.67 629.29C228.01 630.93 223.42 636.37 219.7 639.11C215.98 641.85 211.66 644.01 207.35 645.72C203.04 647.42 198.25 647.88 193.83 649.34C189.4 650.79 184.92 652.32 180.8 654.45C176.68 656.59 173.31 660.26 169.11 662.16C164.91 664.07 160.19 665.47 155.61 665.89C151.04 666.3 146.32 665.08 141.67 664.64C137.02 664.21 130.06 663.5 127.74 663.27" fill="none" stroke="rgb(255,255,255)" stroke-width="4.55" stroke-linecap="round" stroke-linejoin="round"/>
<path d="M115.79 779.24C116.67 781.4 119.08 788 121.09 792.2C123.11 796.4 125.51 800.43 127.87 804.45C130.22 808.48 133.5 812.1 135.23 816.36C136.96 820.62 137.94 825.43 138.25 830.03C138.55 834.64 137.59 839.35 137.08 843.98C136.57 848.62 135.12 853.24 135.2 857.86C135.28 862.47 137.39 867.03 137.56 871.66C137.72 876.28 136.47 880.94 136.21 885.59C135.96 890.25 136.02 894.92 136 899.59C135.99 904.26 135.57 908.98 136.12 913.59C136.67 918.2 139.34 922.69 139.3 927.22C139.26 931.76 136.46 938.54 135.9 940.8" fill="none" stroke="rgb(255,255,255)" stroke-width="4.55" stroke-linecap="round" stroke-linejoin="round"/>
<path d="M250 550C248.91 552.06 245.26 558.09 243.43 562.36C241.6 566.64 240.76 571.33 239.03 575.65C237.31 579.98 234.9 584.03 233.07 588.32C231.23 592.61 228.88 596.88 228.04 601.39C227.2 605.9 227.76 610.74 228.03 615.39C228.3 620.04 229.39 624.64 229.67 629.29C229.96 633.94 229.88 638.63 229.73 643.29C229.58 647.95 230.35 653.07 228.78 657.26C227.21 661.44 223.17 664.71 220.32 668.41C217.47 672.11 214.33 675.6 211.71 679.45C209.08 683.29 207.2 687.65 204.56 691.49C201.93 695.33 199.29 699.37 195.89 702.48C192.49 705.58 188.13 707.67 184.16 710.12C180.2 712.58 175.82 714.45 172.09 717.21C168.35 719.96 165.18 723.48 161.76 726.66C158.34 729.84 154.93 733.02 151.58 736.27C148.24 739.53 144.78 742.69 141.69 746.18C138.61 749.67 135.95 753.54 133.09 757.22C130.22 760.91 127.4 764.62 124.51 768.29C121.63 771.96 118.7 775.59 115.79 779.24C112.88 782.89 108.52 788.36 107.06 790.19" fill="none" stroke="rgb(255,255,255)" stroke-width="7" stroke-linecap="round" stroke-linejoin="round"/>
<path d="M892.68 671.94C890.36 671.68 883.12 671.82 878.77 670.42C874.42 669.01 870.82 665.44 866.59 663.51C862.36 661.57 857.88 660.1 853.41 658.79C848.94 657.48 844.18 657.1 839.76 655.66C835.34 654.23 830.93 652.44 826.89 650.17C822.84 647.9 818.74 645.3 815.48 642.05C812.22 638.81 809.76 634.64 807.32 630.68C804.88 626.71 803.37 622.17 800.85 618.26C798.34 614.35 793.65 609.08 792.21 607.25" fill="none" stroke="rgb(255,255,255)" stroke-width="4.55" stroke-linecap="round" stroke-linejoin="round"/>
<path d="M887.44 736.97C889.27 738.41 894.59 743.02 898.44 745.62C902.3 748.23 907.44 749.4 910.57 752.62C913.7 755.84 914.3 761.4 917.21 764.94C920.11 768.48 924.22 771.14 928.01 773.84C931.8 776.55 935.87 778.91 939.94 781.18C944.01 783.45 948.02 786.27 952.43 787.49C956.84 788.71 964.07 788.33 966.4 788.5" fill="none" stroke="rgb(255,255,255)" stroke-width="4.55" stroke-linecap="round" stroke-linejoin="round"/>
<path d="M899.81 819.37C902.05 820.06 908.66 822.46 913.2 823.47C917.74 824.48 922.42 825.09 927.06 825.43C931.71 825.76 936.4 825.67 941.06 825.5C945.72 825.33 950.38 824.34 955.02 824.42C959.67 824.5 964.31 826.06 968.94 825.97C973.56 825.88 980.47 824.23 982.78 823.89" fill="none" stroke="rgb(255,255,255)" stroke-width="4.55" stroke-linecap="round" stroke-linejoin="round"/>
<path d="M892.33 846.32C893.42 848.39 897.11 854.41 898.82 858.73C900.54 863.04 901.54 867.67 902.6 872.21C903.67 876.75 904.11 881.44 905.22 885.96C906.34 890.49 907.95 894.89 909.28 899.36C910.61 903.83 911.98 908.3 913.19 912.8C914.4 917.31 915.98 924.13 916.54 926.4" fill="none" stroke="rgb(255,255,255)" stroke-width="4.55" stroke-linecap="round" stroke-linejoin="round"/>
<path d="M900 660C898.78 661.99 895.57 668.32 892.68 671.94C889.8 675.56 884.59 677.78 882.68 681.73C880.76 685.68 881.4 691 881.2 695.65C881 700.3 880.83 705.06 881.49 709.65C882.15 714.23 884.19 718.6 885.18 723.15C886.17 727.71 886.92 732.34 887.44 736.97C887.95 741.6 888.02 746.28 888.28 750.94C888.53 755.6 888.84 760.26 888.97 764.93C889.1 769.59 888.55 774.32 889.08 778.93C889.61 783.54 891.21 788.02 892.14 792.59C893.06 797.16 893.37 801.9 894.65 806.36C895.93 810.82 899.47 814.93 899.81 819.37C900.16 823.82 897.96 828.54 896.71 833.03C895.47 837.52 893.67 841.86 892.33 846.32C890.99 850.79 890.05 855.38 888.67 859.84C887.29 864.29 885.67 868.68 884.04 873.05C882.41 877.42 879.74 883.89 878.88 886.06" fill="none" stroke="rgb(255,255,255)" stroke-width="7" stroke-linecap="round" stroke-linejoin="round"/>
<path d="M450 520C449.67 517.69 448.44 510.78 447.99 506.14C447.55 501.51 447.69 496.81 447.33 492.16C446.97 487.51 446.08 482.89 445.85 478.24C445.62 473.59 445.54 468.87 445.95 464.24C446.35 459.61 447.16 454.95 448.28 450.44C449.41 445.92 451.2 441.57 452.68 437.15C454.17 432.72 455.57 428.26 457.22 423.9C458.86 419.54 461.67 413.12 462.57 410.96" fill="none" stroke="rgb(255,255,255)" stroke-width="5" stroke-linecap="round" stroke-linejoin="round"/>
<path d="M709.76 563.86C708.67 561.8 705.38 555.62 703.18 551.5C700.99 547.38 699.02 543.13 696.59 539.15C694.16 535.18 691.24 531.5 688.6 527.65C685.97 523.8 682.09 517.97 680.79 516.03" fill="none" stroke="rgb(255,255,255)" stroke-width="3.5" stroke-linecap="round" stroke-linejoin="round"/>
<path d="M718.03 552.56C717.41 550.31 716.31 543.19 714.28 539.07C712.25 534.96 708.92 531.4 705.87 527.88C702.81 524.37 697.6 519.65 695.95 518" fill="none" stroke="rgb(255,255,255)" stroke-width="3.5" stroke-linecap="round" stroke-linejoin="round"/>
<path d="M741.86 537.91C744.17 537.58 751.1 535.91 755.72 535.92C760.33 535.94 764.93 537.41 769.56 538.01C774.19 538.6 781.16 539.26 783.48 539.5" fill="none" stroke="rgb(255,255,255)" stroke-width="3.5" stroke-linecap="round" stroke-linejoin="round"/>
<path d="M700 590C700.63 587.75 702.18 580.88 703.8 576.53C705.43 572.17 707.39 567.85 709.76 563.86C712.14 559.86 714.73 555.76 718.03 552.56C721.34 549.37 725.64 547.13 729.61 544.69C733.58 542.25 737.61 539.79 741.86 537.91C746.11 536.03 750.82 535.21 755.12 533.42C759.42 531.64 763.81 529.76 767.66 527.2C771.51 524.63 776.48 519.56 778.24 518.03" fill="none" stroke="rgb(255,255,255)" stroke-width="5" stroke-linecap="round" stroke-linejoin="round"/>
</g>
<path d="M560 840C570 840 575 880 590 900C605 920 621.67 941.67 650 960C678.33 978.33 725 993.33 760 1010C795 1026.67 833.33 1041.67 860 1060C886.67 1078.33 908.33 1100.83 920 1120C931.67 1139.17 1050 1165.83 930 1175C810 1184.17 320 1184.17 200 1175C80 1165.83 198.33 1137.5 210 1120C221.67 1102.5 241.67 1088.33 270 1070C298.33 1051.67 346.67 1028.33 380 1010C413.33 991.67 445 978.33 470 960C495 941.67 515 920 530 900C545 880 550 840 560 840Z" fill="rgb(255,255,255)"/>
<path d="M440 1100C450 1083.33 470 1078.33 490 1075C510 1071.67 541.67 1074.17 560 1080C578.33 1085.83 591.67 1094.17 600 1110C608.33 1125.83 638.33 1164.17 610 1175C581.67 1185.83 458.33 1187.5 430 1175C401.67 1162.5 430 1116.67 440 1100Z" fill="rgb(168,168,168)"/>
<path d="M490 445C496.17 437.83 508.33 427.83 525 425C541.67 422.17 575 423 590 428C605 433 613.33 445 615 455C616.67 465 610 480.83 600 488C590 495.17 570.83 497.67 555 498C539.17 498.33 516.17 495 505 490C493.83 485 490.5 475.5 488 468C485.5 460.5 483.83 452.17 490 445Z" fill="rgb(0,0,0)"/>
<ellipse cx="547" cy="458" rx="27" ry="17" fill="rgb(219,219,219)" transform="rotate(-5 547 458)"/>
<ellipse cx="560" cy="520" rx="10" ry="10" fill="rgb(0,0,0)" transform="rotate(0 560 520)"/>
</g></g></g>
<g clip-path="url(#ic1)"><g filter="url(#heat1)">
<rect x="395.3" y="798.9" width="318.5" height="318.5" fill="#000"/>
<g transform="translate(392 795) scale(0.278009)">
<g filter="url(#zb1)">
<path d="M480 -10C551.67 -25 816.67 -36.67 880 -10C943.33 16.67 860 98.33 860 150C860 201.67 870 250 880 300C890 350 906.67 400 920 450C933.33 500 945 550 960 600C975 650 993.33 708.33 1010 750C1026.67 791.67 1045 816.67 1060 850C1075 883.33 1086.67 916.67 1100 950C1113.33 983.33 1130 1012.5 1140 1050C1150 1087.5 1350 1154.17 1160 1175C970 1195.83 190 1195.83 0 1175C-190 1154.17 10 1087.5 20 1050C30 1012.5 43.33 991.67 60 950C76.67 908.33 100 850 120 800C140 750 158.33 703.33 180 650C201.67 596.67 225 533.33 250 480C275 426.67 305 376.67 330 330C355 283.33 380 241.67 400 200C420 158.33 436.67 115 450 80C463.33 45 408.33 5 480 -10Z" fill="rgb(71,71,71)"/>
<path d="M500 40C558.33 13.33 728.33 5 780 40C831.67 75 796.67 181.67 810 250C823.33 318.33 840 383.33 860 450C880 516.67 905 588.33 930 650C955 711.67 985 765 1010 820C1035 875 1065 921.67 1080 980C1095 1038.33 1270 1138.33 1100 1170C930 1201.67 228.33 1195 60 1170C-108.33 1145 75 1073.33 90 1020C105 966.67 130 906.67 150 850C170 793.33 188.33 735 210 680C231.67 625 255 573.33 280 520C305 466.67 335 413.33 360 360C385 306.67 406.67 253.33 430 200C453.33 146.67 441.67 66.67 500 40Z" fill="rgb(145,145,145)"/>
<path d="M300 300C323.33 268.33 383.33 255 420 260C456.67 265 506.67 293.33 520 330C533.33 366.67 515 441.67 500 480C485 518.33 458.33 546.67 430 560C401.67 573.33 355 578.33 330 560C305 541.67 285 493.33 280 450C275 406.67 276.67 331.67 300 300Z" fill="rgb(92,92,92)"/>
<path d="M730 100C741.67 65 805 90 830 120C855 150 868.33 225 880 280C891.67 335 908.33 418.33 900 450C891.67 481.67 853.33 490 830 470C806.67 450 776.67 391.67 760 330C743.33 268.33 718.33 135 730 100Z" fill="rgb(92,92,92)"/>
<path d="M360 480C375 441.67 431.67 450 450 470C468.33 490 473.33 558.33 470 600C466.67 641.67 448.33 703.33 430 720C411.67 736.67 371.67 740 360 700C348.33 660 345 518.33 360 480Z" fill="rgb(76,76,76)"/>
<path d="M450 780C471.67 743.33 528.33 751.67 560 760C591.67 768.33 616.67 798.33 640 830C663.33 861.67 693.33 905 700 950C706.67 995 703.33 1065 680 1100C656.67 1135 598.33 1156.67 560 1160C521.67 1163.33 471.67 1150 450 1120C428.33 1090 430 1036.67 430 980C430 923.33 428.33 816.67 450 780Z" fill="rgb(97,97,97)"/>
<path d="M580 880C586.67 856.67 660 846.67 680 860C700 873.33 706.67 936.67 700 960C693.33 983.33 660 1013.33 640 1000C620 986.67 573.33 903.33 580 880Z" fill="rgb(84,84,84)"/>
<path d="M60 950C70 898.33 103.33 850 120 850C136.67 850 158.33 908.33 160 950C161.67 991.67 146.67 1065 130 1100C113.33 1135 71.67 1185 60 1160C48.33 1135 50 1001.67 60 950Z" fill="rgb(76,76,76)"/>
<path d="M480 200C496.67 186.67 560 180 600 180C640 180 703.33 186.67 720 200C736.67 213.33 720 251.67 700 260C680 268.33 633.33 250 600 250C566.67 250 520 268.33 500 260C480 251.67 463.33 213.33 480 200Z" fill="rgb(214,214,214)"/>
<path d="M470 410C490 400 561.67 381.67 600 380C638.33 378.33 680 390 700 400C720 410 736.67 431.67 720 440C703.33 448.33 640 450 600 450C560 450 501.67 446.67 480 440C458.33 433.33 450 420 470 410Z" fill="rgb(214,214,214)"/>
<path d="M520 30C521.67 23.33 580 18.33 600 20C620 21.67 641.67 33.33 640 40C638.33 46.67 610 61.67 590 60C570 58.33 518.33 36.67 520 30Z" fill="rgb(219,219,219)"/>
<path d="M470 560C485 548.33 531.67 540 560 540C588.33 540 630 546.67 640 560C650 573.33 640 608.33 620 620C600 631.67 545 631.67 520 630C495 628.33 478.33 621.67 470 610C461.67 598.33 455 571.67 470 560Z" fill="rgb(199,199,199)"/>
<path d="M640 470C660 455 733.33 441.67 760 450C786.67 458.33 806.67 501.67 800 520C793.33 538.33 746.67 556.67 720 560C693.33 563.33 653.33 555 640 540C626.67 525 620 485 640 470Z" fill="rgb(168,168,168)"/>
<path d="M180 620C203.33 585 260 626.67 300 640C340 653.33 390 673.33 420 700C450 726.67 471.67 758.33 480 800C488.33 841.67 478.33 900 470 950C461.67 1000 458.33 1073.33 430 1100C401.67 1126.67 338.33 1126.67 300 1110C261.67 1093.33 223.33 1043.33 200 1000C176.67 956.67 163.33 913.33 160 850C156.67 786.67 156.67 655 180 620Z" fill="rgb(168,168,168)"/>
<path d="M600 660C626.67 623.33 726.67 626.67 780 630C833.33 633.33 890 651.67 920 680C950 708.33 953.33 755 960 800C966.67 845 970 903.33 960 950C950 996.67 933.33 1055 900 1080C866.67 1105 800 1113.33 760 1100C720 1086.67 683.33 1041.67 660 1000C636.67 958.33 630 906.67 620 850C610 793.33 573.33 696.67 600 660Z" fill="rgb(171,171,171)"/>
</g>
<clipPath id="bcl1"><path d="M480 -10C551.67 -25 816.67 -36.67 880 -10C943.33 16.67 860 98.33 860 150C860 201.67 870 250 880 300C890 350 906.67 400 920 450C933.33 500 945 550 960 600C975 650 993.33 708.33 1010 750C1026.67 791.67 1045 816.67 1060 850C1075 883.33 1086.67 916.67 1100 950C1113.33 983.33 1130 1012.5 1140 1050C1150 1087.5 1350 1154.17 1160 1175C970 1195.83 190 1195.83 0 1175C-190 1154.17 10 1087.5 20 1050C30 1012.5 43.33 991.67 60 950C76.67 908.33 100 850 120 800C140 750 158.33 703.33 180 650C201.67 596.67 225 533.33 250 480C275 426.67 305 376.67 330 330C355 283.33 380 241.67 400 200C420 158.33 436.67 115 450 80C463.33 45 408.33 5 480 -10Z"/></clipPath>
<g clip-path="url(#bcl1)">
<path d="M600 110C600.83 125 604.67 168.33 605 200C605.33 231.67 602.83 266.67 602 300C601.17 333.33 600.67 371.67 600 400C599.33 428.33 598.33 458.33 598 470" fill="none" stroke="rgb(255,255,255)" stroke-width="30" stroke-linecap="round" stroke-linejoin="round"/>
<path d="M490 230C508.33 229.17 565 225 600 225C635 225 683.33 229.17 700 230" fill="none" stroke="rgb(255,255,255)" stroke-width="16" stroke-linecap="round" stroke-linejoin="round"/>
<path d="M480 425C500 424.17 563.33 419.17 600 420C636.67 420.83 683.33 428.33 700 430" fill="none" stroke="rgb(255,255,255)" stroke-width="14" stroke-linecap="round" stroke-linejoin="round"/>
<path d="M620 780C633.33 778.33 673.33 773.33 700 770C726.67 766.67 753.33 758.33 780 760C806.67 761.67 836.67 773.33 860 780C883.33 786.67 910 796.67 920 800" fill="none" stroke="rgb(255,255,255)" stroke-width="30" stroke-linecap="round" stroke-linejoin="round"/>
<path d="M760 660C763.33 676.67 773.33 726.67 780 760C786.67 793.33 793.33 828.33 800 860C806.67 891.67 816.67 935 820 950" fill="none" stroke="rgb(255,255,255)" stroke-width="22" stroke-linecap="round" stroke-linejoin="round"/>
<path d="M860 690C863.33 708.33 873.33 765 880 800C886.67 835 890 866.67 900 900C910 933.33 933.33 983.33 940 1000" fill="none" stroke="rgb(255,255,255)" stroke-width="14" stroke-linecap="round" stroke-linejoin="round"/>
<path d="M700 820C703.33 833.33 710 870 720 900C730 930 746.67 970 760 1000C773.33 1030 793.33 1066.67 800 1080" fill="none" stroke="rgb(255,255,255)" stroke-width="12" stroke-linecap="round" stroke-linejoin="round"/>
<path d="M200 740C210 750 238.33 780 260 800C281.67 820 306.67 846.67 330 860C353.33 873.33 380 883.33 400 880C420 876.67 441.67 846.67 450 840" fill="none" stroke="rgb(255,255,255)" stroke-width="20" stroke-linecap="round" stroke-linejoin="round"/>
<path d="M220 680C226.67 686.67 246.67 700 260 720C273.33 740 288.33 770 300 800C311.67 830 320 866.67 330 900C340 933.33 348.33 970 360 1000C371.67 1030 393.33 1066.67 400 1080" fill="none" stroke="rgb(255,255,255)" stroke-width="14" stroke-linecap="round" stroke-linejoin="round"/>
<path d="M420 860C426.67 866.67 446.67 883.33 460 900C473.33 916.67 486.67 936.67 500 960C513.33 983.33 533.33 1026.67 540 1040" fill="none" stroke="rgb(255,255,255)" stroke-width="12" stroke-linecap="round" stroke-linejoin="round"/>
<path d="M140 850C150 858.33 180 881.67 200 900C220 918.33 240 936.67 260 960C280 983.33 310 1026.67 320 1040" fill="none" stroke="rgb(255,255,255)" stroke-width="12" stroke-linecap="round" stroke-linejoin="round"/>
<path d="M190 640C205 640 251.67 636.67 280 640C308.33 643.33 333.33 650 360 660C386.67 670 426.67 693.33 440 700" fill="none" stroke="rgb(255,255,255)" stroke-width="12" stroke-linecap="round" stroke-linejoin="round"/>
<path d="M820 850C833.33 851.67 876.67 855 900 860C923.33 865 950 876.67 960 880" fill="none" stroke="rgb(255,255,255)" stroke-width="12" stroke-linecap="round" stroke-linejoin="round"/>
<path d="M386.45 632.48C384.99 630.66 380.47 625.3 377.68 621.56C374.89 617.82 371.56 614.24 369.71 610.05C367.87 605.86 367.18 601 366.62 596.4C366.06 591.79 366.38 584.73 366.33 582.4" fill="none" stroke="rgb(255,255,255)" stroke-width="3.5" stroke-linecap="round" stroke-linejoin="round"/>
<path d="M412.43 567.66C414.34 566.32 420.21 562.48 423.91 559.65C427.61 556.81 430.85 553.35 434.62 550.63C438.4 547.92 442.37 545.29 446.59 543.36C450.8 541.43 455.57 540.75 459.91 539.07C464.25 537.38 470.52 534.21 472.64 533.24" fill="none" stroke="rgb(255,255,255)" stroke-width="3.5" stroke-linecap="round" stroke-linejoin="round"/>
<path d="M435.13 517.88C434.76 515.58 434.22 508.51 432.94 504.06C431.67 499.6 430.22 494.77 427.48 491.17C424.74 487.57 420.31 485.16 416.52 482.45C412.73 479.74 408.19 477.96 404.72 474.92C401.25 471.87 398.52 467.92 395.71 464.2C392.91 460.48 389.21 454.51 387.91 452.58" fill="none" stroke="rgb(255,255,255)" stroke-width="3.5" stroke-linecap="round" stroke-linejoin="round"/>
<path d="M388.45 646.33C388.11 644.02 385.76 636.88 386.45 632.48C387.14 628.07 390.72 624.16 392.58 619.89C394.44 615.62 396.2 611.27 397.63 606.83C399.05 602.4 399.6 597.67 401.13 593.28C402.66 588.88 404.91 584.74 406.8 580.47C408.68 576.2 410.22 571.75 412.43 567.66C414.65 563.57 417.6 559.89 420.09 555.94C422.58 551.99 424.97 547.99 427.36 543.97C429.74 539.96 433.09 536.21 434.39 531.86C435.68 527.52 434.98 522.55 435.13 517.88C435.28 513.22 435.25 506.22 435.28 503.89" fill="none" stroke="rgb(255,255,255)" stroke-width="4.55" stroke-linecap="round" stroke-linejoin="round"/>
<path d="M422.93 625.93C424.25 624.01 427.72 617.78 430.87 614.41C434.03 611.03 438.02 608.37 441.84 605.7C445.65 603.02 451.78 599.59 453.77 598.37" fill="none" stroke="rgb(255,255,255)" stroke-width="3.5" stroke-linecap="round" stroke-linejoin="round"/>
<path d="M436.87 624.64C438.57 626.23 443.8 630.9 447.09 634.2C450.39 637.5 453.91 640.69 456.65 644.43C459.39 648.16 461.82 652.32 463.54 656.62C465.25 660.91 465.96 665.64 466.96 670.19C467.96 674.75 468.69 679.36 469.53 683.95C470.36 688.55 471.56 695.44 471.97 697.74" fill="none" stroke="rgb(255,255,255)" stroke-width="3.5" stroke-linecap="round" stroke-linejoin="round"/>
<path d="M396.37 634.79C398.6 634.1 405.32 632.11 409.74 630.63C414.17 629.15 418.41 626.93 422.93 625.93C427.45 624.93 432.35 625.66 436.87 624.64C441.38 623.62 445.61 621.35 450.01 619.82C454.42 618.28 458.76 616.14 463.31 615.42C467.85 614.7 472.7 614.97 477.31 615.49C481.91 616.02 486.48 617.31 490.96 618.58C495.45 619.84 499.77 621.68 504.21 623.1C508.66 624.52 513.15 625.78 517.64 627.07C522.12 628.36 528.87 630.22 531.12 630.85" fill="none" stroke="rgb(255,255,255)" stroke-width="4.55" stroke-linecap="round" stroke-linejoin="round"/>
<path d="M403.36 566.83C404.82 565.01 409.62 559.82 412.14 555.92C414.66 552.03 416.24 547.53 418.51 543.45C420.77 539.37 422.76 535 425.71 531.45C428.65 527.89 432.8 525.37 436.16 522.14C439.53 518.91 442.24 514.89 445.9 512.08C449.56 509.26 454.75 508.3 458.11 505.24C461.48 502.18 463.29 497.46 466.09 493.73C468.88 490 472.33 486.72 474.88 482.84C477.43 478.95 478.68 474.19 481.37 470.43C484.06 466.67 489.41 461.98 491.02 460.29" fill="none" stroke="rgb(255,255,255)" stroke-width="4.55" stroke-linecap="round" stroke-linejoin="round"/>
<path d="M220 680C221.45 681.83 225.3 687.85 228.7 690.97C232.1 694.09 236.22 696.66 240.37 698.7C244.53 700.74 249.13 702.89 253.63 703.19C258.13 703.49 262.75 700.79 267.37 700.5C271.99 700.22 276.7 701.01 281.34 701.47C285.98 701.94 290.62 703.45 295.22 703.29C299.82 703.12 304.58 702.03 308.94 700.48C313.29 698.94 317.27 696.28 321.35 694.01C325.43 691.75 329.28 689.05 333.4 686.89C337.53 684.73 341.9 683.02 346.12 681.03C350.34 679.05 354.6 677.12 358.74 674.98C362.89 672.84 367.57 671.21 370.99 668.2C374.42 665.19 376.38 660.57 379.29 656.93C382.2 653.28 385.6 650.02 388.45 646.33C391.29 642.64 394.05 638.82 396.37 634.79C398.7 630.76 400.85 626.53 402.39 622.15C403.94 617.78 405.07 613.14 405.67 608.54C406.27 603.94 405.91 599.21 405.99 594.55C406.07 589.88 406.58 585.17 406.15 580.55C405.71 575.93 404.07 571.43 403.36 566.83C402.65 562.22 402.13 555.23 401.88 552.91" fill="none" stroke="rgb(255,255,255)" stroke-width="7" stroke-linecap="round" stroke-linejoin="round"/>
<path d="M275.38 804.24C274.64 806.45 272.94 813.34 270.95 817.52C268.96 821.7 266.17 825.56 263.43 829.32C260.68 833.09 257.67 836.7 254.47 840.09C251.27 843.47 245.92 848.03 244.22 849.62" fill="none" stroke="rgb(255,255,255)" stroke-width="3.5" stroke-linecap="round" stroke-linejoin="round"/>
<path d="M270.86 777.05C271.65 779.25 274.81 785.71 275.57 790.24C276.32 794.77 275.01 799.6 275.38 804.24C275.74 808.87 276.82 813.47 277.76 818.03C278.7 822.6 279.94 827.11 281.02 831.65C282.1 836.19 282.48 841.02 284.26 845.27C286.04 849.52 288.71 853.61 291.68 857.14C294.66 860.68 299.39 862.8 302.11 866.48C304.83 870.15 307.02 877.06 308 879.18" fill="none" stroke="rgb(255,255,255)" stroke-width="4.55" stroke-linecap="round" stroke-linejoin="round"/>
<path d="M115.59 848.02C114.82 845.82 111.28 839.29 110.98 834.8C110.67 830.31 112.8 825.65 113.76 821.08C114.72 816.52 114.94 811.61 116.75 807.41C118.57 803.2 121.71 799.45 124.65 795.85C127.59 792.25 132.77 787.47 134.4 785.79" fill="none" stroke="rgb(255,255,255)" stroke-width="3.5" stroke-linecap="round" stroke-linejoin="round"/>
<path d="M204.43 866.52C202.29 867.45 196.03 870.77 191.6 872.11C187.16 873.46 182.45 874.05 177.82 874.58C173.19 875.11 168.4 875.84 163.84 875.28C159.27 874.73 154.47 873.4 150.43 871.24C146.4 869.08 143.4 865.07 139.64 862.33C135.88 859.58 131.87 857.14 127.86 854.76C123.85 852.37 119.95 849.4 115.59 848.02C111.22 846.65 106.31 847.03 101.67 846.51C97.03 845.99 92.41 844.98 87.77 844.88C83.12 844.79 78.45 846.01 73.8 845.93C69.16 845.85 62.21 844.64 59.89 844.39" fill="none" stroke="rgb(255,255,255)" stroke-width="4.55" stroke-linecap="round" stroke-linejoin="round"/>
<path d="M71.12 924.69C69.51 923 64.57 918.04 61.46 914.57C58.35 911.09 54.98 907.73 52.46 903.84C49.94 899.95 48.23 895.51 46.35 891.24C44.47 886.97 42.84 882.59 41.18 878.23C39.51 873.87 38.57 869.14 36.37 865.08C34.18 861.02 30.84 857.57 27.98 853.88C25.13 850.18 22.97 845.33 19.26 842.93C15.54 840.53 7.95 840.05 5.69 839.47" fill="none" stroke="rgb(255,255,255)" stroke-width="3.5" stroke-linecap="round" stroke-linejoin="round"/>
<path d="M45.77 935.72C45.53 938.04 44.86 945.01 44.32 949.64C43.78 954.28 42.25 958.96 42.55 963.53C42.84 968.1 45 972.54 46.09 977.08C47.17 981.61 47.95 986.22 49.06 990.76C50.16 995.29 51.95 999.69 52.72 1004.27C53.49 1008.85 53.62 1013.58 53.66 1018.24C53.71 1022.89 54.21 1027.83 52.99 1032.22C51.78 1036.61 47.48 1042.5 46.38 1044.56" fill="none" stroke="rgb(255,255,255)" stroke-width="3.5" stroke-linecap="round" stroke-linejoin="round"/>
<path d="M32.74 940.84C30.94 939.36 25.76 934.59 21.96 931.92C18.15 929.24 14.23 926.27 9.91 924.79C5.58 923.31 0.66 923.4 -3.98 923.03C-8.63 922.66 -13.35 923.07 -17.98 922.57C-22.6 922.06 -29.44 920.43 -31.74 920" fill="none" stroke="rgb(255,255,255)" stroke-width="3.5" stroke-linecap="round" stroke-linejoin="round"/>
<path d="M-25.78 976.44C-25.08 978.66 -22.11 985.24 -21.57 989.79C-21.04 994.35 -21.88 999.16 -22.58 1003.76C-23.29 1008.35 -24.26 1013 -25.79 1017.38C-27.32 1021.77 -30.01 1025.73 -31.76 1030.05C-33.5 1034.37 -35.51 1041.09 -36.26 1043.3" fill="none" stroke="rgb(255,255,255)" stroke-width="3.5" stroke-linecap="round" stroke-linejoin="round"/>
<path d="M126.74 923.91C124.41 923.88 117.38 924.12 112.74 923.72C108.11 923.32 103.55 921.69 98.92 921.5C94.29 921.31 89.6 922.04 84.96 922.57C80.33 923.1 75.69 923.76 71.12 924.69C66.56 925.63 61.79 926.35 57.57 928.18C53.34 930.02 49.9 933.61 45.77 935.72C41.63 937.83 37.14 939.3 32.74 940.84C28.34 942.39 23.79 943.5 19.37 944.99C14.94 946.48 10.42 947.8 6.21 949.77C2 951.73 -2.13 954.08 -5.91 956.78C-9.68 959.49 -13.13 962.73 -16.44 966.01C-19.75 969.28 -22.54 973.08 -25.78 976.44C-29.01 979.8 -32.34 983.09 -35.84 986.17C-39.33 989.26 -44.94 993.47 -46.76 994.93" fill="none" stroke="rgb(255,255,255)" stroke-width="4.55" stroke-linecap="round" stroke-linejoin="round"/>
<path d="M300 650C301.45 651.82 306.9 656.82 308.73 660.95C310.56 665.08 310.4 670.14 310.98 674.77C311.57 679.39 312.98 684.25 312.24 688.71C311.5 693.17 308.56 697.29 306.56 701.5C304.56 705.72 302.62 709.99 300.23 714C297.85 718 294.25 721.35 292.26 725.5C290.28 729.66 289.9 734.55 288.32 738.94C286.74 743.32 284.56 747.48 282.8 751.8C281.03 756.12 279.73 760.65 277.74 764.86C275.75 769.06 273.5 773.23 270.86 777.05C268.22 780.88 264.39 783.9 261.89 787.8C259.39 791.7 258.33 796.52 255.86 800.43C253.38 804.35 249.7 807.49 247.03 811.3C244.36 815.11 242.67 819.65 239.83 823.31C236.99 826.96 233.05 829.75 229.98 833.25C226.9 836.75 224.11 840.52 221.38 844.3C218.66 848.09 216.44 852.25 213.62 855.95C210.79 859.66 207.83 863.35 204.43 866.52C201.04 869.69 197.03 872.2 193.27 874.96C189.5 877.72 185.88 880.75 181.86 883.08C177.84 885.41 173.45 887.15 169.14 888.94C164.84 890.72 159.87 891.36 156.02 893.8C152.16 896.24 149.29 900.28 146 903.58C142.71 906.89 139.46 910.24 136.25 913.63C133.04 917.02 128.33 922.2 126.74 923.91" fill="none" stroke="rgb(255,255,255)" stroke-width="7" stroke-linecap="round" stroke-linejoin="round"/>
<path d="M398.65 800.17C398.8 802.5 398.51 809.65 399.54 814.14C400.57 818.63 403.72 822.62 404.83 827.1C405.93 831.59 404.68 836.77 406.19 841.04C407.7 845.31 411.75 848.61 413.91 852.72C416.07 856.83 418.29 863.53 419.17 865.69" fill="none" stroke="rgb(255,255,255)" stroke-width="3.5" stroke-linecap="round" stroke-linejoin="round"/>
<path d="M394.47 813.53C395.77 815.47 399.51 821.4 402.29 825.14C405.08 828.88 408.37 832.24 411.19 835.95C414 839.67 416.19 843.89 419.2 847.43C422.2 850.98 425.92 853.91 429.2 857.23C432.48 860.54 437.28 865.64 438.9 867.33" fill="none" stroke="rgb(255,255,255)" stroke-width="3.5" stroke-linecap="round" stroke-linejoin="round"/>
<path d="M394.43 827.53C392.74 829.14 387.91 834.27 384.3 837.2C380.69 840.12 376.51 842.34 372.75 845.1C368.99 847.86 365.16 850.6 361.74 853.76C358.32 856.91 355.69 860.93 352.24 864.04C348.78 867.14 344.4 869.23 341.01 872.39C337.61 875.56 333.4 881.24 331.88 883.01" fill="none" stroke="rgb(255,255,255)" stroke-width="3.5" stroke-linecap="round" stroke-linejoin="round"/>
<path d="M414.29 761.53C413.06 763.52 408.75 769.2 406.9 773.43C405.06 777.66 404.58 782.47 403.2 786.93C401.82 791.39 400.1 795.74 398.65 800.17C397.19 804.6 395.17 808.97 394.47 813.53C393.77 818.09 395.53 823.13 394.43 827.53C393.33 831.93 390.42 836.01 387.89 839.91C385.35 843.8 382.68 847.89 379.22 850.9C375.76 853.91 371.12 855.55 367.14 857.98C363.15 860.4 359.27 863.01 355.31 865.46C351.34 867.92 345.33 871.5 343.33 872.71" fill="none" stroke="rgb(255,255,255)" stroke-width="3.9" stroke-linecap="round" stroke-linejoin="round"/>
<path d="M411.42 789.35C412.28 791.52 414.26 798.37 416.58 802.36C418.9 806.35 422.04 810.03 425.34 813.28C428.64 816.54 432.96 818.74 436.38 821.89C439.8 825.04 442.89 828.6 445.87 832.18C448.85 835.76 451.63 839.54 454.27 843.38C456.91 847.22 458.74 851.71 461.73 855.23C464.72 858.75 470.48 862.95 472.22 864.49" fill="none" stroke="rgb(255,255,255)" stroke-width="3.9" stroke-linecap="round" stroke-linejoin="round"/>
<path d="M410.29 927.55C411.88 929.25 416.92 934.16 419.85 937.77C422.78 941.39 425.64 945.18 427.89 949.24C430.13 953.3 432.03 957.69 433.31 962.15C434.58 966.6 434.74 971.37 435.53 975.97C436.33 980.57 438.31 985.2 438.09 989.74C437.86 994.27 436.21 999.05 434.19 1003.18C432.18 1007.32 428.96 1010.94 425.99 1014.53C423.02 1018.11 419.35 1021.12 416.39 1024.71C413.42 1028.31 410.86 1032.24 408.22 1036.09C405.58 1039.93 402.75 1043.7 400.54 1047.79C398.32 1051.88 395.87 1058.48 394.93 1060.62" fill="none" stroke="rgb(255,255,255)" stroke-width="3.9" stroke-linecap="round" stroke-linejoin="round"/>
<path d="M420 720C419.88 722.33 419.81 729.36 419.27 733.98C418.73 738.61 417.58 743.16 416.75 747.75C415.92 752.34 415.06 756.93 414.29 761.53C413.52 766.14 412.59 770.73 412.11 775.36C411.64 780 411.2 784.71 411.42 789.35C411.65 793.99 413.21 798.56 413.46 803.2C413.72 807.84 412.66 812.55 412.95 817.19C413.24 821.82 414.44 826.4 415.19 831.01C415.95 835.61 416.56 840.25 417.48 844.82C418.4 849.39 420.64 853.88 420.74 858.43C420.83 862.99 418.94 867.59 418.05 872.18C417.17 876.76 415.99 881.31 415.45 885.93C414.91 890.55 415.3 895.28 414.81 899.92C414.32 904.55 413.27 909.12 412.51 913.73C411.76 918.33 410.18 922.96 410.29 927.55C410.4 932.14 413.19 936.68 413.18 941.25C413.17 945.81 411.51 950.46 410.24 954.94C408.97 959.42 407.11 963.73 405.57 968.13C404.02 972.53 401.93 976.82 400.95 981.35C399.98 985.88 400.77 990.8 399.71 995.29C398.66 999.79 395.45 1006.15 394.6 1008.33" fill="none" stroke="rgb(255,255,255)" stroke-width="6" stroke-linecap="round" stroke-linejoin="round"/>
<path d="M286.45 989.22C284.31 990.15 277.4 992.24 273.61 994.82C269.82 997.4 267.43 1002 263.7 1004.7C259.97 1007.41 253.3 1010 251.22 1011.05" fill="none" stroke="rgb(255,255,255)" stroke-width="3.5" stroke-linecap="round" stroke-linejoin="round"/>
<path d="M279.51 1056.39C278.34 1058.41 274.64 1064.37 272.5 1068.51C270.36 1072.65 268.83 1077.11 266.67 1081.24C264.51 1085.36 262.49 1089.75 259.53 1093.28C256.57 1096.81 250.67 1100.87 248.9 1102.39" fill="none" stroke="rgb(255,255,255)" stroke-width="3.5" stroke-linecap="round" stroke-linejoin="round"/>
<path d="M282.57 1084.03C283.78 1086.01 286.84 1092.52 289.88 1095.96C292.93 1099.4 298.05 1101.11 300.83 1104.68C303.62 1108.26 304.17 1113.51 306.61 1117.44C309.05 1121.37 312.63 1124.57 315.49 1128.26C318.35 1131.95 322.38 1137.68 323.75 1139.56" fill="none" stroke="rgb(255,255,255)" stroke-width="3.5" stroke-linecap="round" stroke-linejoin="round"/>
<path d="M293.22 976.97C292.09 979.01 288.51 985.04 286.45 989.22C284.39 993.4 282.55 997.71 280.86 1002.06C279.18 1006.41 277.55 1010.81 276.33 1015.31C275.11 1019.8 273.57 1024.45 273.56 1029.03C273.56 1033.61 275.3 1038.2 276.29 1042.76C277.28 1047.32 278.44 1051.84 279.51 1056.39C280.57 1060.93 282.15 1065.42 282.66 1070.03C283.17 1074.63 282.58 1081.69 282.57 1084.03" fill="none" stroke="rgb(255,255,255)" stroke-width="3.9" stroke-linecap="round" stroke-linejoin="round"/>
<path d="M200 800C201.79 801.49 207.37 805.76 210.77 808.95C214.16 812.14 217.45 815.51 220.39 819.11C223.34 822.72 226.49 826.41 228.44 830.57C230.39 834.73 231.16 839.52 232.07 844.09C232.98 848.66 232.51 853.59 233.91 857.97C235.31 862.35 237.77 866.58 240.45 870.35C243.13 874.12 246.59 877.41 249.99 880.6C253.38 883.78 257.93 885.92 260.83 889.46C263.73 892.99 264.64 898.13 267.4 901.82C270.17 905.5 274.59 907.94 277.43 911.59C280.27 915.24 281.98 919.74 284.45 923.7C286.92 927.66 290.5 931.1 292.23 935.34C293.97 939.57 294.38 944.47 294.85 949.09C295.31 953.72 295.31 958.44 295.04 963.09C294.77 967.74 293.53 972.32 293.22 976.97C292.92 981.62 293.46 986.32 293.2 990.97C292.94 995.62 291.92 1002.57 291.66 1004.89" fill="none" stroke="rgb(255,255,255)" stroke-width="6" stroke-linecap="round" stroke-linejoin="round"/>
<path d="M652.5 765.97C650.36 766.91 644.04 769.94 639.69 771.61C635.34 773.29 630.8 774.47 626.39 776C621.99 777.54 617.65 779.28 613.24 780.8C608.83 782.32 604.46 784.13 599.92 785.12C595.39 786.11 588.34 786.48 586.02 786.75" fill="none" stroke="rgb(255,255,255)" stroke-width="3.5" stroke-linecap="round" stroke-linejoin="round"/>
<path d="M661.33 725.6C660.27 727.68 656.27 733.68 654.99 738.08C653.71 742.49 654.08 747.37 653.67 752.02C653.25 756.67 653.04 761.34 652.5 765.97C651.96 770.6 651.09 775.2 650.4 779.81C649.72 784.43 648.62 789.03 648.38 793.67C648.15 798.31 648.62 803.01 649 807.65C649.38 812.3 650.12 816.92 650.65 821.56C651.18 826.19 652.13 830.83 652.2 835.47C652.27 840.11 650.61 844.85 651.07 849.42C651.52 853.99 653.63 858.4 654.91 862.89C656.19 867.37 657.58 871.83 658.73 876.36C659.87 880.88 661.29 887.74 661.8 890.01" fill="none" stroke="rgb(255,255,255)" stroke-width="4.55" stroke-linecap="round" stroke-linejoin="round"/>
<path d="M747.9 826.21C746.71 828.22 743.88 834.92 740.78 838.27C737.68 841.61 732.88 843.32 729.29 846.27C725.7 849.23 722.46 852.64 719.23 856C716 859.37 712.09 862.47 709.92 866.46C707.74 870.45 706.8 877.7 706.18 879.95" fill="none" stroke="rgb(255,255,255)" stroke-width="3.5" stroke-linecap="round" stroke-linejoin="round"/>
<path d="M752.35 839.48C751.1 841.45 747.22 847.29 744.83 851.29C742.44 855.3 740.13 859.36 737.98 863.5C735.84 867.65 733.95 871.92 731.99 876.15C730.03 880.39 728.06 884.62 726.23 888.92C724.4 893.21 721.89 899.75 721.03 901.91" fill="none" stroke="rgb(255,255,255)" stroke-width="3.5" stroke-linecap="round" stroke-linejoin="round"/>
<path d="M766.17 863.68C766.79 865.93 769.2 872.59 769.91 877.17C770.62 881.75 770.16 886.51 770.41 891.16C770.66 895.82 770.94 900.49 771.39 905.13C771.85 909.77 771.48 914.81 773.13 919.02C774.79 923.23 778.66 926.54 781.32 930.37C783.99 934.21 787.8 940.08 789.09 942.02" fill="none" stroke="rgb(255,255,255)" stroke-width="3.5" stroke-linecap="round" stroke-linejoin="round"/>
<path d="M673.49 765.52C675.5 766.7 681.9 769.77 685.57 772.6C689.23 775.43 691.73 779.82 695.47 782.5C699.21 785.18 703.93 786.46 708.02 788.69C712.12 790.92 716.14 793.33 720.04 795.88C723.94 798.43 727.87 801.02 731.44 804C735.01 806.99 738.72 810.07 741.46 813.78C744.21 817.48 746.08 821.93 747.9 826.21C749.71 830.5 750.65 835.14 752.35 839.48C754.05 843.83 755.77 848.23 758.08 852.26C760.38 856.29 763.44 859.9 766.17 863.68C768.9 867.47 773.05 873.1 774.43 874.99" fill="none" stroke="rgb(255,255,255)" stroke-width="4.55" stroke-linecap="round" stroke-linejoin="round"/>
<path d="M677.78 803.7C675.62 804.59 669.09 807.13 664.83 809.02C660.56 810.91 656.48 813.23 652.19 815.04C647.89 816.85 643.46 818.35 639.04 819.86C634.63 821.37 630.14 822.66 625.71 824.11C621.27 825.56 616.77 826.85 612.43 828.56C608.09 830.27 601.81 833.39 599.69 834.36" fill="none" stroke="rgb(255,255,255)" stroke-width="3.5" stroke-linecap="round" stroke-linejoin="round"/>
<path d="M561.33 846.96C559.01 846.67 551.96 846.26 547.43 845.21C542.91 844.17 538.51 842.44 534.19 840.68C529.87 838.93 525.32 837.32 521.53 834.7C517.75 832.08 515.07 827.91 511.48 824.96C507.88 822 501.9 818.3 499.98 816.97" fill="none" stroke="rgb(255,255,255)" stroke-width="3.5" stroke-linecap="round" stroke-linejoin="round"/>
<path d="M683.6 790.97C682.63 793.09 680.7 800.3 677.78 803.7C674.86 807.11 670.03 808.91 666.09 811.4C662.14 813.89 658.39 816.95 654.11 818.65C649.83 820.35 644.96 820.51 640.42 821.61C635.89 822.7 631.48 824.48 626.9 825.22C622.32 825.96 617.49 825.25 612.92 826.05C608.36 826.86 603.74 828.17 599.51 830.07C595.29 831.96 591.71 835.24 587.58 837.4C583.46 839.55 579.13 841.4 574.75 842.99C570.37 844.59 565.84 845.8 561.33 846.96C556.81 848.12 552.05 848.49 547.65 849.96C543.25 851.43 537.04 854.82 534.92 855.79" fill="none" stroke="rgb(255,255,255)" stroke-width="4.55" stroke-linecap="round" stroke-linejoin="round"/>
<path d="M702.42 809.28C704.75 809.11 711.81 807.8 716.39 808.26C720.96 808.73 725.56 810.33 729.86 812.06C734.17 813.78 737.98 816.7 742.22 818.63C746.46 820.56 753.12 822.79 755.3 823.63" fill="none" stroke="rgb(255,255,255)" stroke-width="3.5" stroke-linecap="round" stroke-linejoin="round"/>
<path d="M756.81 819.9C758.23 821.75 762.12 827.66 765.32 831.02C768.52 834.38 772.5 836.98 776.01 840.06C779.51 843.14 782.94 846.31 786.35 849.49C789.77 852.67 792.61 856.75 796.5 859.14C800.39 861.53 807.49 863.06 809.68 863.85" fill="none" stroke="rgb(255,255,255)" stroke-width="3.5" stroke-linecap="round" stroke-linejoin="round"/>
<path d="M769.87 824.95C771.12 826.92 774.8 832.88 777.36 836.78C779.93 840.67 782.87 844.34 785.26 848.34C787.65 852.34 788.77 857.28 791.7 860.77C794.62 864.26 800.95 867.87 802.8 869.29" fill="none" stroke="rgb(255,255,255)" stroke-width="3.5" stroke-linecap="round" stroke-linejoin="round"/>
<path d="M689.62 803.61C691.76 804.55 698.06 807.66 702.42 809.28C706.79 810.9 711.34 812.04 715.82 813.34C720.3 814.64 724.81 815.85 729.31 817.07C733.82 818.3 738.25 820.24 742.84 820.71C747.42 821.18 752.31 819.19 756.81 819.9C761.32 820.61 765.55 823.18 769.87 824.95C774.18 826.73 778.41 828.72 782.71 830.54C787 832.36 791.3 834.19 795.65 835.87C800 837.56 806.62 839.85 808.81 840.64" fill="none" stroke="rgb(255,255,255)" stroke-width="4.55" stroke-linecap="round" stroke-linejoin="round"/>
<path d="M838.45 840.1C840.78 840.24 847.81 840.35 852.42 840.97C857.04 841.58 861.52 843.26 866.14 843.77C870.76 844.29 875.52 843.53 880.14 844.05C884.76 844.56 889.26 846.73 893.85 846.87C898.45 847 903.11 844.77 907.71 844.88C912.31 844.98 919.17 847.07 921.46 847.51" fill="none" stroke="rgb(255,255,255)" stroke-width="3.5" stroke-linecap="round" stroke-linejoin="round"/>
<path d="M874.69 818.93C876.75 820.03 882.85 823.48 887.01 825.57C891.18 827.67 895.47 829.52 899.69 831.52C903.91 833.52 908.28 835.24 912.32 837.56C916.35 839.88 920.12 842.69 923.9 845.43C927.67 848.18 930.99 851.61 934.95 854.03C938.91 856.45 945.52 858.96 947.64 859.95" fill="none" stroke="rgb(255,255,255)" stroke-width="3.5" stroke-linecap="round" stroke-linejoin="round"/>
<path d="M758.25 864.11C760.48 863.43 767.19 861.43 771.64 860.01C776.08 858.59 780.42 856.76 784.92 855.59C789.43 854.42 794.16 854.13 798.68 853.01C803.21 851.89 807.55 850.04 812.06 848.88C816.57 847.71 821.37 847.49 825.77 846.03C830.17 844.56 834.3 842.22 838.45 840.1C842.6 837.98 846.69 835.7 850.69 833.3C854.68 830.89 858.42 828.05 862.42 825.66C866.42 823.26 870.51 820.97 874.69 818.93C878.88 816.88 883.11 814.72 887.55 813.38C891.99 812.04 899.03 811.32 901.33 810.91" fill="none" stroke="rgb(255,255,255)" stroke-width="4.55" stroke-linecap="round" stroke-linejoin="round"/>
<path d="M789.28 924.08C791.58 924.49 798.43 926.14 803.06 926.53C807.69 926.93 812.41 926.19 817.06 926.45C821.71 926.7 828.65 927.79 830.97 928.05" fill="none" stroke="rgb(255,255,255)" stroke-width="3.5" stroke-linecap="round" stroke-linejoin="round"/>
<path d="M823.98 965.76C826.25 966.33 833.01 968.15 837.55 969.21C842.09 970.28 846.63 971.48 851.24 972.16C855.84 972.84 860.69 972.27 865.19 973.29C869.7 974.32 876.08 977.47 878.26 978.31" fill="none" stroke="rgb(255,255,255)" stroke-width="3.5" stroke-linecap="round" stroke-linejoin="round"/>
<path d="M777.74 916.16C779.66 917.48 785.27 921.71 789.28 924.08C793.29 926.45 798.22 927.53 801.78 930.38C805.34 933.24 807.92 937.45 810.65 941.22C813.39 944.99 815.97 948.92 818.19 953.01C820.42 957.1 821.98 961.54 823.98 965.76C825.99 969.97 828.26 974.06 830.22 978.29C832.18 982.53 833.75 986.94 835.73 991.16C837.71 995.38 840.4 999.31 842.1 1003.63C843.79 1007.96 845.25 1014.86 845.89 1017.11" fill="none" stroke="rgb(255,255,255)" stroke-width="4.55" stroke-linecap="round" stroke-linejoin="round"/>
<path d="M650 700C650.97 702.12 653.95 708.46 655.84 712.73C657.73 716.99 659.39 721.36 661.33 725.6C663.27 729.84 665.97 733.8 667.49 738.17C669.01 742.55 669.44 747.3 670.44 751.86C671.44 756.42 672.59 760.95 673.49 765.52C674.38 770.1 674.14 775.09 675.82 779.33C677.51 783.57 681.3 786.92 683.6 790.97C685.9 795.02 688 799.25 689.62 803.61C691.25 807.96 691.16 813.11 693.32 817.11C695.49 821.1 699.98 823.77 702.62 827.58C705.26 831.38 705.97 836.89 709.17 839.95C712.38 843.01 717.41 844.6 721.83 845.94C726.25 847.27 731.31 846.52 735.68 847.96C740.05 849.39 744.28 851.84 748.04 854.53C751.8 857.22 755.93 860.26 758.25 864.11C760.57 867.96 760.38 873.23 761.95 877.61C763.52 881.99 765.55 886.24 767.67 890.39C769.8 894.54 773.02 898.2 774.7 902.5C776.38 906.79 776.99 911.56 777.74 916.16C778.48 920.76 778.2 925.55 779.16 930.09C780.12 934.63 782.78 941.18 783.51 943.4" fill="none" stroke="rgb(255,255,255)" stroke-width="7" stroke-linecap="round" stroke-linejoin="round"/>
<path d="M770.95 718.89C768.76 719.71 761.9 721.62 757.85 723.84C753.8 726.07 750.69 730 746.64 732.23C742.59 734.46 737.68 735.08 733.56 737.21C729.44 739.34 726.01 742.78 721.93 745C717.85 747.23 711.22 749.64 709.08 750.56" fill="none" stroke="rgb(255,255,255)" stroke-width="3.5" stroke-linecap="round" stroke-linejoin="round"/>
<path d="M765.49 731.78C766.11 734.03 767.32 741.07 769.22 745.27C771.12 749.47 774.37 753.06 776.88 756.99C779.39 760.92 781.65 765.03 784.29 768.87C786.93 772.71 789.91 776.32 792.71 780.05C795.52 783.78 797.85 787.99 801.14 791.23C804.42 794.48 810.54 798.14 812.42 799.52" fill="none" stroke="rgb(255,255,255)" stroke-width="3.5" stroke-linecap="round" stroke-linejoin="round"/>
<path d="M760.59 744.89C759.23 746.8 755.61 752.9 752.47 756.3C749.33 759.7 745.44 762.46 741.74 765.3C738.04 768.13 734.31 771.02 730.27 773.32C726.23 775.62 721.4 776.6 717.51 779.09C713.63 781.58 710.47 785.22 706.94 788.26C703.4 791.31 699.82 794.3 696.3 797.36C692.78 800.43 687.58 805.12 685.84 806.67" fill="none" stroke="rgb(255,255,255)" stroke-width="3.5" stroke-linecap="round" stroke-linejoin="round"/>
<path d="M681.01 832.76C679.25 831.23 673.81 826.79 670.48 823.54C667.15 820.28 664.11 816.72 661.01 813.22C657.92 809.73 654.86 806.2 651.91 802.59C648.96 798.97 644.75 793.37 643.32 791.53" fill="none" stroke="rgb(255,255,255)" stroke-width="3.5" stroke-linecap="round" stroke-linejoin="round"/>
<path d="M783.04 693.67C781.93 695.72 778.41 701.79 776.4 705.99C774.38 710.2 772.77 714.59 770.95 718.89C769.13 723.19 767.21 727.45 765.49 731.78C763.76 736.11 762.7 740.77 760.59 744.89C758.47 749.02 755.28 752.58 752.77 756.51C750.26 760.44 747.69 764.37 745.52 768.49C743.36 772.61 742.03 777.19 739.77 781.25C737.51 785.31 734.39 788.89 731.96 792.87C729.53 796.85 727.3 800.96 725.18 805.12C723.07 809.28 722.11 814.27 719.28 817.82C716.45 821.36 712.29 824.27 708.21 826.38C704.13 828.49 699.35 829.41 694.82 830.47C690.29 831.53 683.31 832.38 681.01 832.76" fill="none" stroke="rgb(255,255,255)" stroke-width="4.55" stroke-linecap="round" stroke-linejoin="round"/>
<path d="M765 773.73C762.69 774.04 755.52 774.24 751.13 775.6C746.73 776.97 742.77 779.76 738.63 781.91C734.49 784.06 730.37 786.26 726.28 788.51C722.19 790.76 717.87 792.71 714.11 795.42C710.34 798.13 706.61 801.2 703.68 804.77C700.76 808.33 698.12 812.51 696.56 816.82C694.99 821.13 695.7 826.24 694.27 830.63C692.84 835.02 690.73 839.46 687.98 843.14C685.23 846.82 680.82 849.22 677.77 852.72C674.73 856.22 672.25 860.25 669.71 864.17C667.17 868.08 663.75 874.19 662.55 876.2" fill="none" stroke="rgb(255,255,255)" stroke-width="4.55" stroke-linecap="round" stroke-linejoin="round"/>
<path d="M694.93 874.5C692.63 874.91 685.66 875.82 681.15 876.97C676.63 878.11 672.22 879.72 667.85 881.36C663.49 883 659.19 884.85 654.96 886.81C650.72 888.77 644.54 892.06 642.45 893.11" fill="none" stroke="rgb(255,255,255)" stroke-width="3.5" stroke-linecap="round" stroke-linejoin="round"/>
<path d="M686.78 900.6C688.69 901.94 694.12 906.56 698.25 908.63C702.37 910.71 707.11 911.55 711.53 913.06C715.95 914.57 720.57 915.66 724.75 917.68C728.92 919.69 734.6 923.92 736.57 925.17" fill="none" stroke="rgb(255,255,255)" stroke-width="3.5" stroke-linecap="round" stroke-linejoin="round"/>
<path d="M740.88 805.9C740.18 808.12 738.2 814.84 736.67 819.25C735.15 823.65 733.99 828.33 731.72 832.34C729.44 836.35 726.01 839.73 723.02 843.31C720.03 846.89 716.81 850.28 713.77 853.82C710.72 857.36 707.91 861.1 704.77 864.54C701.63 867.99 697.73 870.82 694.93 874.5C692.13 878.18 689.33 882.3 687.97 886.65C686.61 891 687.15 895.95 686.78 900.6C686.42 905.25 685.96 912.24 685.8 914.57" fill="none" stroke="rgb(255,255,255)" stroke-width="4.55" stroke-linecap="round" stroke-linejoin="round"/>
<path d="M661.7 827.78C661.22 830.06 659.01 836.89 658.86 841.49C658.71 846.08 659.98 850.76 660.8 855.35C661.62 859.94 663.06 864.43 663.79 869.03C664.53 873.63 664.98 880.63 665.21 882.96" fill="none" stroke="rgb(255,255,255)" stroke-width="3.5" stroke-linecap="round" stroke-linejoin="round"/>
<path d="M565.37 822.82C564.76 825.07 563.33 831.98 561.71 836.33C560.09 840.69 557.58 844.71 555.64 848.95C553.7 853.19 551.57 857.39 550.06 861.79C548.55 866.19 547.14 870.76 546.58 875.35C546.02 879.94 546.67 887.02 546.69 889.35" fill="none" stroke="rgb(255,255,255)" stroke-width="3.5" stroke-linecap="round" stroke-linejoin="round"/>
<path d="M703.26 823.9C700.94 824.09 693.97 824.93 689.31 825.03C684.65 825.14 679.92 824.08 675.32 824.54C670.72 825 666.29 826.99 661.7 827.78C657.11 828.57 652.37 829.56 647.78 829.27C643.19 828.99 638.63 827.36 634.15 826.08C629.67 824.79 625.44 822.4 620.9 821.55C616.36 820.71 611.56 821.39 606.91 821.03C602.26 820.67 597.66 819.61 593.01 819.39C588.36 819.16 583.62 819.1 579.01 819.68C574.4 820.25 567.64 822.3 565.37 822.82" fill="none" stroke="rgb(255,255,255)" stroke-width="4.55" stroke-linecap="round" stroke-linejoin="round"/>
<path d="M677.97 848.7C677.08 850.86 674.93 857.61 672.67 861.66C670.42 865.71 667.76 869.8 664.46 873C661.16 876.2 657.05 878.9 652.88 880.86C648.71 882.82 641.68 884.12 639.44 884.77" fill="none" stroke="rgb(255,255,255)" stroke-width="3.5" stroke-linecap="round" stroke-linejoin="round"/>
<path d="M671.15 890.06C672.12 892.18 674.74 898.7 676.98 902.79C679.22 906.87 682.18 910.55 684.58 914.54C686.98 918.54 689.24 922.64 691.4 926.77C693.57 930.9 696.32 934.92 697.57 939.34C698.82 943.76 698.69 950.95 698.91 953.27" fill="none" stroke="rgb(255,255,255)" stroke-width="3.5" stroke-linecap="round" stroke-linejoin="round"/>
<path d="M667.73 903.63C668.67 905.77 671.84 912.05 673.38 916.44C674.92 920.83 676.19 925.4 676.95 929.98C677.72 934.56 677.44 939.31 677.97 943.94C678.5 948.57 679.78 955.47 680.14 957.77" fill="none" stroke="rgb(255,255,255)" stroke-width="3.5" stroke-linecap="round" stroke-linejoin="round"/>
<path d="M667.09 931.61C668.34 933.58 672.48 939.29 674.6 943.43C676.71 947.56 678.13 952.07 679.79 956.43C681.45 960.79 682.41 965.5 684.56 969.59C686.71 973.68 689.87 977.27 692.69 980.99C695.5 984.71 699.99 990.09 701.45 991.91" fill="none" stroke="rgb(255,255,255)" stroke-width="3.5" stroke-linecap="round" stroke-linejoin="round"/>
<path d="M677.44 834.71C677.53 837.04 678.06 844.04 677.97 848.7C677.87 853.36 677.48 858.04 676.87 862.66C676.26 867.28 675.25 871.85 674.3 876.42C673.34 880.98 672.24 885.52 671.15 890.06C670.05 894.6 668.27 899.04 667.73 903.63C667.18 908.23 668 912.97 667.89 917.63C667.78 922.3 666.57 927.04 667.09 931.61C667.6 936.18 669.44 940.66 670.98 945.06C672.51 949.46 674.38 953.76 676.3 958.01C678.21 962.26 681.45 968.48 682.48 970.57" fill="none" stroke="rgb(255,255,255)" stroke-width="4.55" stroke-linecap="round" stroke-linejoin="round"/>
<path d="M657.88 916.11C660.1 916.83 667.14 918.27 671.19 920.45C675.23 922.63 678.89 925.86 682.14 929.17C685.39 932.47 687.93 936.49 690.66 940.28C693.39 944.06 696.6 947.69 698.5 951.88C700.4 956.07 700.8 960.92 702.05 965.42C703.3 969.91 705.36 976.61 706.02 978.84" fill="none" stroke="rgb(255,255,255)" stroke-width="3.5" stroke-linecap="round" stroke-linejoin="round"/>
<path d="M663.52 836.14C662.59 838.28 659.77 844.69 657.97 848.99C656.18 853.3 654.06 857.53 652.77 861.99C651.47 866.45 650.86 871.14 650.2 875.75C649.54 880.37 648.42 885.11 648.8 889.68C649.18 894.26 650.97 898.79 652.48 903.19C653.99 907.6 655.69 912.01 657.88 916.11C660.07 920.21 663.18 923.8 665.62 927.77C668.06 931.75 670.29 935.86 672.52 939.95C674.75 944.05 677.13 948.1 679 952.37C680.86 956.63 682.35 961.09 683.69 965.55C685.03 970.02 685.6 974.72 687.03 979.15C688.46 983.58 691.38 989.97 692.26 992.14" fill="none" stroke="rgb(255,255,255)" stroke-width="4.55" stroke-linecap="round" stroke-linejoin="round"/>
<path d="M624.95 863.72C626.89 865.02 632.94 868.62 636.6 871.49C640.26 874.36 643.39 877.9 646.93 880.94C650.47 883.98 654.2 886.79 657.84 889.72C661.47 892.64 666.01 894.87 668.76 898.47C671.52 902.06 672.53 907.01 674.35 911.3C676.17 915.6 677.9 919.93 679.67 924.25C681.45 928.57 684.11 935.04 685 937.2" fill="none" stroke="rgb(255,255,255)" stroke-width="3.5" stroke-linecap="round" stroke-linejoin="round"/>
<path d="M624.12 849.75C624.26 852.08 624.74 859.06 624.95 863.72C625.17 868.38 625.71 873.08 625.41 877.71C625.11 882.35 623.17 886.92 623.14 891.53C623.1 896.14 624.03 900.88 625.19 905.38C626.35 909.87 628.43 914.13 630.09 918.49C631.75 922.85 633.83 927.08 635.17 931.54C636.51 935.99 637.13 940.66 638.12 945.22C639.12 949.78 640.07 954.35 641.15 958.89C642.22 963.43 643.91 967.87 644.58 972.47C645.25 977.06 644.97 981.79 645.16 986.45C645.35 991.12 645.99 995.81 645.71 1000.44C645.43 1005.08 644.72 1009.79 643.48 1014.26C642.25 1018.74 639.17 1025.1 638.31 1027.27" fill="none" stroke="rgb(255,255,255)" stroke-width="4.55" stroke-linecap="round" stroke-linejoin="round"/>
<path d="M780 680C780.51 682.28 782.58 689.06 783.04 693.67C783.49 698.28 782.65 703 782.74 707.66C782.82 712.33 784.23 717.13 783.55 721.64C782.87 726.15 779.64 730.24 778.64 734.75C777.64 739.26 778.73 744.27 777.55 748.71C776.38 753.15 773.68 757.2 771.58 761.37C769.49 765.54 766.78 769.44 765 773.73C763.22 778.02 762.96 782.99 760.93 787.12C758.89 791.25 756.11 795.37 752.77 798.5C749.43 801.63 744.83 803.41 740.88 805.9C736.93 808.38 733.28 811.5 729.07 813.41C724.87 815.32 719.94 815.6 715.64 817.35C711.34 819.1 707.46 821.86 703.26 823.9C699.07 825.94 694.78 827.79 690.47 829.59C686.17 831.39 681.94 833.62 677.44 834.71C672.95 835.8 668.13 835.48 663.52 836.14C658.9 836.79 654.24 837.46 649.74 838.64C645.24 839.83 640.79 841.39 636.52 843.24C632.25 845.1 628.11 847.34 624.12 849.75C620.13 852.15 616.43 855.03 612.59 857.69C608.76 860.35 605.08 863.27 601.12 865.71C597.16 868.16 590.86 871.26 588.8 872.37" fill="none" stroke="rgb(255,255,255)" stroke-width="7" stroke-linecap="round" stroke-linejoin="round"/>
<path d="M864.96 882.32C866.85 883.69 872.33 888.1 876.28 890.56C880.23 893.03 884.4 895.22 888.65 897.11C892.9 899 897.32 900.67 901.8 901.91C906.29 903.15 910.99 903.55 915.55 904.55C920.11 905.55 926.88 907.34 929.14 907.9" fill="none" stroke="rgb(255,255,255)" stroke-width="3.5" stroke-linecap="round" stroke-linejoin="round"/>
<path d="M878.34 800.66C877.56 802.86 875.04 809.4 873.63 813.85C872.22 818.29 871.24 822.87 869.91 827.34C868.58 831.81 866.72 836.15 865.65 840.68C864.58 845.21 863.96 849.87 863.48 854.51C863 859.14 862.52 863.86 862.77 868.49C863.01 873.13 864.2 877.71 864.96 882.32C865.73 886.92 866.67 891.5 867.37 896.11C868.06 900.72 868.79 905.35 869.11 910C869.43 914.65 868.73 919.39 869.29 924C869.86 928.6 870.75 933.36 872.51 937.63C874.26 941.89 877.52 945.51 879.82 949.56C882.13 953.62 885.25 959.89 886.34 961.95" fill="none" stroke="rgb(255,255,255)" stroke-width="3.9" stroke-linecap="round" stroke-linejoin="round"/>
<path d="M914.31 1058.54C914.74 1060.84 915.98 1067.73 916.9 1072.3C917.81 1076.88 919.67 1081.41 919.8 1086C919.94 1090.59 918.06 1097.53 917.71 1099.84" fill="none" stroke="rgb(255,255,255)" stroke-width="3.5" stroke-linecap="round" stroke-linejoin="round"/>
<path d="M909.01 1086.03C906.85 1086.93 899.86 1088.83 896.07 1091.4C892.29 1093.96 889.42 1097.95 886.29 1101.41C883.16 1104.86 879.92 1108.31 877.29 1112.13C874.66 1115.96 871.63 1122.33 870.49 1124.37" fill="none" stroke="rgb(255,255,255)" stroke-width="3.5" stroke-linecap="round" stroke-linejoin="round"/>
<path d="M910.95 1099.9C913.08 1100.86 920.02 1102.97 923.72 1105.65C927.42 1108.34 929.74 1112.84 933.16 1115.99C936.57 1119.15 940.8 1121.42 944.21 1124.58C947.62 1127.74 952.05 1133.22 953.62 1134.95" fill="none" stroke="rgb(255,255,255)" stroke-width="3.5" stroke-linecap="round" stroke-linejoin="round"/>
<path d="M939.78 993.76C938.96 995.94 936.85 1002.66 934.89 1006.88C932.92 1011.09 930.2 1014.95 927.98 1019.05C925.76 1023.16 923.22 1027.17 921.58 1031.5C919.94 1035.84 919.34 1040.57 918.13 1045.07C916.92 1049.58 915.37 1054 914.31 1058.54C913.26 1063.08 912.68 1067.73 911.8 1072.31C910.91 1076.9 909.15 1081.44 909.01 1086.03C908.87 1090.63 909.66 1095.46 910.95 1099.9C912.25 1104.33 915.81 1110.5 916.79 1112.62" fill="none" stroke="rgb(255,255,255)" stroke-width="3.9" stroke-linecap="round" stroke-linejoin="round"/>
<path d="M900 720C899.42 722.26 897.86 729.09 896.51 733.56C895.16 738.02 893.46 742.38 891.91 746.78C890.36 751.18 888.72 755.55 887.22 759.97C885.73 764.39 884.35 768.85 882.94 773.3C881.53 777.75 879.55 782.11 878.78 786.67C878.02 791.23 878.91 796.05 878.34 800.66C877.78 805.28 876.51 809.82 875.4 814.35C874.3 818.88 872.44 823.27 871.7 827.85C870.97 832.43 870.3 837.32 870.99 841.83C871.68 846.35 873.98 850.7 875.84 854.97C877.7 859.24 879.66 863.55 882.16 867.46C884.66 871.37 888.93 874.32 890.86 878.43C892.78 882.55 892.25 887.74 893.71 892.14C895.18 896.53 898.04 900.45 899.66 904.81C901.27 909.17 902.03 913.85 903.41 918.3C904.79 922.76 906.25 927.2 907.94 931.55C909.62 935.9 911.62 940.13 913.52 944.39C915.42 948.65 917.2 952.98 919.33 957.13C921.46 961.27 924.13 965.14 926.3 969.27C928.46 973.4 930.08 977.82 932.33 981.9C934.58 985.98 938.54 991.78 939.78 993.76" fill="none" stroke="rgb(255,255,255)" stroke-width="6" stroke-linecap="round" stroke-linejoin="round"/>
<path d="M726.84 804.56C727.38 806.83 727.97 814.2 730.1 818.18C732.24 822.16 736.82 824.74 739.63 828.44C742.44 832.14 744.9 836.2 746.95 840.37C748.99 844.54 750.92 848.96 751.9 853.47C752.87 857.98 752.74 862.78 752.8 867.44C752.85 872.1 752.21 876.76 752.22 881.43C752.23 886.09 752.75 893.08 752.86 895.41" fill="none" stroke="rgb(255,255,255)" stroke-width="4.55" stroke-linecap="round" stroke-linejoin="round"/>
<path d="M913.42 784.3C914.68 786.27 917.96 792.59 920.98 796.09C924 799.58 927.81 802.5 931.54 805.28C935.28 808.05 939.22 810.7 943.39 812.74C947.55 814.78 954.36 816.71 956.55 817.5" fill="none" stroke="rgb(255,255,255)" stroke-width="3.5" stroke-linecap="round" stroke-linejoin="round"/>
<path d="M1019.64 809.03C1020.12 811.31 1022.35 818.14 1022.51 822.73C1022.68 827.33 1022.42 832.49 1020.63 836.6C1018.83 840.72 1014.45 843.63 1011.72 847.4C1008.99 851.18 1006.89 855.4 1004.23 859.23C1001.57 863.06 997.18 868.53 995.77 870.39" fill="none" stroke="rgb(255,255,255)" stroke-width="3.5" stroke-linecap="round" stroke-linejoin="round"/>
<path d="M887.82 773.02C889.99 773.87 896.58 776.26 900.85 778.14C905.12 780.02 909.14 782.47 913.42 784.3C917.71 786.13 922.09 787.85 926.56 789.14C931.03 790.42 935.67 791.21 940.26 792.02C944.85 792.83 949.48 793.53 954.12 793.99C958.76 794.45 963.44 794.47 968.1 794.77C972.76 795.07 977.4 795.65 982.06 795.8C986.72 795.94 991.48 795.04 996.06 795.63C1000.64 796.21 1005.64 797.07 1009.57 799.3C1013.5 801.54 1017.96 807.41 1019.64 809.03" fill="none" stroke="rgb(255,255,255)" stroke-width="4.55" stroke-linecap="round" stroke-linejoin="round"/>
<path d="M700 800C702.15 800.92 708.4 804.75 712.87 805.51C717.34 806.27 722.21 804.33 726.84 804.56C731.47 804.8 736.01 806.69 740.64 806.93C745.27 807.16 749.96 805.88 754.61 806C759.25 806.12 763.88 807.69 768.51 807.63C773.14 807.58 778.14 807.32 782.37 805.67C786.61 804.02 789.82 799.92 793.91 797.73C798 795.54 802.44 793.78 806.91 792.53C811.38 791.29 816.24 791.47 820.72 790.28C825.21 789.08 829.32 786.37 833.83 785.36C838.34 784.36 843.15 784.71 847.79 784.22C852.43 783.73 857.08 783.23 861.67 782.42C866.26 781.6 870.97 780.9 875.33 779.33C879.68 777.76 884.33 775.93 887.82 773.02C891.32 770.11 893.42 765.55 896.3 761.87C899.18 758.2 902.48 754.83 905.1 750.99C907.72 747.14 910.85 740.84 912 738.81" fill="none" stroke="rgb(255,255,255)" stroke-width="7" stroke-linecap="round" stroke-linejoin="round"/>
<path d="M588.9 221.46C586.57 221.48 579.37 220.59 574.9 221.55C570.44 222.52 566.15 224.96 562.13 227.28C558.1 229.59 552.65 234.08 550.75 235.44" fill="none" stroke="rgb(255,255,255)" stroke-width="3.5" stroke-linecap="round" stroke-linejoin="round"/>
<path d="M600 230C598.15 228.58 592.57 224.35 588.9 221.46C585.24 218.57 581.29 215.95 578.02 212.66C574.74 209.38 571.01 205.89 569.23 201.76C567.45 197.63 567.57 192.53 567.35 187.89C567.12 183.25 568.37 178.5 567.9 173.9C567.43 169.3 565.44 164.88 564.53 160.31C563.62 155.74 562.79 148.77 562.45 146.47" fill="none" stroke="rgb(255,255,255)" stroke-width="5" stroke-linecap="round" stroke-linejoin="round"/>
<path d="M641.39 194.77C643.72 194.85 650.78 194.62 655.38 195.28C659.97 195.93 664.37 198.32 668.96 198.68C673.54 199.05 678.37 198.41 682.9 197.47C687.44 196.53 693.98 193.79 696.19 193.05" fill="none" stroke="rgb(255,255,255)" stroke-width="3.5" stroke-linecap="round" stroke-linejoin="round"/>
<path d="M600 230C601.76 228.47 606.61 223.1 610.58 220.84C614.56 218.57 620.38 219.11 623.87 216.42C627.35 213.72 628.57 208.28 631.49 204.68C634.41 201.07 637.63 197.41 641.39 194.77C645.15 192.13 650.05 191.17 654.06 188.82C658.07 186.47 661.86 183.64 665.45 180.68C669.04 177.71 673.9 172.63 675.59 171.03" fill="none" stroke="rgb(255,255,255)" stroke-width="5" stroke-linecap="round" stroke-linejoin="round"/>
</g>
<ellipse cx="420" cy="575" rx="25" ry="28" fill="rgb(13,13,13)" transform="rotate(0 420 575)"/>
<ellipse cx="422" cy="655" rx="22" ry="30" fill="rgb(13,13,13)" transform="rotate(0 422 655)"/>
<ellipse cx="425" cy="700" rx="18" ry="22" fill="rgb(13,13,13)" transform="rotate(0 425 700)"/>
<ellipse cx="420" cy="575" rx="8" ry="8" fill="rgb(204,204,204)" transform="rotate(0 420 575)"/>
<ellipse cx="425" cy="655" rx="7" ry="7" fill="rgb(204,204,204)" transform="rotate(0 425 655)"/>
<ellipse cx="655" cy="510" rx="55" ry="40" fill="rgb(26,26,26)" transform="rotate(-10 655 510)"/>
<ellipse cx="580" cy="690" rx="22" ry="60" fill="rgb(31,31,31)" transform="rotate(0 580 690)"/>
</g></g></g>
<g clip-path="url(#ic2)"><g filter="url(#heat2)">
<rect x="749.5" y="798.9" width="318.5" height="318.5" fill="#000"/>
<g transform="translate(746 795) scale(0.278009)">
<g filter="url(#zb2)">
<path d="M420 148C435 135.5 456.67 135 480 135C503.33 135 537.5 140.83 560 148C582.5 155.17 598.33 161 615 178C631.67 195 644.17 224.67 660 250C675.83 275.33 691.67 301.67 710 330C728.33 358.33 750 391.67 770 420C790 448.33 813.33 470 830 500C846.67 530 860 566.67 870 600C880 633.33 884.17 666.67 890 700C895.83 733.33 901.67 766.67 905 800C908.33 833.33 914.17 868.33 910 900C905.83 931.67 898.33 965 880 990C861.67 1015 830 1035 800 1050C770 1065 733.33 1073.33 700 1080C666.67 1086.67 633.33 1085 600 1090C566.67 1095 533.33 1101.67 500 1110C466.67 1118.33 428.33 1133.33 400 1140C371.67 1146.67 350 1156.67 330 1150C310 1143.33 298.33 1125 280 1100C261.67 1075 243.33 1028.33 220 1000C196.67 971.67 156.67 950 140 930C123.33 910 116.67 901.67 120 880C123.33 858.33 150 830 160 800C170 770 175 733.33 180 700C185 666.67 186.67 633.33 190 600C193.33 566.67 195.83 533.33 200 500C204.17 466.67 205 430 215 400C225 370 240.83 343.33 260 320C279.17 296.67 308.33 278.33 330 260C351.67 241.67 375 228.67 390 210C405 191.33 405 160.5 420 148Z" fill="rgb(71,71,71)"/>
<path d="M320 250C340.83 237 386.67 215.67 420 212C453.33 208.33 490 221.67 520 228C550 234.33 578.33 238 600 250C621.67 262 650 285.83 650 300C650 314.17 625 331.33 600 335C575 338.67 533.33 322 500 322C466.67 322 430 335 400 335C370 335 337.5 329.5 320 322C302.5 314.5 295 302 295 290C295 278 299.17 263 320 250Z" fill="rgb(0,0,0)"/>
<path d="M420 150C428.33 141.33 456.67 138 480 138C503.33 138 538.33 143.33 560 150C581.67 156.67 596.67 164.33 610 178C623.33 191.67 641.67 218 640 232C638.33 246 616.67 262 600 262C583.33 262 560 240.33 540 232C520 223.67 498.33 219 480 212C461.67 205 440 200.33 430 190C420 179.67 411.67 158.67 420 150Z" fill="rgb(107,107,107)"/>
<path d="M470 160C476.67 153.33 520 157.5 540 165C560 172.5 586.67 195 590 205C593.33 215 575 225 560 225C545 225 515 215.83 500 205C485 194.17 463.33 166.67 470 160Z" fill="rgb(158,158,158)"/>
<path d="M280 400C307.5 373.33 360 368.33 400 360C440 351.67 478.33 346.67 520 350C561.67 353.33 610 365 650 380C690 395 730 415 760 440C790 465 813.33 495 830 530C846.67 565 853.33 605 860 650C866.67 695 870 758.33 870 800C870 841.67 871.67 870 860 900C848.33 930 826.67 960 800 980C773.33 1000 750 1010 700 1020C650 1030 561.67 1033.33 500 1040C438.33 1046.67 371.67 1068.33 330 1060C288.33 1051.67 268.33 1020 250 990C231.67 960 225.83 928.33 220 880C214.17 831.67 212.5 760 215 700C217.5 640 224.17 570 235 520C245.83 470 252.5 426.67 280 400Z" fill="rgb(140,140,140)"/>
<path d="M290 530C311.67 515 404.17 510 430 520C455.83 530 466.67 575 445 590C423.33 605 325.83 620 300 610C274.17 600 268.33 545 290 530Z" fill="rgb(102,102,102)"/>
<path d="M640 420C651.67 401.67 741.67 420 770 440C798.33 460 821.67 521.67 810 540C798.33 558.33 728.33 570 700 550C671.67 530 628.33 438.33 640 420Z" fill="rgb(102,102,102)"/>
<path d="M280 720C307.5 695 391.67 686.67 420 700C448.33 713.33 448.33 760 450 800C451.67 840 455 913.33 430 940C405 966.67 329.17 975 300 960C270.83 945 258.33 890 255 850C251.67 810 252.5 745 280 720Z" fill="rgb(115,115,115)"/>
<path d="M680 700C706.67 671.67 800.83 663.33 830 680C859.17 696.67 855 756.67 855 800C855 843.33 852.5 915 830 940C807.5 965 746.67 965 720 950C693.33 935 676.67 891.67 670 850C663.33 808.33 653.33 728.33 680 700Z" fill="rgb(115,115,115)"/>
<path d="M580 560C590 543.33 643.33 538.33 660 550C676.67 561.67 690 613.33 680 630C670 646.67 616.67 661.67 600 650C583.33 638.33 570 576.67 580 560Z" fill="rgb(107,107,107)"/>
<path d="M330 420C343.33 410 408.33 396.67 430 400C451.67 403.33 473.33 430 460 440C446.67 450 371.67 463.33 350 460C328.33 456.67 316.67 430 330 420Z" fill="rgb(112,112,112)"/>
<path d="M260 960C281.67 940 345 930 380 920C415 910 433.33 900 470 900C506.67 900 558.33 910 600 920C641.67 930 688.33 945 720 960C751.67 975 783.33 991.67 790 1010C796.67 1028.33 791.67 1056.67 760 1070C728.33 1083.33 646.67 1083.33 600 1090C553.33 1096.67 516.67 1102.5 480 1110C443.33 1117.5 410 1135 380 1135C350 1135 321.67 1125.83 300 1110C278.33 1094.17 256.67 1065 250 1040C243.33 1015 238.33 980 260 960Z" fill="rgb(204,204,204)"/>
<path d="M140 880C148.33 868.33 180 850 200 860C220 870 246.67 906.67 260 940C273.33 973.33 286.67 1050 280 1060C273.33 1070 241.67 1021.67 220 1000C198.33 978.33 163.33 950 150 930C136.67 910 131.67 891.67 140 880Z" fill="rgb(168,168,168)"/>
<path d="M200 640C207.5 618.33 228.33 610 240 630C251.67 650 263.33 715 270 760C276.67 805 285 866.67 280 900C275 933.33 252.5 963.33 240 960C227.5 956.67 212.5 913.33 205 880C197.5 846.67 195.83 800 195 760C194.17 720 192.5 661.67 200 640Z" fill="rgb(173,173,173)"/>
<path d="M430 1000C443.33 990 498.33 983.33 520 990C541.67 996.67 563.33 1026.67 560 1040C556.67 1053.33 520 1068.33 500 1070C480 1071.67 451.67 1061.67 440 1050C428.33 1038.33 416.67 1010 430 1000Z" fill="rgb(115,115,115)"/>
</g>
<clipPath id="bcl2"><path d="M420 148C435 135.5 456.67 135 480 135C503.33 135 537.5 140.83 560 148C582.5 155.17 598.33 161 615 178C631.67 195 644.17 224.67 660 250C675.83 275.33 691.67 301.67 710 330C728.33 358.33 750 391.67 770 420C790 448.33 813.33 470 830 500C846.67 530 860 566.67 870 600C880 633.33 884.17 666.67 890 700C895.83 733.33 901.67 766.67 905 800C908.33 833.33 914.17 868.33 910 900C905.83 931.67 898.33 965 880 990C861.67 1015 830 1035 800 1050C770 1065 733.33 1073.33 700 1080C666.67 1086.67 633.33 1085 600 1090C566.67 1095 533.33 1101.67 500 1110C466.67 1118.33 428.33 1133.33 400 1140C371.67 1146.67 350 1156.67 330 1150C310 1143.33 298.33 1125 280 1100C261.67 1075 243.33 1028.33 220 1000C196.67 971.67 156.67 950 140 930C123.33 910 116.67 901.67 120 880C123.33 858.33 150 830 160 800C170 770 175 733.33 180 700C185 666.67 186.67 633.33 190 600C193.33 566.67 195.83 533.33 200 500C204.17 466.67 205 430 215 400C225 370 240.83 343.33 260 320C279.17 296.67 308.33 278.33 330 260C351.67 241.67 375 228.67 390 210C405 191.33 405 160.5 420 148Z"/></clipPath>
<g clip-path="url(#bcl2)">
<path d="M525 330C525.17 345 525.67 391.67 526 420C526.33 448.33 526.67 476.67 527 500C527.33 523.33 527.83 550 528 560" fill="none" stroke="rgb(255,255,255)" stroke-width="16" stroke-linecap="round" stroke-linejoin="round"/>
<path d="M270 492C280 490 308.33 480.67 330 480C351.67 479.33 376.67 489.33 400 488C423.33 486.67 449.17 475 470 472C490.83 469 515.83 470.33 525 470" fill="none" stroke="rgb(255,255,255)" stroke-width="14" stroke-linecap="round" stroke-linejoin="round"/>
<path d="M530 480C545 477.67 591.67 465.67 620 466C648.33 466.33 671.67 478.33 700 482C728.33 485.67 775 487 790 488" fill="none" stroke="rgb(255,255,255)" stroke-width="10" stroke-linecap="round" stroke-linejoin="round"/>
<path d="M205 612C214.17 611.67 240.83 607 260 610C279.17 613 296.67 623.33 320 630C343.33 636.67 375 641.67 400 650C425 658.33 458.33 675 470 680" fill="none" stroke="rgb(255,255,255)" stroke-width="22" stroke-linecap="round" stroke-linejoin="round"/>
<path d="M545 560C560.83 563.33 609.17 573.33 640 580C670.83 586.67 703.33 593.33 730 600C756.67 606.67 788.33 616.67 800 620" fill="none" stroke="rgb(255,255,255)" stroke-width="14" stroke-linecap="round" stroke-linejoin="round"/>
<path d="M560 640C575 646.67 620 666.67 650 680C680 693.33 715 706.67 740 720C765 733.33 790 753.33 800 760" fill="none" stroke="rgb(255,255,255)" stroke-width="12" stroke-linecap="round" stroke-linejoin="round"/>
<path d="M480 700C468.33 710 428.33 736.67 410 760C391.67 783.33 381.67 813.33 370 840C358.33 866.67 345 906.67 340 920" fill="none" stroke="rgb(255,255,255)" stroke-width="12" stroke-linecap="round" stroke-linejoin="round"/>
<path d="M300 650C301.67 666.67 306.67 716.67 310 750C313.33 783.33 321.67 816.67 320 850C318.33 883.33 303.33 933.33 300 950" fill="none" stroke="rgb(255,255,255)" stroke-width="11" stroke-linecap="round" stroke-linejoin="round"/>
<path d="M580 720C591.67 730 626.67 760 650 780C673.33 800 698.33 820 720 840C741.67 860 770 890 780 900" fill="none" stroke="rgb(255,255,255)" stroke-width="11" stroke-linecap="round" stroke-linejoin="round"/>
<path d="M400 650C396.67 635 386.67 585 380 560C373.33 535 363.33 510 360 500" fill="none" stroke="rgb(255,255,255)" stroke-width="8" stroke-linecap="round" stroke-linejoin="round"/>
<path d="M640 580C643.33 570 651.67 538.33 660 520C668.33 501.67 685 478.33 690 470" fill="none" stroke="rgb(255,255,255)" stroke-width="8" stroke-linecap="round" stroke-linejoin="round"/>
<path d="M300 880C313.33 886.67 356.67 906.67 380 920C403.33 933.33 430 953.33 440 960" fill="none" stroke="rgb(255,255,255)" stroke-width="12" stroke-linecap="round" stroke-linejoin="round"/>
<path d="M780 560C783.33 575 795 618.33 800 650C805 681.67 810 716.67 810 750C810 783.33 801.67 833.33 800 850" fill="none" stroke="rgb(255,255,255)" stroke-width="9" stroke-linecap="round" stroke-linejoin="round"/>
<path d="M420 380C423.33 390 435 425 440 440C445 455 448.33 465 450 470" fill="none" stroke="rgb(255,255,255)" stroke-width="7" stroke-linecap="round" stroke-linejoin="round"/>
<path d="M620 380C616.67 388.33 605 415 600 430C595 445 591.67 463.33 590 470" fill="none" stroke="rgb(255,255,255)" stroke-width="7" stroke-linecap="round" stroke-linejoin="round"/>
<path d="M240 700C238.33 716.67 230 766.67 230 800C230 833.33 238.33 883.33 240 900" fill="none" stroke="rgb(255,255,255)" stroke-width="14" stroke-linecap="round" stroke-linejoin="round"/>
<path d="M450.05 351.54C447.99 350.43 441.63 347.42 437.73 344.89C433.83 342.36 430.67 338.59 426.63 336.36C422.58 334.14 415.67 332.34 413.48 331.54" fill="none" stroke="rgb(255,255,255)" stroke-width="3.5" stroke-linecap="round" stroke-linejoin="round"/>
<path d="M458.93 392.21C458.87 389.87 459.37 382.76 458.57 378.21C457.77 373.67 455.55 369.38 454.13 364.93C452.71 360.49 451.62 355.93 450.05 351.54C448.47 347.15 446.77 342.77 444.7 338.6C442.63 334.43 440.15 330.45 437.63 326.52C435.11 322.6 433.22 317.46 429.6 315.05C425.98 312.65 418.2 312.57 415.92 312.07" fill="none" stroke="rgb(255,255,255)" stroke-width="3.9" stroke-linecap="round" stroke-linejoin="round"/>
<path d="M433.89 381.01C431.65 381.66 424.8 383.3 420.45 384.95C416.1 386.59 412.19 389.56 407.76 390.87C403.34 392.17 398.32 391.48 393.89 392.78C389.47 394.08 385.5 396.89 381.19 398.67C376.88 400.44 372.17 401.36 368.03 403.44C363.9 405.53 358.32 409.9 356.38 411.2" fill="none" stroke="rgb(255,255,255)" stroke-width="3.9" stroke-linecap="round" stroke-linejoin="round"/>
<path d="M525 480C523.58 478.15 519.1 472.74 516.49 468.89C513.87 465.03 511.36 461.04 509.3 456.87C507.23 452.7 505.97 448.15 504.12 443.87C502.28 439.58 500.82 434.97 498.23 431.17C495.64 427.36 491.4 424.71 488.56 421.04C485.73 417.37 484.22 412.61 481.21 409.13C478.19 405.65 474.17 402.98 470.46 400.16C466.74 397.34 462.75 394.89 458.93 392.21C455.12 389.52 451.72 385.92 447.55 384.06C443.37 382.19 437.89 383.09 433.89 381.01C429.88 378.93 426.76 374.94 423.52 371.6C420.28 368.25 415.95 362.72 414.44 360.94" fill="none" stroke="rgb(255,255,255)" stroke-width="6" stroke-linecap="round" stroke-linejoin="round"/>
<path d="M583.51 511.24C583.08 513.54 581.75 520.41 580.97 525.01C580.18 529.61 579.4 534.22 578.82 538.85C578.23 543.47 577.67 550.46 577.44 552.78" fill="none" stroke="rgb(255,255,255)" stroke-width="3.5" stroke-linecap="round" stroke-linejoin="round"/>
<path d="M538.79 477.59C540.59 479.08 545.93 483.61 549.56 486.53C553.2 489.46 556.86 492.36 560.59 495.15C564.33 497.95 568.16 500.62 571.98 503.3C575.79 505.99 579.84 508.37 583.51 511.24C587.17 514.12 592.23 518.99 593.98 520.54" fill="none" stroke="rgb(255,255,255)" stroke-width="3.9" stroke-linecap="round" stroke-linejoin="round"/>
<path d="M761.14 433.13C761.92 430.93 764.78 424.45 765.82 419.93C766.85 415.41 767.11 408.34 767.36 406.02" fill="none" stroke="rgb(255,255,255)" stroke-width="3.5" stroke-linecap="round" stroke-linejoin="round"/>
<path d="M719.13 466.69C720.1 464.57 722.2 457.57 724.98 453.97C727.77 450.38 731.92 447.61 735.85 445.15C739.77 442.69 744.32 441.23 748.53 439.22C752.75 437.22 757.16 435.52 761.14 433.13C765.12 430.73 770.54 426.22 772.42 424.83" fill="none" stroke="rgb(255,255,255)" stroke-width="3.9" stroke-linecap="round" stroke-linejoin="round"/>
<path d="M525 480C527.3 479.6 534.21 478.47 538.79 477.59C543.37 476.71 547.88 475.21 552.5 474.73C557.11 474.25 561.84 474.5 566.5 474.72C571.15 474.94 575.78 475.92 580.43 476.06C585.09 476.19 589.78 475.26 594.42 475.52C599.06 475.77 603.63 477.19 608.27 477.58C612.91 477.98 617.63 478.23 622.27 477.88C626.9 477.54 631.5 476.46 636.06 475.51C640.63 474.56 645.1 473.16 649.66 472.17C654.22 471.17 658.79 470.19 663.41 469.55C668.03 468.92 672.71 468.39 677.36 468.38C682.01 468.36 686.66 469.37 691.32 469.46C695.98 469.56 700.68 469.4 705.31 468.94C709.94 468.48 716.83 467.07 719.13 466.69" fill="none" stroke="rgb(255,255,255)" stroke-width="6" stroke-linecap="round" stroke-linejoin="round"/>
<path d="M379.34 544.86C379.82 547.14 381.67 553.94 382.23 558.55C382.8 563.17 382.65 570.21 382.73 572.54" fill="none" stroke="rgb(255,255,255)" stroke-width="3.5" stroke-linecap="round" stroke-linejoin="round"/>
<path d="M393.94 521.55C393.1 523.72 391.3 530.71 388.87 534.6C386.44 538.48 382.81 541.77 379.34 544.86C375.87 547.94 372.13 550.98 368.03 553.11C363.93 555.23 359.31 556.88 354.77 557.59C350.22 558.29 343.1 557.38 340.77 557.34" fill="none" stroke="rgb(255,255,255)" stroke-width="3.9" stroke-linecap="round" stroke-linejoin="round"/>
<path d="M400 480C399.74 482.32 399.05 489.29 398.42 493.91C397.8 498.53 396.98 503.13 396.23 507.74C395.49 512.35 394.5 516.92 393.94 521.55C393.38 526.18 393.64 530.92 392.89 535.51C392.14 540.1 390.09 544.49 389.45 549.08C388.8 553.68 389.31 558.42 389.02 563.07C388.73 567.73 388.22 572.38 387.72 577.01C387.22 581.65 386.35 586.26 386.02 590.91C385.68 595.56 386.26 600.29 385.73 604.91C385.2 609.52 382.9 614.02 382.83 618.6C382.76 623.18 384.77 627.76 385.3 632.38C385.83 637.01 386.33 641.74 386.01 646.37C385.69 650.99 384.85 655.74 383.36 660.11C381.87 664.49 378.12 670.53 377.07 672.62" fill="none" stroke="rgb(255,255,255)" stroke-width="6" stroke-linecap="round" stroke-linejoin="round"/>
<path d="M658.21 515.1C660.42 515.87 667.01 518.22 671.43 519.71C675.85 521.2 682.52 523.33 684.74 524.05" fill="none" stroke="rgb(255,255,255)" stroke-width="3.5" stroke-linecap="round" stroke-linejoin="round"/>
<path d="M663.01 528.25C663.16 530.58 664.15 537.59 663.91 542.22C663.66 546.85 661.91 553.72 661.51 556.02" fill="none" stroke="rgb(255,255,255)" stroke-width="3.5" stroke-linecap="round" stroke-linejoin="round"/>
<path d="M648.33 488.9C649.15 491.08 651.62 497.63 653.27 502C654.91 506.37 656.59 510.72 658.21 515.1C659.84 519.47 662.14 523.72 663.01 528.25C663.88 532.77 663.43 537.58 663.43 542.24C663.42 546.91 663.06 553.9 662.99 556.24" fill="none" stroke="rgb(255,255,255)" stroke-width="3.9" stroke-linecap="round" stroke-linejoin="round"/>
<path d="M645.29 516.72C647 518.3 651.89 523.37 655.58 526.21C659.26 529.04 664.11 530.54 667.38 533.73C670.66 536.92 673.21 541.17 675.22 545.33C677.23 549.49 676.95 554.96 679.45 558.68C681.95 562.39 688.42 566.13 690.22 567.62" fill="none" stroke="rgb(255,255,255)" stroke-width="3.9" stroke-linecap="round" stroke-linejoin="round"/>
<path d="M533.3 672.26C533.54 674.58 535.05 681.6 534.75 686.18C534.45 690.77 532.02 697.53 531.47 699.8" fill="none" stroke="rgb(255,255,255)" stroke-width="3.5" stroke-linecap="round" stroke-linejoin="round"/>
<path d="M493.02 684.03C492.6 686.33 491.41 693.23 490.49 697.8C489.57 702.38 488.96 707.07 487.52 711.48C486.09 715.9 483.77 720.03 481.87 724.29C479.98 728.56 477.11 734.94 476.15 737.07" fill="none" stroke="rgb(255,255,255)" stroke-width="3.5" stroke-linecap="round" stroke-linejoin="round"/>
<path d="M583.57 650.07C581.32 650.67 574.59 652.62 570.04 653.66C565.49 654.7 560.46 654.48 556.29 656.31C552.13 658.15 548.9 662.02 545.07 664.68C541.23 667.33 537.52 670.44 533.3 672.26C529.07 674.09 524.17 674.28 519.71 675.63C515.25 676.97 510.97 678.94 506.53 680.34C502.08 681.74 495.27 683.42 493.02 684.03" fill="none" stroke="rgb(255,255,255)" stroke-width="3.9" stroke-linecap="round" stroke-linejoin="round"/>
<path d="M650 475C649.72 477.32 648.78 484.26 648.33 488.9C647.88 493.54 647.82 498.23 647.31 502.86C646.8 507.5 645.38 512.09 645.29 516.72C645.19 521.34 646.62 525.99 646.74 530.64C646.87 535.29 647.1 540.15 646.05 544.62C645.01 549.09 642.17 553.12 640.48 557.46C638.79 561.81 637.24 566.23 635.92 570.7C634.61 575.18 633.87 579.81 632.59 584.3C631.32 588.79 630.1 593.34 628.27 597.62C626.45 601.89 624.53 606.39 621.64 609.95C618.75 613.5 613.84 615.41 610.92 618.95C608 622.49 607.08 627.71 604.1 631.18C601.12 634.65 596.46 636.6 593.03 639.75C589.61 642.9 585.15 648.35 583.57 650.07" fill="none" stroke="rgb(255,255,255)" stroke-width="6" stroke-linecap="round" stroke-linejoin="round"/>
<path d="M506.11 698.26C504.75 696.36 501.16 690.21 497.97 686.87C494.77 683.53 490.5 681.25 486.94 678.24C483.38 675.23 480.08 671.92 476.61 668.8C473.14 665.68 469.86 662.3 466.13 659.51C462.41 656.72 458.17 654.63 454.27 652.08C450.36 649.52 444.63 645.5 442.71 644.19" fill="none" stroke="rgb(255,255,255)" stroke-width="4.55" stroke-linecap="round" stroke-linejoin="round"/>
<path d="M428 681.75C427.68 679.44 427.01 672.45 426.09 667.88C425.17 663.32 423.08 656.61 422.47 654.36" fill="none" stroke="rgb(255,255,255)" stroke-width="3.5" stroke-linecap="round" stroke-linejoin="round"/>
<path d="M450.57 697.96C448.85 696.37 444.06 691.14 440.29 688.44C436.53 685.74 432.32 683.39 428 681.75C423.67 680.12 418.94 679.42 414.34 678.65C409.75 677.87 405.05 677.72 400.43 677.1C395.81 676.47 388.91 675.27 386.6 674.91" fill="none" stroke="rgb(255,255,255)" stroke-width="4.55" stroke-linecap="round" stroke-linejoin="round"/>
<path d="M315.8 637.24C313.72 638.3 307.34 641.23 303.31 643.58C299.29 645.92 295.8 649.28 291.65 651.31C287.49 653.34 280.58 655.02 278.37 655.76" fill="none" stroke="rgb(255,255,255)" stroke-width="3.5" stroke-linecap="round" stroke-linejoin="round"/>
<path d="M284.92 609.08C284.83 606.75 284.73 599.74 284.36 595.09C283.98 590.45 283.48 585.78 282.65 581.2C281.82 576.61 279.92 569.86 279.38 567.59" fill="none" stroke="rgb(255,255,255)" stroke-width="3.5" stroke-linecap="round" stroke-linejoin="round"/>
<path d="M280.93 595.67C282.06 593.62 285.53 587.54 287.7 583.41C289.88 579.28 291.74 574.99 293.97 570.9C296.2 566.8 299.89 560.84 301.08 558.83" fill="none" stroke="rgb(255,255,255)" stroke-width="3.5" stroke-linecap="round" stroke-linejoin="round"/>
<path d="M333.69 658.68C332.33 656.78 328.53 650.86 325.55 647.29C322.57 643.72 319.3 640.3 315.8 637.24C312.3 634.18 308.2 631.81 304.54 628.91C300.89 626.01 297.15 623.15 293.88 619.84C290.61 616.54 287.08 613.11 284.92 609.08C282.76 605.05 282.37 600.1 280.93 595.67C279.48 591.23 277.04 584.67 276.26 582.47" fill="none" stroke="rgb(255,255,255)" stroke-width="4.55" stroke-linecap="round" stroke-linejoin="round"/>
<path d="M520 700C517.68 699.71 510.7 699.07 506.11 698.26C501.52 697.45 497.07 695.57 492.46 695.14C487.86 694.71 483.13 695.37 478.47 695.67C473.82 695.98 469.18 696.6 464.53 696.98C459.88 697.36 455.21 698.1 450.57 697.96C445.93 697.81 441.2 697.2 436.69 696.13C432.17 695.06 427.98 692.57 423.46 691.55C418.93 690.53 414.17 690.62 409.54 690.03C404.91 689.45 400.31 688.65 395.68 688.05C391.05 687.45 386.31 687.4 381.78 686.41C377.24 685.43 372.55 684.23 368.45 682.13C364.34 680.04 361.08 676.37 357.17 673.84C353.25 671.31 348.89 669.49 344.97 666.96C341.06 664.44 335.57 660.06 333.69 658.68" fill="none" stroke="rgb(255,255,255)" stroke-width="7" stroke-linecap="round" stroke-linejoin="round"/>
<path d="M564.19 685.91C564.15 683.58 564.24 676.56 563.94 671.91C563.65 667.26 563.25 662.58 562.41 658C561.56 653.42 558.98 648.98 558.9 644.44C558.82 639.91 561.65 635.38 561.94 630.78C562.23 626.18 560.86 619.16 560.64 616.84" fill="none" stroke="rgb(255,255,255)" stroke-width="4.55" stroke-linecap="round" stroke-linejoin="round"/>
<path d="M661.22 697.43C662.8 699.15 668.15 703.89 670.7 707.73C673.26 711.56 675.17 716.03 676.54 720.45C677.91 724.87 678.54 731.95 678.94 734.25" fill="none" stroke="rgb(255,255,255)" stroke-width="3.5" stroke-linecap="round" stroke-linejoin="round"/>
<path d="M584.5 666.77C586.82 667.07 593.82 667.65 598.38 668.57C602.95 669.49 607.87 670.14 611.88 672.29C615.89 674.44 618.57 678.95 622.45 681.47C626.32 684 630.88 685.47 635.12 687.43C639.36 689.38 643.52 691.53 647.87 693.2C652.22 694.87 659 696.72 661.22 697.43" fill="none" stroke="rgb(255,255,255)" stroke-width="4.55" stroke-linecap="round" stroke-linejoin="round"/>
<path d="M607.19 653.39C608.92 651.81 613.96 646.95 617.53 643.95C621.1 640.95 624.74 637.98 628.61 635.38C632.47 632.78 636.43 630.05 640.72 628.37C645.02 626.69 652.11 625.83 654.39 625.32" fill="none" stroke="rgb(255,255,255)" stroke-width="3.5" stroke-linecap="round" stroke-linejoin="round"/>
<path d="M685.89 632.61C686.4 630.34 686.68 622.75 688.96 618.95C691.25 615.16 696.3 613.14 699.61 609.86C702.91 606.59 707.26 601.06 708.8 599.3" fill="none" stroke="rgb(255,255,255)" stroke-width="3.5" stroke-linecap="round" stroke-linejoin="round"/>
<path d="M593.44 655.99C595.73 655.56 602.57 653.66 607.19 653.39C611.81 653.12 616.72 655.19 621.16 654.36C625.6 653.54 629.4 649.32 633.85 648.44C638.29 647.56 643.21 649.4 647.83 649.08C652.45 648.76 657.24 648.03 661.59 646.5C665.94 644.97 669.89 642.22 673.94 639.91C677.99 637.6 681.7 634.62 685.89 632.61C690.08 630.61 696.88 628.68 699.07 627.9" fill="none" stroke="rgb(255,255,255)" stroke-width="4.55" stroke-linecap="round" stroke-linejoin="round"/>
<path d="M698.98 604.81C700.83 606.23 706.77 610.1 710.09 613.34C713.4 616.57 716.59 620.23 718.86 624.24C721.14 628.25 722.91 635.19 723.72 637.37" fill="none" stroke="rgb(255,255,255)" stroke-width="3.5" stroke-linecap="round" stroke-linejoin="round"/>
<path d="M671.74 598.4C673.99 599 680.73 600.92 685.27 601.99C689.81 603.06 694.41 604.77 698.98 604.81C703.56 604.85 708.14 603 712.75 602.23C717.35 601.47 721.97 600.29 726.6 600.21C731.23 600.12 735.86 601.38 740.51 601.74C745.16 602.1 749.84 602.33 754.5 602.36C759.16 602.38 766.16 601.97 768.49 601.89" fill="none" stroke="rgb(255,255,255)" stroke-width="4.55" stroke-linecap="round" stroke-linejoin="round"/>
<path d="M540 700C542.03 698.86 548.17 695.49 552.21 693.14C556.24 690.79 560.37 688.57 564.19 685.91C568.01 683.25 571.74 680.35 575.12 677.16C578.51 673.97 581.45 670.3 584.5 666.77C587.55 663.24 590.04 659.13 593.44 655.99C596.84 652.85 601.08 650.63 604.9 647.95C608.72 645.27 612.99 643.07 616.37 639.92C619.75 636.77 621.81 632.2 625.18 629.05C628.56 625.89 632.93 623.82 636.62 620.97C640.31 618.13 643.43 614.44 647.34 611.96C651.24 609.49 656 608.39 660.06 606.13C664.13 603.87 667.61 600.53 671.74 598.4C675.86 596.28 680.4 594.91 684.8 593.38C689.21 591.85 693.64 590.28 698.17 589.21C702.7 588.15 709.69 587.35 711.99 586.97" fill="none" stroke="rgb(255,255,255)" stroke-width="7" stroke-linecap="round" stroke-linejoin="round"/>
<path d="M508.15 812.55C506.02 813.5 499.71 816.58 495.36 818.25C491.01 819.92 486.43 820.98 482.05 822.58C477.67 824.18 473.17 825.67 469.08 827.87C465 830.07 461.52 833.38 457.52 835.76C453.51 838.14 448.67 839.32 445.06 842.14C441.44 844.96 437.72 848.61 435.83 852.67C433.93 856.73 434.06 864.2 433.71 866.5" fill="none" stroke="rgb(255,255,255)" stroke-width="4.55" stroke-linecap="round" stroke-linejoin="round"/>
<path d="M428.17 724.23C425.84 724.44 418.83 724.8 414.22 725.49C409.62 726.19 405.14 727.69 400.53 728.41C395.93 729.13 388.92 729.58 386.6 729.81" fill="none" stroke="rgb(255,255,255)" stroke-width="3.5" stroke-linecap="round" stroke-linejoin="round"/>
<path d="M477.32 750.45C475.3 749.3 469.41 745.41 465.18 743.5C460.94 741.58 456.05 741.05 451.93 738.97C447.81 736.88 444.4 733.43 440.44 730.97C436.48 728.51 432.22 726.54 428.17 724.23C424.12 721.92 419.82 719.89 416.12 717.09C412.43 714.28 407.71 709.01 406.02 707.4" fill="none" stroke="rgb(255,255,255)" stroke-width="4.55" stroke-linecap="round" stroke-linejoin="round"/>
<path d="M468.41 711.66C466.08 711.83 458.75 713.8 454.45 712.73C450.15 711.66 445.82 708.47 442.62 705.24C439.42 702.01 436.49 695.31 435.27 693.33" fill="none" stroke="rgb(255,255,255)" stroke-width="3.5" stroke-linecap="round" stroke-linejoin="round"/>
<path d="M421.89 625.97C422.3 623.67 423.59 616.79 424.34 612.19C425.09 607.58 425.61 602.94 426.42 598.34C427.22 593.75 427.82 589.06 429.17 584.62C430.52 580.17 433.61 573.83 434.5 571.67" fill="none" stroke="rgb(255,255,255)" stroke-width="3.5" stroke-linecap="round" stroke-linejoin="round"/>
<path d="M476.98 722.73C475.55 720.88 471 715.52 468.41 711.66C465.82 707.79 463.81 703.53 461.43 699.52C459.06 695.5 456.32 691.68 454.16 687.56C452 683.43 450.92 678.68 448.46 674.77C445.99 670.86 441.84 668.02 439.39 664.11C436.93 660.2 435.75 655.5 433.7 651.31C431.65 647.12 429.06 643.2 427.09 638.97C425.12 634.75 422.76 628.14 421.89 625.97" fill="none" stroke="rgb(255,255,255)" stroke-width="4.55" stroke-linecap="round" stroke-linejoin="round"/>
<path d="M486.37 696.69C488.46 695.64 494.86 692.76 498.9 690.43C502.94 688.1 507.12 685.78 510.59 682.73C514.07 679.68 517.96 676.22 519.74 672.13C521.52 668.05 520.33 662.77 521.26 658.22C522.18 653.66 524.63 647.05 525.3 644.81" fill="none" stroke="rgb(255,255,255)" stroke-width="4.55" stroke-linecap="round" stroke-linejoin="round"/>
<path d="M520 820C518.02 818.76 511.59 815.6 508.15 812.55C504.7 809.49 501.96 805.51 499.34 801.66C496.73 797.82 494.45 793.68 492.48 789.46C490.5 785.25 489.37 780.64 487.47 776.39C485.56 772.14 482.73 768.28 481.04 763.95C479.35 759.63 478.3 755.01 477.32 750.45C476.35 745.9 475.27 741.24 475.21 736.62C475.15 731.99 475.57 727.09 476.98 722.73C478.38 718.36 482.08 714.76 483.64 710.42C485.21 706.08 485.01 701.12 486.37 696.69C487.74 692.25 490.7 688.26 491.81 683.78C492.93 679.31 492.64 674.49 493.07 669.84C493.5 665.19 494.37 660.56 494.42 655.91C494.47 651.26 493.55 644.27 493.38 641.94" fill="none" stroke="rgb(255,255,255)" stroke-width="7" stroke-linecap="round" stroke-linejoin="round"/>
<path d="M586.29 777.12C584.33 775.85 578.83 770.72 574.54 769.51C570.24 768.29 562.87 769.76 560.54 769.81" fill="none" stroke="rgb(255,255,255)" stroke-width="3.5" stroke-linecap="round" stroke-linejoin="round"/>
<path d="M595.7 738.43C597.83 739.37 604.1 742.58 608.5 744.09C612.9 745.59 617.51 746.66 622.1 747.43C626.68 748.2 633.71 748.5 636.04 748.71" fill="none" stroke="rgb(255,255,255)" stroke-width="3.5" stroke-linecap="round" stroke-linejoin="round"/>
<path d="M588.75 804.75C588.86 802.42 589.82 795.37 589.41 790.76C589 786.16 587.31 781.67 586.29 777.12C585.26 772.56 582.84 767.87 583.25 763.45C583.65 759.02 586.65 754.74 588.72 750.57C590.8 746.39 593.23 742.38 595.7 738.43C598.16 734.47 600.54 730.37 603.53 726.82C606.52 723.27 610.35 720.44 613.62 717.12C616.89 713.79 621.57 708.58 623.16 706.87" fill="none" stroke="rgb(255,255,255)" stroke-width="4.55" stroke-linecap="round" stroke-linejoin="round"/>
<path d="M697.71 791.83C698.47 789.62 700.55 782.93 702.29 778.6C704.02 774.27 706.3 770.17 708.09 765.86C709.89 761.55 711.14 757.02 713.03 752.76C714.93 748.51 717.17 744.38 719.48 740.33C721.78 736.28 725.64 730.43 726.88 728.45" fill="none" stroke="rgb(255,255,255)" stroke-width="4.55" stroke-linecap="round" stroke-linejoin="round"/>
<path d="M742.37 723.7C742.03 721.39 741.14 714.45 740.37 709.85C739.61 705.24 739.12 700.53 737.79 696.09C736.46 691.64 733.3 685.32 732.41 683.16" fill="none" stroke="rgb(255,255,255)" stroke-width="3.5" stroke-linecap="round" stroke-linejoin="round"/>
<path d="M726.07 761.86C726.5 759.57 727.17 752.47 728.67 748.11C730.17 743.74 732.81 739.74 735.09 735.67C737.38 731.6 740.08 727.77 742.37 723.7C744.66 719.64 746.49 715.32 748.83 711.28C751.17 707.25 754 703.51 756.42 699.52C758.84 695.53 762.19 689.38 763.34 687.35" fill="none" stroke="rgb(255,255,255)" stroke-width="4.55" stroke-linecap="round" stroke-linejoin="round"/>
<path d="M814.25 771.91C816.47 771.19 823.09 768.91 827.56 767.58C832.03 766.24 838.82 764.52 841.07 763.91" fill="none" stroke="rgb(255,255,255)" stroke-width="3.5" stroke-linecap="round" stroke-linejoin="round"/>
<path d="M734.48 750.67C736.81 750.72 743.85 750.5 748.48 750.99C753.1 751.49 757.82 752.21 762.22 753.64C766.63 755.08 770.45 758.52 774.89 759.6C779.34 760.67 784.41 759.08 788.89 760.08C793.36 761.08 797.52 763.65 801.74 765.62C805.97 767.59 812.17 770.86 814.25 771.91" fill="none" stroke="rgb(255,255,255)" stroke-width="4.55" stroke-linecap="round" stroke-linejoin="round"/>
<path d="M550 820C552.29 819.53 559.4 818.81 563.72 817.19C568.03 815.58 571.73 812.38 575.91 810.31C580.08 808.23 584.31 806.08 588.75 804.75C593.19 803.41 597.92 802.93 602.54 802.31C607.16 801.69 611.87 801.68 616.48 801.03C621.1 800.38 625.64 799.22 630.23 798.41C634.83 797.59 639.43 796.83 644.05 796.14C648.66 795.44 653.33 794.01 657.92 794.23C662.5 794.44 666.95 796.67 671.55 797.41C676.14 798.15 681.13 799.6 685.49 798.67C689.85 797.74 693.94 794.54 697.71 791.83C701.47 789.12 705.24 786.05 708.09 782.43C710.93 778.82 711.77 773.56 714.77 770.13C717.77 766.7 722.79 765.11 726.07 761.86C729.35 758.62 733.08 752.54 734.48 750.67" fill="none" stroke="rgb(255,255,255)" stroke-width="7" stroke-linecap="round" stroke-linejoin="round"/>
<path d="M322.81 860.11C322.31 862.38 320.25 869.17 319.82 873.78C319.4 878.4 320.17 885.45 320.24 887.78" fill="none" stroke="rgb(255,255,255)" stroke-width="3.5" stroke-linecap="round" stroke-linejoin="round"/>
<path d="M322.72 902.06C324.44 903.63 329.87 908.11 333.06 911.5C336.25 914.89 338.59 919.09 341.84 922.4C345.1 925.71 349.31 928.08 352.59 931.37C355.87 934.67 360.03 940.36 361.52 942.16" fill="none" stroke="rgb(255,255,255)" stroke-width="3.5" stroke-linecap="round" stroke-linejoin="round"/>
<path d="M320.67 818.44C320.83 820.76 321.67 827.75 321.6 832.41C321.53 837.06 320.05 841.72 320.25 846.34C320.45 850.96 322.26 855.48 322.81 860.11C323.36 864.73 323.57 869.43 323.55 874.09C323.53 878.74 322.83 883.4 322.69 888.06C322.55 892.72 323.09 897.42 322.72 902.06C322.35 906.7 320.85 913.57 320.48 915.88" fill="none" stroke="rgb(255,255,255)" stroke-width="4.55" stroke-linecap="round" stroke-linejoin="round"/>
<path d="M300 620C300.27 622.32 301.16 629.26 301.61 633.91C302.05 638.55 302.08 643.24 302.69 647.87C303.29 652.49 303.94 657.17 305.24 661.63C306.53 666.09 308.6 670.34 310.46 674.62C312.32 678.9 314.41 683.08 316.41 687.29C318.4 691.51 320.01 695.97 322.44 699.93C324.87 703.88 328.9 706.93 330.98 711.02C333.07 715.11 333.66 719.96 334.95 724.45C336.23 728.93 338.06 733.36 338.69 737.94C339.31 742.52 338.56 747.28 338.7 751.94C338.83 756.6 340.23 761.42 339.51 765.91C338.78 770.41 335.96 774.55 334.34 778.93C332.71 783.3 331.01 787.67 329.75 792.15C328.49 796.64 328.28 801.45 326.76 805.83C325.25 810.21 323.15 814.52 320.67 818.44C318.2 822.36 314.77 825.67 311.91 829.35C309.04 833.03 304.89 838.67 303.49 840.54" fill="none" stroke="rgb(255,255,255)" stroke-width="7" stroke-linecap="round" stroke-linejoin="round"/>
<path d="M764.92 633.71C765.9 635.83 768.6 642.32 770.84 646.4C773.08 650.48 775.81 654.3 778.36 658.2C780.92 662.11 783.66 665.9 786.16 669.83C788.66 673.77 790.88 677.89 793.38 681.83C795.88 685.77 799.86 691.53 801.16 693.47" fill="none" stroke="rgb(255,255,255)" stroke-width="3.5" stroke-linecap="round" stroke-linejoin="round"/>
<path d="M889.26 632.82C890.86 631.12 896.11 626.35 898.85 622.62C901.59 618.88 903.37 614.45 905.69 610.41C908.02 606.36 910.65 602.48 912.81 598.35C914.97 594.22 917.06 590 918.67 585.63C920.28 581.27 921.85 574.41 922.49 572.16" fill="none" stroke="rgb(255,255,255)" stroke-width="3.5" stroke-linecap="round" stroke-linejoin="round"/>
<path d="M752.18 627.91C754.3 628.88 760.46 632.68 764.92 633.71C769.37 634.74 774.26 633.74 778.91 634.08C783.56 634.43 788.19 635.88 792.81 635.79C797.43 635.71 802 634.07 806.63 633.58C811.26 633.08 816.04 633.59 820.61 632.82C825.18 632.05 829.51 629.87 834.07 628.98C838.64 628.1 843.35 627.9 848 627.51C852.64 627.11 857.35 626.28 861.97 626.6C866.58 626.93 871.12 628.45 875.67 629.48C880.22 630.52 887 632.26 889.26 632.82" fill="none" stroke="rgb(255,255,255)" stroke-width="3.9" stroke-linecap="round" stroke-linejoin="round"/>
<path d="M776.71 687.37C778.55 685.94 784.28 681.87 787.77 678.79C791.26 675.71 794.57 672.36 797.67 668.89C800.77 665.41 803.74 661.77 806.39 657.93C809.03 654.1 812.35 647.9 813.54 645.9" fill="none" stroke="rgb(255,255,255)" stroke-width="3.5" stroke-linecap="round" stroke-linejoin="round"/>
<path d="M787.59 696.17C789.05 697.99 793.47 703.42 796.33 707.11C799.19 710.79 801.85 714.64 804.75 718.29C807.65 721.95 810.6 725.57 813.73 729.04C816.85 732.5 820.5 735.5 823.5 739.06C826.51 742.61 830.39 748.48 831.76 750.36" fill="none" stroke="rgb(255,255,255)" stroke-width="3.5" stroke-linecap="round" stroke-linejoin="round"/>
<path d="M763.6 682.43C765.79 683.26 772.71 685.08 776.71 687.37C780.7 689.65 783.75 693.55 787.59 696.17C791.44 698.78 796.4 700.01 799.77 703.07C803.15 706.13 805.34 710.58 807.83 714.52C810.33 718.45 812.84 722.46 814.73 726.7C816.61 730.95 818.06 735.47 819.14 739.99C820.22 744.51 820.76 749.2 821.2 753.84C821.64 758.47 821.39 763.18 821.78 767.82C822.17 772.47 823.1 777.07 823.56 781.71C824.02 786.35 824.38 793.35 824.55 795.68" fill="none" stroke="rgb(255,255,255)" stroke-width="3.9" stroke-linecap="round" stroke-linejoin="round"/>
<path d="M750 600C750.14 602.33 750.47 609.32 750.83 613.98C751.2 618.63 751.8 623.26 752.18 627.91C752.55 632.56 752.51 637.26 753.06 641.88C753.62 646.51 754.56 651.1 755.53 655.66C756.49 660.23 757.52 664.8 758.86 669.26C760.21 673.72 761.87 678.11 763.6 682.43C765.34 686.76 767.27 691.02 769.29 695.23C771.31 699.43 773.51 703.55 775.74 707.65C777.97 711.75 780.72 715.6 782.65 719.83C784.58 724.06 786.08 728.54 787.31 733.03C788.55 737.52 789.86 742.15 790.05 746.76C790.24 751.36 788.49 756.02 788.43 760.66C788.37 765.31 788.37 770.22 789.67 774.61C790.97 778.99 794.41 782.7 796.23 786.98C798.06 791.25 800.25 795.75 800.63 800.27C801 804.79 799.06 809.48 798.48 814.1C797.9 818.73 797.39 825.72 797.17 828.04" fill="none" stroke="rgb(255,255,255)" stroke-width="6" stroke-linecap="round" stroke-linejoin="round"/>
<path d="M358.3 628.45C355.99 628.76 349.05 630.33 344.43 630.33C339.8 630.34 335.2 628.85 330.55 628.47C325.91 628.09 321.16 627.61 316.56 628.08C311.96 628.55 307.45 630.12 302.93 631.29C298.42 632.46 291.7 634.46 289.46 635.1" fill="none" stroke="rgb(255,255,255)" stroke-width="3.5" stroke-linecap="round" stroke-linejoin="round"/>
<path d="M420 660C418.12 658.62 412.6 654.29 408.71 651.72C404.83 649.14 400.66 647 396.68 644.57C392.7 642.13 389.07 638.9 384.83 637.11C380.58 635.33 375.62 635.33 371.2 633.88C366.78 632.44 362.07 631.03 358.3 628.45C354.53 625.86 352.27 621.12 348.56 618.39C344.86 615.66 340.22 614.2 336.08 612.06C331.93 609.91 327.65 607.97 323.7 605.52C319.74 603.06 315.93 600.3 312.35 597.32C308.77 594.34 303.91 589.26 302.22 587.65" fill="none" stroke="rgb(255,255,255)" stroke-width="5" stroke-linecap="round" stroke-linejoin="round"/>
<path d="M688.54 621.69C690.55 620.52 697.7 617.96 700.63 614.64C703.56 611.32 704.45 606.12 706.13 601.77C707.81 597.42 708.97 592.86 710.73 588.54C712.5 584.23 714.18 579.76 716.7 575.88C719.22 572 724.33 567.05 725.85 565.28" fill="none" stroke="rgb(255,255,255)" stroke-width="3.5" stroke-linecap="round" stroke-linejoin="round"/>
<path d="M701.68 582.06C699.91 580.54 693.77 576.59 691.06 572.94C688.35 569.28 687.36 564.37 685.42 560.12C683.48 555.88 681.94 551.35 679.43 547.47C676.93 543.58 672.85 540.7 670.37 536.8C667.88 532.9 665.48 526.2 664.51 524.08" fill="none" stroke="rgb(255,255,255)" stroke-width="3.5" stroke-linecap="round" stroke-linejoin="round"/>
<path d="M650 680C651.16 677.97 654.48 671.8 656.94 667.84C659.41 663.88 662.13 660.08 664.79 656.25C667.45 652.42 670.13 648.59 672.92 644.85C675.71 641.11 678.93 637.67 681.53 633.82C684.14 629.96 686.55 625.9 688.54 621.69C690.52 617.49 691.65 612.89 693.44 608.58C695.23 604.27 697.89 600.27 699.26 595.85C700.63 591.43 700.69 586.61 701.68 582.06C702.67 577.5 704.56 573.1 705.21 568.51C705.85 563.92 705.49 556.85 705.55 554.51" fill="none" stroke="rgb(255,255,255)" stroke-width="5" stroke-linecap="round" stroke-linejoin="round"/>
</g>
<ellipse cx="525" cy="297" rx="12" ry="8" fill="rgb(219,219,219)" transform="rotate(0 525 297)"/>
<path d="M515 560C522.5 545 532.5 545 540 560C547.5 575 552.5 616.67 560 650C567.5 683.33 575.83 723.33 585 760C594.17 796.67 600.83 840 615 870C629.17 900 652.5 920 670 940C687.5 960 725 977.5 720 990C715 1002.5 673.33 1010 640 1015C606.67 1020 560 1020 520 1020C480 1020 431.67 1018.33 400 1015C368.33 1011.67 333.33 1010.83 330 1000C326.67 989.17 363.33 970 380 950C396.67 930 415.83 911.67 430 880C444.17 848.33 454.17 798.33 465 760C475.83 721.67 486.67 683.33 495 650C503.33 616.67 507.5 575 515 560Z" fill="rgb(255,255,255)"/>
</g></g></g>
<g clip-path="url(#ic3)"><g filter="url(#heat3)">
<rect x="1101.1" y="798.9" width="318.5" height="318.5" fill="#000"/>
<g transform="translate(1098 795) scale(0.278009)">
<g filter="url(#zb3)">
<path d="M660 255C673.33 255 680 272.5 700 280C720 287.5 755 288.33 780 300C805 311.67 826.67 333.33 850 350C873.33 366.67 895 383.33 920 400C945 416.67 976.67 430 1000 450C1023.33 470 1043.33 495 1060 520C1076.67 545 1091.67 570 1100 600C1108.33 630 1111.67 666.67 1110 700C1108.33 733.33 1101.67 766.67 1090 800C1078.33 833.33 1061.67 870 1040 900C1018.33 930 986.67 956.67 960 980C933.33 1003.33 910 1023.33 880 1040C850 1056.67 813.33 1070 780 1080C746.67 1090 716.67 1098.33 680 1100C643.33 1101.67 596.67 1096.67 560 1090C523.33 1083.33 493.33 1073.33 460 1060C426.67 1046.67 390 1031.67 360 1010C330 988.33 301.67 958.33 280 930C258.33 901.67 238.33 871.67 230 840C221.67 808.33 225 770 230 740C235 710 245 685 260 660C275 635 300 613.33 320 590C340 566.67 360 543.33 380 520C400 496.67 420 473.33 440 450C460 426.67 480 401.67 500 380C520 358.33 540 336.67 560 320C580 303.33 603.33 290.83 620 280C636.67 269.17 646.67 255 660 255Z" fill="rgb(76,76,76)"/>
<path d="M900 200C906.67 191.67 936.67 213.33 960 230C983.33 246.67 1016.67 271.67 1040 300C1063.33 328.33 1083.33 363.33 1100 400C1116.67 436.67 1140 493.33 1140 520C1140 546.67 1116.67 568.33 1100 560C1083.33 551.67 1063.33 503.33 1040 470C1016.67 436.67 980 391.67 960 360C940 328.33 930 306.67 920 280C910 253.33 893.33 208.33 900 200Z" fill="rgb(82,82,82)"/>
<path d="M500 420C538.33 393.33 600 366.67 650 360C700 353.33 750 360 800 380C850 400 908.33 443.33 950 480C991.67 516.67 1031.67 555 1050 600C1068.33 645 1068.33 703.33 1060 750C1051.67 796.67 1026.67 846.67 1000 880C973.33 913.33 950 931.67 900 950C850 968.33 766.67 985 700 990C633.33 995 553.33 993.33 500 980C446.67 966.67 413.33 936.67 380 910C346.67 883.33 315 851.67 300 820C285 788.33 281.67 753.33 290 720C298.33 686.67 328.33 653.33 350 620C371.67 586.67 395 553.33 420 520C445 486.67 461.67 446.67 500 420Z" fill="rgb(135,135,135)"/>
<path d="M380 600C393.33 583.33 463.33 573.33 500 580C536.67 586.67 566.67 623.33 600 640C633.33 656.67 686.67 663.33 700 680C713.33 696.67 703.33 733.33 680 740C656.67 746.67 603.33 730 560 720C516.67 710 450 700 420 680C390 660 366.67 616.67 380 600Z" fill="rgb(102,102,102)"/>
<path d="M420 960C433.33 943.33 543.33 963.33 600 960C656.67 956.67 716.67 935 760 940C803.33 945 870 970 860 990C850 1010 756.67 1048.33 700 1060C643.33 1071.67 566.67 1076.67 520 1060C473.33 1043.33 406.67 976.67 420 960Z" fill="rgb(87,87,87)"/>
<path d="M560 820C570 800 616.67 786.67 640 800C663.33 813.33 700 873.33 700 900C700 926.67 660 956.67 640 960C620 963.33 593.33 943.33 580 920C566.67 896.67 550 840 560 820Z" fill="rgb(107,107,107)"/>
<path d="M300 640C321.67 620 376.67 626.67 420 640C463.33 653.33 520 690 560 720C600 750 643.33 783.33 660 820C676.67 856.67 676.67 916.67 660 940C643.33 963.33 600 961.67 560 960C520 958.33 458.33 946.67 420 930C381.67 913.33 351.67 888.33 330 860C308.33 831.67 295 796.67 290 760C285 723.33 278.33 660 300 640Z" fill="rgb(173,173,173)"/>
<path d="M700 600C723.33 556.67 810 560 860 560C910 560 970 573.33 1000 600C1030 626.67 1040 676.67 1040 720C1040 763.33 1023.33 825 1000 860C976.67 895 936.67 920 900 930C863.33 940 810 938.33 780 920C750 901.67 733.33 873.33 720 820C706.67 766.67 676.67 643.33 700 600Z" fill="rgb(176,176,176)"/>
<path d="M500 520C520 500 596.67 496.67 640 500C683.33 503.33 743.33 516.67 760 540C776.67 563.33 763.33 620 740 640C716.67 660 656.67 663.33 620 660C583.33 656.67 540 643.33 520 620C500 596.67 480 540 500 520Z" fill="rgb(168,168,168)"/>
<path d="M1000 700C1013.33 676.67 1053.33 733.33 1060 760C1066.67 786.67 1053.33 836.67 1040 860C1026.67 883.33 986.67 926.67 980 900C973.33 873.33 986.67 723.33 1000 700Z" fill="rgb(140,140,140)"/>
<path d="M800 610C810 588.33 866.67 588.33 900 590C933.33 591.67 981.67 601.67 1000 620C1018.33 638.33 1020 680 1010 700C1000 720 968.33 736.67 940 740C911.67 743.33 863.33 741.67 840 720C816.67 698.33 790 631.67 800 610Z" fill="rgb(214,214,214)"/>
<path d="M700 750C710 730 758.33 731.67 780 740C801.67 748.33 826.67 778.33 830 800C833.33 821.67 818.33 860 800 870C781.67 880 736.67 880 720 860C703.33 840 690 770 700 750Z" fill="rgb(209,209,209)"/>
<path d="M420 720C431.67 696.67 480 718.33 500 740C520 761.67 540 820 540 850C540 880 518.33 915 500 920C481.67 925 443.33 913.33 430 880C416.67 846.67 408.33 743.33 420 720Z" fill="rgb(204,204,204)"/>
<path d="M560 600C576.67 591.67 626.67 590 660 590C693.33 590 746.67 590 760 600C773.33 610 760 640 740 650C720 660 670 661.67 640 660C610 658.33 573.33 650 560 640C546.67 630 543.33 608.33 560 600Z" fill="rgb(214,214,214)"/>
</g>
<clipPath id="bcl3"><path d="M660 255C673.33 255 680 272.5 700 280C720 287.5 755 288.33 780 300C805 311.67 826.67 333.33 850 350C873.33 366.67 895 383.33 920 400C945 416.67 976.67 430 1000 450C1023.33 470 1043.33 495 1060 520C1076.67 545 1091.67 570 1100 600C1108.33 630 1111.67 666.67 1110 700C1108.33 733.33 1101.67 766.67 1090 800C1078.33 833.33 1061.67 870 1040 900C1018.33 930 986.67 956.67 960 980C933.33 1003.33 910 1023.33 880 1040C850 1056.67 813.33 1070 780 1080C746.67 1090 716.67 1098.33 680 1100C643.33 1101.67 596.67 1096.67 560 1090C523.33 1083.33 493.33 1073.33 460 1060C426.67 1046.67 390 1031.67 360 1010C330 988.33 301.67 958.33 280 930C258.33 901.67 238.33 871.67 230 840C221.67 808.33 225 770 230 740C235 710 245 685 260 660C275 635 300 613.33 320 590C340 566.67 360 543.33 380 520C400 496.67 420 473.33 440 450C460 426.67 480 401.67 500 380C520 358.33 540 336.67 560 320C580 303.33 603.33 290.83 620 280C636.67 269.17 646.67 255 660 255Z"/></clipPath>
<g clip-path="url(#bcl3)">
<path d="M675 290C675.83 305 677.5 351.67 680 380C682.5 408.33 686.67 433.33 690 460C693.33 486.67 698.33 526.67 700 540" fill="none" stroke="rgb(255,255,255)" stroke-width="16" stroke-linecap="round" stroke-linejoin="round"/>
<path d="M520 600C533.33 605 573.33 623.33 600 630C626.67 636.67 653.33 645 680 640C706.67 635 746.67 606.67 760 600" fill="none" stroke="rgb(255,255,255)" stroke-width="22" stroke-linecap="round" stroke-linejoin="round"/>
<path d="M620 520C633.33 520 670 516.67 700 520C730 523.33 783.33 536.67 800 540" fill="none" stroke="rgb(255,255,255)" stroke-width="12" stroke-linecap="round" stroke-linejoin="round"/>
<path d="M740 700C753.33 696.67 793.33 686.67 820 680C846.67 673.33 873.33 666.67 900 660C926.67 653.33 966.67 643.33 980 640" fill="none" stroke="rgb(255,255,255)" stroke-width="26" stroke-linecap="round" stroke-linejoin="round"/>
<path d="M800 760C810 770 840 803.33 860 820C880 836.67 900 853.33 920 860C940 866.67 970 860 980 860" fill="none" stroke="rgb(255,255,255)" stroke-width="18" stroke-linecap="round" stroke-linejoin="round"/>
<path d="M720 760C726.67 773.33 750 813.33 760 840C770 866.67 776.67 906.67 780 920" fill="none" stroke="rgb(255,255,255)" stroke-width="14" stroke-linecap="round" stroke-linejoin="round"/>
<path d="M900 660C906.67 673.33 930 713.33 940 740C950 766.67 956.67 806.67 960 820" fill="none" stroke="rgb(255,255,255)" stroke-width="12" stroke-linecap="round" stroke-linejoin="round"/>
<path d="M860 620C866.67 633.33 896.67 673.33 900 700C903.33 726.67 883.33 766.67 880 780" fill="none" stroke="rgb(255,255,255)" stroke-width="12" stroke-linecap="round" stroke-linejoin="round"/>
<path d="M400 700C410 713.33 440 755 460 780C480 805 496.67 830 520 850C543.33 870 576.67 888.33 600 900C623.33 911.67 650 916.67 660 920" fill="none" stroke="rgb(255,255,255)" stroke-width="14" stroke-linecap="round" stroke-linejoin="round"/>
<path d="M430 760C431.67 776.67 436.67 826.67 440 860C443.33 893.33 448.33 943.33 450 960" fill="none" stroke="rgb(255,255,255)" stroke-width="14" stroke-linecap="round" stroke-linejoin="round"/>
<path d="M360 880C371.67 873.33 406.67 853.33 430 840C453.33 826.67 488.33 806.67 500 800" fill="none" stroke="rgb(255,255,255)" stroke-width="10" stroke-linecap="round" stroke-linejoin="round"/>
<path d="M500 760C510 773.33 540 820 560 840C580 860 610 873.33 620 880" fill="none" stroke="rgb(255,255,255)" stroke-width="10" stroke-linecap="round" stroke-linejoin="round"/>
<path d="M300 640C310 643.33 340 646.67 360 660C380 673.33 410 710 420 720" fill="none" stroke="rgb(255,255,255)" stroke-width="12" stroke-linecap="round" stroke-linejoin="round"/>
<path d="M542.57 559.31C542.92 557.01 543.2 549.83 544.65 545.47C546.1 541.11 549.37 537.38 551.26 533.13C553.16 528.88 555.24 522.16 556.03 519.97" fill="none" stroke="rgb(255,255,255)" stroke-width="3.5" stroke-linecap="round" stroke-linejoin="round"/>
<path d="M537.93 546.1C539.12 544.1 543.04 538.24 545.07 534.06C547.1 529.88 548.3 525.3 550.12 521C551.94 516.71 554.22 512.6 555.99 508.29C557.76 503.98 559 499.45 560.75 495.12C562.5 490.8 565.53 484.49 566.49 482.36" fill="none" stroke="rgb(255,255,255)" stroke-width="3.5" stroke-linecap="round" stroke-linejoin="round"/>
<path d="M586.77 644.57C584.9 643.17 578.67 639.55 575.56 636.17C572.46 632.79 570.04 628.52 568.13 624.3C566.22 620.09 565.74 615.25 564.11 610.9C562.47 606.54 560.3 602.37 558.31 598.15C556.31 593.93 554.1 589.82 552.16 585.58C550.21 581.34 548.23 577.09 546.63 572.71C545.03 568.33 544.02 563.75 542.57 559.31C541.12 554.88 540.29 550.02 537.93 546.1C535.58 542.19 530.03 537.52 528.45 535.81" fill="none" stroke="rgb(255,255,255)" stroke-width="5.2" stroke-linecap="round" stroke-linejoin="round"/>
<path d="M509.17 647.51C508.75 645.21 507.52 638.32 506.67 633.73C505.81 629.14 504.63 624.6 504.03 619.98C503.44 615.36 504.39 610.38 503.08 606.01C501.78 601.65 499.01 597.5 496.22 593.81C493.43 590.13 489.78 587.04 486.34 583.89C482.9 580.74 479.58 577.22 475.61 574.9C471.63 572.59 464.68 570.83 462.49 570.01" fill="none" stroke="rgb(255,255,255)" stroke-width="5.2" stroke-linecap="round" stroke-linejoin="round"/>
<path d="M433.78 667.81C432.23 666.07 427.33 661.03 424.47 657.35C421.62 653.67 420.02 648.77 416.65 645.74C413.29 642.71 408.51 641.15 404.3 639.16C400.08 637.17 395.63 635.68 391.37 633.79C387.1 631.91 380.8 628.85 378.69 627.86" fill="none" stroke="rgb(255,255,255)" stroke-width="3.5" stroke-linecap="round" stroke-linejoin="round"/>
<path d="M497.44 639.86C495.41 641.01 489.53 644.94 485.26 646.76C480.99 648.57 476.04 648.82 471.84 650.76C467.65 652.7 464.21 656.21 460.1 658.38C455.99 660.55 451.57 662.2 447.18 663.77C442.79 665.34 437.86 665.71 433.78 667.81C429.69 669.91 426.34 673.45 422.69 676.36C419.04 679.27 415.04 681.88 411.89 685.27C408.74 688.66 406.59 692.96 403.79 696.69C401 700.43 396.57 705.86 395.13 707.69" fill="none" stroke="rgb(255,255,255)" stroke-width="5.2" stroke-linecap="round" stroke-linejoin="round"/>
<path d="M408.14 549.36C408.46 547.05 409.19 540.07 410.05 535.49C410.91 530.91 413.03 526.46 413.29 521.87C413.55 517.29 412.11 512.61 411.61 507.97C411.1 503.34 410.48 496.36 410.25 494.04" fill="none" stroke="rgb(255,255,255)" stroke-width="3.5" stroke-linecap="round" stroke-linejoin="round"/>
<path d="M402.11 536.73C403.13 534.63 406.04 528.26 408.23 524.14C410.42 520.02 412.12 515.31 415.25 512.02C418.38 508.74 423 506.81 427.02 504.45C431.04 502.09 437.32 498.97 439.38 497.88" fill="none" stroke="rgb(255,255,255)" stroke-width="3.5" stroke-linecap="round" stroke-linejoin="round"/>
<path d="M393.64 525.58C395.17 523.82 400.53 518.97 402.81 515C405.09 511.03 405.88 506.19 407.33 501.75C408.78 497.32 409.43 492.5 411.51 488.39C413.59 484.28 418.43 479 419.81 477.12" fill="none" stroke="rgb(255,255,255)" stroke-width="3.5" stroke-linecap="round" stroke-linejoin="round"/>
<path d="M443.56 625.24C442.39 623.22 438.87 617.17 436.5 613.15C434.12 609.13 431.32 605.33 429.31 601.13C427.31 596.94 426.06 592.39 424.49 587.99C422.92 583.6 421.59 579.11 419.89 574.77C418.19 570.43 416.26 566.17 414.3 561.93C412.35 557.7 410.17 553.56 408.14 549.36C406.11 545.16 404.53 540.69 402.11 536.73C399.69 532.76 396.92 528.83 393.64 525.58C390.36 522.33 384.28 518.61 382.41 517.22" fill="none" stroke="rgb(255,255,255)" stroke-width="5.2" stroke-linecap="round" stroke-linejoin="round"/>
<path d="M333.62 611.64C331.82 613.12 326.34 617.49 322.83 620.56C319.33 623.63 316.12 627.06 312.57 630.08C309.03 633.11 305.39 636.08 301.56 638.73C297.73 641.39 291.59 644.79 289.6 646.01" fill="none" stroke="rgb(255,255,255)" stroke-width="3.5" stroke-linecap="round" stroke-linejoin="round"/>
<path d="M322.06 619.53C319.74 619.27 312.78 618.49 308.14 617.96C303.51 617.43 298.83 617.13 294.24 616.35C289.64 615.58 285.17 614.04 280.57 613.32C275.97 612.61 268.95 612.26 266.63 612.05" fill="none" stroke="rgb(255,255,255)" stroke-width="3.5" stroke-linecap="round" stroke-linejoin="round"/>
<path d="M296.96 626.44C296.02 628.58 293.04 634.92 291.29 639.25C289.54 643.57 287.68 647.9 286.47 652.39C285.27 656.88 284.25 661.56 284.07 666.18C283.89 670.8 284.81 675.49 285.38 680.12C285.96 684.75 287.16 691.65 287.51 693.96" fill="none" stroke="rgb(255,255,255)" stroke-width="3.5" stroke-linecap="round" stroke-linejoin="round"/>
<path d="M368.49 588.88C366.81 590.49 362.14 595.89 358.38 598.56C354.61 601.23 350.03 602.74 345.91 604.92C341.78 607.1 337.6 609.2 333.62 611.64C329.65 614.07 325.85 616.81 322.06 619.53C318.27 622.25 315.06 626.8 310.88 627.96C306.7 629.11 301.61 626.81 296.96 626.44C292.31 626.07 287.6 625.4 282.98 625.73C278.36 626.07 273.71 627.18 269.25 628.47C264.78 629.76 258.36 632.65 256.18 633.48" fill="none" stroke="rgb(255,255,255)" stroke-width="5.2" stroke-linecap="round" stroke-linejoin="round"/>
<path d="M600 640C597.79 640.76 591.16 642.99 586.77 644.57C582.37 646.14 577.82 647.41 573.64 649.44C569.46 651.47 565.88 654.74 561.69 656.73C557.5 658.72 552.94 661.22 548.49 661.39C544.03 661.56 539.48 658.95 534.96 657.77C530.45 656.59 525.69 656.04 521.39 654.33C517.09 652.62 513.16 649.92 509.17 647.51C505.18 645.09 501.61 641.89 497.44 639.86C493.28 637.83 488.64 636.76 484.19 635.34C479.75 633.93 475.32 632.33 470.77 631.36C466.22 630.39 461.42 630.55 456.89 629.53C452.36 628.51 448.05 626.53 443.56 625.24C439.08 623.95 434.19 623.68 429.99 621.8C425.8 619.92 422.31 616.49 418.39 613.96C414.47 611.44 410.63 608.67 406.45 606.65C402.27 604.64 397.56 603.75 393.29 601.88C389.02 600.02 384.98 597.63 380.85 595.47C376.71 593.3 372.81 590.57 368.49 588.88C364.18 587.19 359.47 586.48 354.95 585.32C350.43 584.16 345.81 583.33 341.37 581.93C336.93 580.53 330.47 577.76 328.29 576.92" fill="none" stroke="rgb(255,255,255)" stroke-width="8" stroke-linecap="round" stroke-linejoin="round"/>
<path d="M453.85 713.46C453 715.63 451.08 722.51 448.78 726.51C446.48 730.51 443.3 734.14 440.05 737.46C436.8 740.78 431.83 742.71 429.29 746.42C426.76 750.12 426.25 755.24 424.84 759.69C423.42 764.14 422.75 768.9 420.82 773.1C418.9 777.31 415.66 780.89 413.3 784.91C410.94 788.93 409.37 793.49 406.64 797.23C403.92 800.96 399.73 803.61 396.93 807.31C394.12 811 391.01 817.36 389.82 819.37" fill="none" stroke="rgb(255,255,255)" stroke-width="4.55" stroke-linecap="round" stroke-linejoin="round"/>
<path d="M481.47 782.21C482.9 780.36 486.91 774.58 490 771.1C493.08 767.62 498.33 762.93 500 761.3" fill="none" stroke="rgb(255,255,255)" stroke-width="3.5" stroke-linecap="round" stroke-linejoin="round"/>
<path d="M457.1 768.74C459.02 770.08 464.51 774.53 468.57 776.77C472.64 779.01 477.05 780.79 481.47 782.21C485.9 783.62 490.54 784.51 495.13 785.27C499.73 786.04 504.98 785.02 509.05 786.82C513.12 788.62 516.14 792.89 519.56 796.07C522.98 799.25 527.89 804.24 529.55 805.88" fill="none" stroke="rgb(255,255,255)" stroke-width="4.55" stroke-linecap="round" stroke-linejoin="round"/>
<path d="M443.29 807.43C443.15 809.76 442.94 816.77 442.48 821.41C442.01 826.05 441.27 830.67 440.48 835.26C439.69 839.86 438.21 844.37 437.72 848.99C437.24 853.61 437.7 858.33 437.58 862.99C437.46 867.65 436.41 872.42 437.03 876.98C437.64 881.53 440.15 885.8 441.27 890.32C442.4 894.84 443.34 901.8 443.76 904.1" fill="none" stroke="rgb(255,255,255)" stroke-width="4.55" stroke-linecap="round" stroke-linejoin="round"/>
<path d="M410.35 820.91C408.14 821.65 401.61 824.33 397.09 825.38C392.56 826.43 387.83 826.58 383.21 827.22C378.59 827.87 371.67 828.92 369.36 829.26" fill="none" stroke="rgb(255,255,255)" stroke-width="3.5" stroke-linecap="round" stroke-linejoin="round"/>
<path d="M347.21 792.51C346.44 790.3 343.68 783.81 342.56 779.3C341.43 774.79 340.82 767.77 340.47 765.46" fill="none" stroke="rgb(255,255,255)" stroke-width="3.5" stroke-linecap="round" stroke-linejoin="round"/>
<path d="M423.4 825.99C421.22 825.15 414.66 822.69 410.35 820.91C406.04 819.12 401.95 816.72 397.53 815.28C393.11 813.85 388.34 813.54 383.85 812.3C379.36 811.06 374.81 809.76 370.58 807.85C366.35 805.95 362.35 803.41 358.46 800.85C354.56 798.29 349.09 793.9 347.21 792.51" fill="none" stroke="rgb(255,255,255)" stroke-width="4.55" stroke-linecap="round" stroke-linejoin="round"/>
<path d="M414.98 860.38C417.06 861.44 423.33 864.55 427.47 866.7C431.61 868.85 435.57 871.4 439.83 873.29C444.08 875.17 448.87 875.94 453 878.02C457.14 880.11 460.49 883.77 464.66 885.78C468.82 887.8 475.76 889.37 477.98 890.09" fill="none" stroke="rgb(255,255,255)" stroke-width="3.5" stroke-linecap="round" stroke-linejoin="round"/>
<path d="M420.12 887.85C418.44 889.48 413.76 894.8 410.08 897.61C406.39 900.41 402.27 902.91 397.99 904.68C393.72 906.45 388.29 905.93 384.45 908.24C380.62 910.55 376.56 916.82 374.98 918.54" fill="none" stroke="rgb(255,255,255)" stroke-width="3.5" stroke-linecap="round" stroke-linejoin="round"/>
<path d="M411.22 832.9C411.22 835.23 410.58 842.32 411.21 846.9C411.84 851.48 413.78 855.87 414.98 860.38C416.18 864.89 417.57 869.38 418.42 873.95C419.28 878.53 419.13 883.31 420.12 887.85C421.1 892.39 421.96 897.35 424.34 901.2C426.73 905.04 430.94 907.81 434.41 910.93C437.87 914.05 442.17 916.4 445.15 919.91C448.13 923.41 449.74 928.04 452.28 931.96C454.81 935.87 459 941.49 460.35 943.4" fill="none" stroke="rgb(255,255,255)" stroke-width="4.55" stroke-linecap="round" stroke-linejoin="round"/>
<path d="M359.38 852.55C357.06 852.39 350.08 851.73 345.42 851.57C340.76 851.42 335.9 850.71 331.42 851.62C326.93 852.54 322.42 854.61 318.51 857.05C314.61 859.49 312.01 864.19 307.99 866.28C303.97 868.37 298.98 868.99 294.38 869.59C289.78 870.19 284.95 870.51 280.39 869.88C275.82 869.25 271.56 866.48 266.99 865.81C262.42 865.13 255.32 865.82 252.99 865.82" fill="none" stroke="rgb(255,255,255)" stroke-width="4.55" stroke-linecap="round" stroke-linejoin="round"/>
<path d="M450 700C450.64 702.24 452.71 708.94 453.85 713.46C454.99 717.98 456.56 722.53 456.84 727.14C457.12 731.74 455.28 736.47 455.52 741.07C455.77 745.68 458.05 750.18 458.31 754.79C458.58 759.4 457.51 764.09 457.1 768.74C456.7 773.39 456.87 778.17 455.89 782.69C454.9 787.21 453.29 791.75 451.19 795.88C449.09 800 445.88 803.56 443.29 807.43C440.69 811.31 438.91 816.04 435.6 819.13C432.28 822.23 427.46 823.7 423.4 825.99C419.33 828.29 415.35 830.74 411.22 832.9C407.09 835.06 402.99 837.49 398.6 838.97C394.22 840.46 389.44 840.75 384.89 841.79C380.34 842.84 375.57 843.44 371.32 845.23C367.07 847.03 363.32 850.05 359.38 852.55C355.45 855.06 351.45 857.49 347.7 860.26C343.95 863.03 338.69 867.68 336.89 869.16" fill="none" stroke="rgb(255,255,255)" stroke-width="7" stroke-linecap="round" stroke-linejoin="round"/>
<path d="M394.83 755.35C395.98 757.38 399.69 763.35 401.71 767.55C403.73 771.74 404.86 776.38 406.98 780.52C409.09 784.66 411.9 788.44 414.41 792.38C416.92 796.32 418.69 801.09 422.02 804.13C425.36 807.17 430.39 808.28 434.44 810.61C438.48 812.93 442.54 815.31 446.27 818.08C450.01 820.86 455.09 825.72 456.85 827.25" fill="none" stroke="rgb(255,255,255)" stroke-width="4.55" stroke-linecap="round" stroke-linejoin="round"/>
<path d="M348.48 924.85C350.44 926.11 356.51 929.64 360.26 932.41C364.01 935.17 369.19 939.92 370.97 941.42" fill="none" stroke="rgb(255,255,255)" stroke-width="3.5" stroke-linecap="round" stroke-linejoin="round"/>
<path d="M358.96 842.4C358.94 844.73 359.22 851.76 358.86 856.4C358.49 861.04 357.51 865.64 356.75 870.24C355.99 874.85 354.59 879.4 354.3 884.03C354.01 888.65 355.81 893.53 355.01 898.01C354.22 902.48 350.61 906.41 349.52 910.88C348.43 915.36 349.11 920.23 348.48 924.85C347.84 929.46 346.17 936.28 345.71 938.57" fill="none" stroke="rgb(255,255,255)" stroke-width="4.55" stroke-linecap="round" stroke-linejoin="round"/>
<path d="M380 660C380.9 662.15 383.66 668.59 385.38 672.92C387.1 677.26 389.06 681.55 390.33 686.02C391.59 690.5 392.49 695.14 392.98 699.77C393.47 704.39 393.46 709.11 393.27 713.77C393.08 718.42 392.1 723.04 391.85 727.69C391.59 732.35 391.26 737.08 391.76 741.69C392.26 746.3 394.78 750.79 394.83 755.35C394.89 759.91 392.59 764.45 392.07 769.07C391.55 773.69 391.95 778.41 391.73 783.07C391.5 787.73 391.97 792.64 390.73 797.03C389.48 801.43 386.89 805.64 384.25 809.45C381.61 813.25 377.46 816.02 374.89 819.86C372.32 823.7 371.49 828.72 368.83 832.48C366.18 836.24 362.05 838.92 358.96 842.4C355.86 845.89 353.04 849.63 350.28 853.39C347.53 857.16 345.23 861.25 342.44 864.99C339.64 868.72 336.99 872.74 333.53 875.79C330.07 878.83 325.31 880.36 321.68 883.25C318.05 886.13 315.6 890.71 311.73 893.09C307.85 895.47 300.65 896.77 298.44 897.5" fill="none" stroke="rgb(255,255,255)" stroke-width="7" stroke-linecap="round" stroke-linejoin="round"/>
<path d="M520.87 809.85C521.87 811.96 525.2 818.16 526.83 822.52C528.46 826.87 529.11 831.59 530.64 835.99C532.16 840.39 534.51 844.51 535.97 848.93C537.43 853.35 537.65 858.23 539.38 862.51C541.12 866.8 544.11 870.56 546.37 874.64C548.63 878.73 550.09 883.39 552.92 887.02C555.75 890.64 559.68 893.49 563.33 896.38C566.98 899.27 572.9 903.05 574.82 904.38" fill="none" stroke="rgb(255,255,255)" stroke-width="4.55" stroke-linecap="round" stroke-linejoin="round"/>
<path d="M482.97 826.85C481.51 828.68 477.52 834.52 474.24 837.8C470.97 841.09 466.83 843.49 463.33 846.57C459.83 849.65 456.11 852.65 453.24 856.28C450.38 859.91 448.29 864.21 446.14 868.34C443.99 872.48 441.22 876.64 440.36 881.1C439.51 885.55 439.82 890.68 441 895.08C442.18 899.49 444.92 903.61 447.42 907.53C449.92 911.44 454.58 916.73 456.01 918.58" fill="none" stroke="rgb(255,255,255)" stroke-width="4.55" stroke-linecap="round" stroke-linejoin="round"/>
<path d="M456.44 858.97C454.12 859.17 447.14 860.22 442.49 860.16C437.85 860.11 433.18 859.36 428.57 858.64C423.97 857.93 419.39 856.93 414.85 855.87C410.31 854.82 405.88 853.21 401.32 852.3C396.75 851.38 392.08 850.45 387.45 850.39C382.82 850.33 378.18 851.62 373.53 851.93C368.88 852.24 361.87 852.2 359.53 852.25" fill="none" stroke="rgb(255,255,255)" stroke-width="4.55" stroke-linecap="round" stroke-linejoin="round"/>
<path d="M550 780C548.33 781.63 543.01 786.25 539.99 789.79C536.97 793.32 535.07 797.86 531.88 801.2C528.7 804.55 524.62 807.07 520.87 809.85C517.12 812.63 513.57 815.95 509.4 817.87C505.23 819.79 500.24 819.85 495.84 821.34C491.43 822.84 486.87 824.4 482.97 826.85C479.07 829.31 475.38 832.53 472.43 836.07C469.47 839.61 467.9 844.26 465.23 848.08C462.57 851.9 459.77 855.76 456.44 858.97C453.11 862.19 449.24 865.03 445.24 867.37C441.23 869.7 436.82 871.51 432.42 873C428.02 874.49 423.33 875.11 418.81 876.3C414.3 877.49 409.9 879.87 405.35 880.14C400.8 880.41 393.83 878.29 391.53 877.92" fill="none" stroke="rgb(255,255,255)" stroke-width="7" stroke-linecap="round" stroke-linejoin="round"/>
<path d="M850.13 803.69C852.35 804.4 859.13 806.24 863.47 807.94C867.8 809.64 871.8 812.2 876.13 813.91C880.46 815.62 885.17 816.4 889.46 818.2C893.74 820 899.79 823.61 901.86 824.69" fill="none" stroke="rgb(255,255,255)" stroke-width="3.8" stroke-linecap="round" stroke-linejoin="round"/>
<path d="M787.82 696.91C789.11 698.85 793.68 704.36 795.6 708.55C797.51 712.74 797.66 717.7 799.29 722.05C800.91 726.41 802.73 730.88 805.33 734.68C807.94 738.49 811.7 741.51 814.92 744.88C818.15 748.26 821.95 751.19 824.69 754.91C827.43 758.64 828.69 763.44 831.37 767.22C834.04 771 838.11 773.8 840.76 777.6C843.41 781.39 845.72 785.64 847.28 789.99C848.84 794.34 848.79 799.24 850.13 803.69C851.46 808.15 854.44 814.54 855.3 816.7" fill="none" stroke="rgb(255,255,255)" stroke-width="5.85" stroke-linecap="round" stroke-linejoin="round"/>
<path d="M832.25 724.8C832.12 727.13 831.72 734.12 831.42 738.77C831.13 743.43 831.05 748.12 830.46 752.74C829.87 757.36 828.78 761.92 827.89 766.5C827.01 771.09 825.6 777.94 825.14 780.23" fill="none" stroke="rgb(255,255,255)" stroke-width="3.8" stroke-linecap="round" stroke-linejoin="round"/>
<path d="M815.18 702.6C816.61 704.45 820.86 710.01 823.71 713.71C826.55 717.41 829.66 720.93 832.25 724.8C834.84 728.67 836.86 732.92 839.25 736.92C841.65 740.93 844.03 744.95 846.62 748.83C849.2 752.71 852.26 756.28 854.78 760.2C857.3 764.12 859.37 768.33 861.74 772.35C864.11 776.37 866.64 780.3 869 784.32C871.36 788.35 874.74 794.48 875.89 796.51" fill="none" stroke="rgb(255,255,255)" stroke-width="5.85" stroke-linecap="round" stroke-linejoin="round"/>
<path d="M859.46 634.07C857.76 632.47 851.41 628.37 849.25 624.49C847.09 620.6 848.24 615 846.5 610.76C844.77 606.52 841.48 602.89 838.84 599.04C836.2 595.19 833.89 590.99 830.68 587.67C827.47 584.35 823.29 581.96 819.59 579.12C815.89 576.28 810.32 572.03 808.47 570.62" fill="none" stroke="rgb(255,255,255)" stroke-width="3.8" stroke-linecap="round" stroke-linejoin="round"/>
<path d="M843.09 700.67C843.54 698.38 845.11 691.55 845.78 686.93C846.44 682.32 846.89 677.65 847.07 672.99C847.26 668.34 845.71 663.33 846.89 659C848.07 654.67 852.04 651.17 854.14 647.02C856.23 642.86 858.2 638.53 859.46 634.07C860.72 629.61 860.23 624.62 861.69 620.25C863.14 615.88 866.18 612.05 868.18 607.84C870.19 603.64 872.39 599.43 873.74 594.99C875.08 590.55 875.29 585.79 876.23 581.22C877.18 576.65 878.77 572.19 879.43 567.59C880.08 562.98 880.05 555.94 880.17 553.61" fill="none" stroke="rgb(255,255,255)" stroke-width="5.85" stroke-linecap="round" stroke-linejoin="round"/>
<path d="M760 700C762.31 699.67 769.22 698.53 773.86 698.02C778.5 697.5 783.24 696.49 787.82 696.91C792.4 697.33 796.78 699.58 801.34 700.53C805.9 701.48 810.54 702.32 815.18 702.6C819.82 702.89 824.53 702.57 829.18 702.25C833.83 701.93 838.44 700.84 843.09 700.67C847.74 700.51 852.56 700.37 857.08 701.27C861.6 702.18 866.06 704.05 870.21 706.12C874.36 708.19 877.74 711.93 881.98 713.7C886.22 715.48 891.04 716.49 895.64 716.76C900.24 717.04 904.92 715.46 909.57 715.37C914.22 715.28 918.89 715.95 923.54 716.23C928.2 716.51 933.01 716.07 937.52 717.02C942.04 717.97 946.13 720.83 950.64 721.92C955.14 723.02 959.92 722.88 964.54 723.57C969.15 724.25 973.69 725.69 978.32 726.03C982.95 726.37 987.73 726.29 992.31 725.6C996.9 724.91 1001.75 723.98 1005.82 721.9C1009.89 719.83 1013.11 716.07 1016.74 713.15C1020.38 710.22 1025.81 705.81 1027.63 704.34" fill="none" stroke="rgb(255,255,255)" stroke-width="9" stroke-linecap="round" stroke-linejoin="round"/>
<path d="M852.44 663.79C850.93 665.57 846.59 671.08 843.38 674.46C840.18 677.85 836.73 681.03 833.21 684.09C829.69 687.14 825.6 689.58 822.27 692.82C818.95 696.06 816.81 700.64 813.25 703.53C809.7 706.42 805.05 707.98 800.93 710.18C796.82 712.38 792.54 714.3 788.55 716.71C784.57 719.12 778.95 723.34 777.03 724.67" fill="none" stroke="rgb(255,255,255)" stroke-width="5.2" stroke-linecap="round" stroke-linejoin="round"/>
<path d="M864.8 686.99C866.72 685.67 872.46 681.66 876.34 679.08C880.23 676.49 884.35 674.24 888.1 671.47C891.84 668.7 895.55 665.77 898.8 662.45C902.05 659.13 906.14 653.37 907.6 651.56" fill="none" stroke="rgb(255,255,255)" stroke-width="3.5" stroke-linecap="round" stroke-linejoin="round"/>
<path d="M923.04 724.5C923.79 726.71 925.71 733.47 927.53 737.76C929.34 742.04 932.75 745.81 933.92 750.21C935.08 754.62 934.42 761.87 934.52 764.2" fill="none" stroke="rgb(255,255,255)" stroke-width="3.5" stroke-linecap="round" stroke-linejoin="round"/>
<path d="M854.37 677.65C856.11 679.21 860.86 684.67 864.8 686.99C868.74 689.32 873.93 689.47 878.02 691.61C882.1 693.75 885.68 696.95 889.33 699.86C892.97 702.77 896.05 706.45 899.88 709.06C903.7 711.67 908.44 712.94 912.3 715.52C916.16 718.09 919.71 721.24 923.04 724.5C926.36 727.75 930.71 733.28 932.25 735.04" fill="none" stroke="rgb(255,255,255)" stroke-width="5.2" stroke-linecap="round" stroke-linejoin="round"/>
<path d="M888.61 750.15C890.34 751.72 895.58 756.36 898.98 759.56C902.38 762.75 905.93 765.84 909.01 769.32C912.1 772.81 914.58 776.82 917.49 780.47C920.4 784.11 924.98 789.41 926.48 791.2" fill="none" stroke="rgb(255,255,255)" stroke-width="3.5" stroke-linecap="round" stroke-linejoin="round"/>
<path d="M886.4 763.98C888.21 765.44 893.49 770.08 897.29 772.77C901.1 775.45 905.89 776.97 909.22 780.1C912.56 783.22 915.26 787.4 917.3 791.53C919.33 795.67 920.73 802.68 921.42 804.91" fill="none" stroke="rgb(255,255,255)" stroke-width="3.5" stroke-linecap="round" stroke-linejoin="round"/>
<path d="M887.8 722.25C887.68 724.58 886.97 731.58 887.11 736.23C887.24 740.88 888.73 745.53 888.61 750.15C888.49 754.78 887.74 759.55 886.4 763.98C885.06 768.4 882.03 772.3 880.56 776.7C879.1 781.1 878.82 785.89 877.61 790.39C876.4 794.89 875.25 799.5 873.3 803.71C871.36 807.91 868.41 811.66 865.95 815.62C863.49 819.59 860.61 823.34 858.54 827.5C856.47 831.66 854.35 838.39 853.51 840.56" fill="none" stroke="rgb(255,255,255)" stroke-width="5.2" stroke-linecap="round" stroke-linejoin="round"/>
<path d="M936.23 769.86C938.56 769.67 945.6 769.49 950.18 768.7C954.76 767.9 959.28 766.53 963.7 765.07C968.13 763.6 974.55 760.77 976.72 759.91" fill="none" stroke="rgb(255,255,255)" stroke-width="3.5" stroke-linecap="round" stroke-linejoin="round"/>
<path d="M970.15 794.6C972 793.17 978.01 789.36 981.26 786.07C984.5 782.78 986.58 778.37 989.6 774.83C992.63 771.29 997.77 766.5 999.4 764.83" fill="none" stroke="rgb(255,255,255)" stroke-width="3.5" stroke-linecap="round" stroke-linejoin="round"/>
<path d="M980.36 804.18C981.47 806.23 985.32 812.18 987.03 816.49C988.73 820.8 989.97 827.78 990.56 830.03" fill="none" stroke="rgb(255,255,255)" stroke-width="3.5" stroke-linecap="round" stroke-linejoin="round"/>
<path d="M911.79 756.34C913.9 757.33 920.4 760.01 924.47 762.26C928.55 764.52 932.38 767.23 936.23 769.86C940.08 772.49 943.86 775.24 947.58 778.06C951.3 780.87 954.78 784.01 958.54 786.77C962.3 789.52 966.51 791.69 970.15 794.6C973.79 797.5 978.66 802.58 980.36 804.18" fill="none" stroke="rgb(255,255,255)" stroke-width="5.2" stroke-linecap="round" stroke-linejoin="round"/>
<path d="M927.27 808.14C928.58 810.07 932.77 815.71 935.14 819.72C937.5 823.73 939.67 827.91 941.48 832.2C943.28 836.49 945.21 843.25 945.96 845.46" fill="none" stroke="rgb(255,255,255)" stroke-width="3.5" stroke-linecap="round" stroke-linejoin="round"/>
<path d="M928.05 822.12C930.31 822.67 937.06 824.68 941.65 825.43C946.24 826.18 950.95 826.27 955.6 826.61C960.25 826.94 964.91 827.4 969.57 827.44C974.23 827.48 979.14 825.92 983.56 826.85C987.99 827.78 994.04 831.98 996.13 833.01" fill="none" stroke="rgb(255,255,255)" stroke-width="3.5" stroke-linecap="round" stroke-linejoin="round"/>
<path d="M929.19 794.27C928.87 796.58 927.46 803.5 927.27 808.14C927.08 812.78 927.9 817.45 928.05 822.12C928.19 826.78 928.87 831.57 928.14 836.12C927.41 840.66 925.17 844.96 923.68 849.39C922.19 853.81 919.9 858.11 919.19 862.65C918.49 867.19 919.27 871.98 919.47 876.65C919.67 881.31 920.89 886.04 920.4 890.61C919.91 895.19 916.97 899.51 916.54 904.07C916.12 908.64 917.63 915.69 917.85 918.01" fill="none" stroke="rgb(255,255,255)" stroke-width="5.2" stroke-linecap="round" stroke-linejoin="round"/>
<path d="M958.14 838.45C959.18 840.54 962.31 846.8 964.37 850.99C966.44 855.17 968.64 859.3 970.53 863.56C972.43 867.82 974.88 874.39 975.75 876.55" fill="none" stroke="rgb(255,255,255)" stroke-width="3.5" stroke-linecap="round" stroke-linejoin="round"/>
<path d="M945.3 832.87C947.44 833.8 953.91 836.48 958.14 838.45C962.37 840.43 967.06 841.9 970.67 844.71C974.27 847.52 976.88 851.68 979.8 855.32C982.72 858.96 985.42 862.77 988.18 866.53C990.94 870.29 993.94 873.92 996.38 877.88C998.81 881.85 1001.72 888.26 1002.79 890.33" fill="none" stroke="rgb(255,255,255)" stroke-width="5.2" stroke-linecap="round" stroke-linejoin="round"/>
<path d="M1019.48 865.41C1020.87 867.29 1025.28 872.76 1027.8 876.68C1030.31 880.59 1032.42 884.79 1034.59 888.92C1036.76 893.05 1038.24 897.61 1040.8 901.46C1043.37 905.32 1048.13 907.97 1049.96 912.05C1051.8 916.13 1051.5 923.62 1051.81 925.93" fill="none" stroke="rgb(255,255,255)" stroke-width="3.5" stroke-linecap="round" stroke-linejoin="round"/>
<path d="M1061.16 864.8C1061.69 862.53 1063.14 855.67 1064.32 851.16C1065.49 846.65 1066.85 842.18 1068.22 837.71C1069.59 833.25 1070.97 828.79 1072.53 824.4C1074.1 820 1076.76 813.52 1077.61 811.35" fill="none" stroke="rgb(255,255,255)" stroke-width="3.5" stroke-linecap="round" stroke-linejoin="round"/>
<path d="M965.28 852.42C967.6 852.63 974.65 852.83 979.23 853.64C983.8 854.46 988.3 855.88 992.74 857.3C997.18 858.73 1001.4 860.84 1005.86 862.19C1010.32 863.54 1014.9 864.59 1019.48 865.41C1024.07 866.23 1028.73 866.82 1033.38 867.12C1038.03 867.43 1042.75 867.63 1047.38 867.24C1052.01 866.86 1056.59 865.73 1061.16 864.8C1065.73 863.87 1072.53 862.18 1074.81 861.66" fill="none" stroke="rgb(255,255,255)" stroke-width="5.2" stroke-linecap="round" stroke-linejoin="round"/>
<path d="M850 650C850.41 652.3 851.71 659.18 852.44 663.79C853.17 668.39 852.87 673.33 854.37 677.65C855.87 681.98 858.62 686.07 861.46 689.73C864.29 693.38 868.45 695.99 871.4 699.58C874.35 703.16 876.42 707.46 879.16 711.24C881.89 715.01 885.07 718.47 887.8 722.25C890.53 726.03 892.61 730.31 895.53 733.92C898.46 737.53 902.62 740.18 905.33 743.92C908.04 747.66 910 752.05 911.79 756.34C913.57 760.64 914.05 765.51 916.05 769.68C918.04 773.85 921.55 777.28 923.74 781.38C925.93 785.48 927.57 789.9 929.19 794.27C930.82 798.64 931.95 803.19 933.47 807.6C934.99 812.01 936.35 816.52 938.32 820.74C940.29 824.95 942.57 829.12 945.3 832.87C948.04 836.62 951.4 839.96 954.73 843.22C958.06 846.48 963.52 850.89 965.28 852.42" fill="none" stroke="rgb(255,255,255)" stroke-width="8" stroke-linecap="round" stroke-linejoin="round"/>
<path d="M952.86 667.85C951.21 669.5 945.68 674.02 942.97 677.76C940.27 681.49 938.69 686.05 936.64 690.24C934.59 694.43 932.5 698.62 930.69 702.92C928.88 707.21 926.57 711.5 925.77 716.02C924.97 720.54 926.15 725.37 925.89 730.02C925.63 734.67 924.49 741.6 924.21 743.92" fill="none" stroke="rgb(255,255,255)" stroke-width="4.55" stroke-linecap="round" stroke-linejoin="round"/>
<path d="M997.27 721.13C996.5 723.33 994.05 729.9 992.64 734.35C991.23 738.79 990.35 743.42 988.81 747.81C987.27 752.21 985.27 756.45 983.38 760.72C981.5 764.99 979.75 769.35 977.5 773.42C975.25 777.5 972.39 781.23 969.89 785.17C967.39 789.11 964.32 792.82 962.5 797.06C960.68 801.3 959.55 808.35 958.97 810.61" fill="none" stroke="rgb(255,255,255)" stroke-width="4.55" stroke-linecap="round" stroke-linejoin="round"/>
<path d="M1032.79 762.45C1032.82 764.78 1032.95 771.78 1032.98 776.45C1033.01 781.11 1032.99 785.78 1032.97 790.45C1032.96 795.11 1032.92 802.11 1032.9 804.45" fill="none" stroke="rgb(255,255,255)" stroke-width="3.5" stroke-linecap="round" stroke-linejoin="round"/>
<path d="M1020.38 755.95C1022.45 757.03 1028.54 760.54 1032.79 762.45C1037.04 764.35 1041.53 765.72 1045.88 767.39C1050.24 769.07 1054.78 770.39 1058.91 772.51C1063.04 774.64 1066.64 777.76 1070.65 780.14C1074.66 782.52 1078.79 784.74 1082.97 786.79C1087.16 788.84 1093.65 791.5 1095.78 792.44" fill="none" stroke="rgb(255,255,255)" stroke-width="4.55" stroke-linecap="round" stroke-linejoin="round"/>
<path d="M1030.48 795.53C1028.66 797 1022.77 800.97 1019.59 804.33C1016.41 807.69 1014.11 811.89 1011.41 815.69C1008.7 819.49 1005.58 823.08 1003.37 827.16C1001.17 831.23 999.43 835.69 998.16 840.15C996.89 844.62 996.16 851.64 995.76 853.94" fill="none" stroke="rgb(255,255,255)" stroke-width="3.5" stroke-linecap="round" stroke-linejoin="round"/>
<path d="M1027.82 767.81C1028.29 770.1 1030.18 776.91 1030.62 781.53C1031.06 786.15 1031.59 791.13 1030.48 795.53C1029.36 799.92 1026.9 804.47 1023.91 807.89C1020.93 811.32 1015.92 812.9 1012.55 816.07C1009.17 819.24 1006.82 823.46 1003.67 826.89C1000.51 830.32 996.83 833.26 993.64 836.66C990.45 840.06 987.1 843.44 984.52 847.28C981.94 851.13 979.81 855.42 978.16 859.76C976.51 864.09 975.22 871.05 974.63 873.3" fill="none" stroke="rgb(255,255,255)" stroke-width="4.55" stroke-linecap="round" stroke-linejoin="round"/>
<path d="M950 640C950.19 642.33 950.65 649.31 951.13 653.95C951.6 658.6 951.53 663.45 952.86 667.85C954.2 672.25 956.57 676.51 959.15 680.35C961.73 684.2 965 687.68 968.35 690.91C971.69 694.14 975.87 696.5 979.22 699.73C982.58 702.95 985.45 706.68 988.46 710.25C991.46 713.82 994.26 717.57 997.27 721.13C1000.27 724.7 1003.75 727.91 1006.51 731.65C1009.27 735.39 1011.52 739.53 1013.83 743.58C1016.14 747.63 1018.05 751.91 1020.38 755.95C1022.72 759.99 1024.7 764.46 1027.82 767.81C1030.95 771.16 1035.16 773.66 1039.16 776.03C1043.16 778.4 1047.51 780.21 1051.81 782.01C1056.12 783.81 1060.76 784.83 1064.96 786.82C1069.16 788.81 1072.83 791.91 1077.01 793.96C1081.18 796.01 1085.81 797.13 1090.02 799.11C1094.24 801.09 1100.25 804.72 1102.3 805.84" fill="none" stroke="rgb(255,255,255)" stroke-width="7" stroke-linecap="round" stroke-linejoin="round"/>
<path d="M839.05 807.99C840.74 809.6 845.75 814.48 849.17 817.66C852.6 820.83 857.84 825.47 859.57 827.03" fill="none" stroke="rgb(255,255,255)" stroke-width="3.5" stroke-linecap="round" stroke-linejoin="round"/>
<path d="M825.35 810.88C827.63 810.4 834.48 808.94 839.05 807.99C843.62 807.04 848.18 806.06 852.76 805.19C857.35 804.32 862.16 804.19 866.55 802.76C870.94 801.33 875.04 798.84 879.12 796.58C883.2 794.33 886.87 791.31 891.03 789.24C895.19 787.16 901.9 784.99 904.07 784.15" fill="none" stroke="rgb(255,255,255)" stroke-width="4.55" stroke-linecap="round" stroke-linejoin="round"/>
<path d="M856.03 886.22C857.09 888.3 860.21 894.57 862.39 898.7C864.56 902.82 867.2 906.74 869.09 910.99C870.97 915.24 872.93 922 873.7 924.21" fill="none" stroke="rgb(255,255,255)" stroke-width="3.5" stroke-linecap="round" stroke-linejoin="round"/>
<path d="M845.88 876.58C847.57 878.19 853.12 882.63 856.03 886.22C858.94 889.82 860.43 894.58 863.36 898.15C866.29 901.72 870.37 904.34 873.63 907.67C876.89 911 880.07 914.46 882.91 918.15C885.74 921.84 887.72 926.21 890.64 929.82C893.56 933.44 897.14 936.52 900.43 939.83C903.72 943.14 906.66 946.94 910.36 949.7C914.07 952.45 920.62 955.25 922.67 956.37" fill="none" stroke="rgb(255,255,255)" stroke-width="4.55" stroke-linecap="round" stroke-linejoin="round"/>
<path d="M780 780C782.05 781.11 788.1 784.66 792.31 786.67C796.51 788.68 801.11 789.91 805.22 792.07C809.34 794.23 813.66 796.5 817.01 799.63C820.36 802.76 823.06 806.85 825.35 810.88C827.63 814.9 828.83 819.54 830.73 823.8C832.63 828.06 834.94 832.14 836.75 836.44C838.55 840.74 839.9 845.23 841.56 849.59C843.23 853.95 846 858.11 846.72 862.6C847.44 867.1 846.06 871.92 845.88 876.58C845.7 881.24 845.87 885.92 845.65 890.58C845.42 895.24 844.39 899.9 844.53 904.53C844.66 909.17 846.24 913.75 846.48 918.39C846.73 923.04 846.63 927.79 846 932.39C845.38 936.99 843.27 943.73 842.72 946" fill="none" stroke="rgb(255,255,255)" stroke-width="7" stroke-linecap="round" stroke-linejoin="round"/>
<path d="M667.78 513.17C665.72 514.27 659.57 517.61 655.44 519.78C651.3 521.94 646.64 523.39 642.97 526.16C639.31 528.93 636.18 532.67 633.42 536.4C630.67 540.13 628.68 544.44 626.46 548.54C624.24 552.64 621.15 558.93 620.09 561.01" fill="none" stroke="rgb(255,255,255)" stroke-width="4.55" stroke-linecap="round" stroke-linejoin="round"/>
<path d="M631.53 381.83C633.87 381.82 641 380.98 645.53 381.74C650.07 382.51 654.2 385.73 658.73 386.41C663.27 387.09 668.08 385.59 672.72 385.82C677.36 386.06 684.27 387.47 686.58 387.8" fill="none" stroke="rgb(255,255,255)" stroke-width="3.5" stroke-linecap="round" stroke-linejoin="round"/>
<path d="M608.68 476.54C609 474.22 609.8 467.27 610.56 462.66C611.32 458.06 611.94 453.38 613.24 448.92C614.55 444.46 616.91 440.32 618.4 435.91C619.9 431.49 620.7 426.84 622.2 422.43C623.7 418.02 626.39 413.93 627.42 409.44C628.45 404.95 627.7 400.08 628.38 395.47C629.07 390.87 630.89 386.44 631.53 381.83C632.18 377.23 632.13 370.18 632.24 367.85" fill="none" stroke="rgb(255,255,255)" stroke-width="4.55" stroke-linecap="round" stroke-linejoin="round"/>
<path d="M680 520C677.96 518.86 671.84 515.46 667.78 513.17C663.71 510.88 659.63 508.62 655.61 506.24C651.6 503.87 647.83 501.03 643.68 498.92C639.53 496.81 634.6 496.07 630.74 493.59C626.87 491.1 624.19 486.87 620.51 484.03C616.83 481.18 612.78 478.74 608.68 476.54C604.58 474.33 600.37 471.89 595.91 470.8C591.46 469.7 586.58 469.78 581.94 469.96C577.3 470.15 572.66 471.06 568.07 471.92C563.49 472.78 559.01 474.15 554.45 475.14C549.89 476.14 545.03 476.25 540.72 477.88C536.42 479.51 532.79 482.85 528.62 484.92C524.44 486.98 520.1 488.83 515.67 490.26C511.25 491.68 504.32 492.94 502.05 493.48" fill="none" stroke="rgb(255,255,255)" stroke-width="7" stroke-linecap="round" stroke-linejoin="round"/>
<path d="M844.18 532.12C846.06 533.5 851.47 538.03 855.46 540.41C859.45 542.78 864.16 543.97 868.13 546.37C872.1 548.77 877.43 553.41 879.29 554.82" fill="none" stroke="rgb(255,255,255)" stroke-width="3.5" stroke-linecap="round" stroke-linejoin="round"/>
<path d="M867.73 517.15C869.89 518.02 876.55 520.3 880.72 522.37C884.89 524.43 890.74 528.34 892.74 529.53" fill="none" stroke="rgb(255,255,255)" stroke-width="3.5" stroke-linecap="round" stroke-linejoin="round"/>
<path d="M879.42 509.44C879.93 507.17 880.84 500.09 882.52 495.79C884.2 491.49 888.34 485.68 889.51 483.66" fill="none" stroke="rgb(255,255,255)" stroke-width="3.5" stroke-linecap="round" stroke-linejoin="round"/>
<path d="M831.32 537.67C833.46 536.74 839.97 534.13 844.18 532.12C848.38 530.11 852.64 528.09 856.56 525.59C860.49 523.1 863.92 519.84 867.73 517.15C871.54 514.45 875.55 512.05 879.42 509.44C883.28 506.83 887.05 504.07 890.92 501.47C894.79 498.86 900.68 495.08 902.64 493.8" fill="none" stroke="rgb(255,255,255)" stroke-width="4.55" stroke-linecap="round" stroke-linejoin="round"/>
<path d="M850.4 574.85C852.65 574.22 859.32 571.94 863.88 571.07C868.45 570.2 873.15 569.81 877.81 569.62C882.46 569.42 887.14 569.84 891.81 569.88C896.47 569.92 901.25 569.16 905.81 569.86C910.36 570.57 915.12 571.92 919.14 574.11C923.17 576.3 928.15 581.53 929.95 583.02" fill="none" stroke="rgb(255,255,255)" stroke-width="4.55" stroke-linecap="round" stroke-linejoin="round"/>
<path d="M700 520C702.15 519.1 708.47 515.93 712.92 514.61C717.37 513.29 722.16 513.18 726.69 512.08C731.22 510.98 735.53 508.79 740.09 508.03C744.66 507.26 749.47 507.07 754.08 507.49C758.69 507.92 763.17 509.62 767.73 510.59C772.3 511.57 776.94 512.22 781.46 513.33C785.99 514.45 790.46 515.83 794.89 517.29C799.32 518.76 803.9 520.02 808.03 522.13C812.15 524.24 815.76 527.37 819.64 529.96C823.52 532.55 828.42 534.25 831.32 537.67C834.22 541.08 835.19 546.16 837.03 550.45C838.86 554.74 840.1 559.34 842.33 563.41C844.56 567.47 848.02 570.85 850.4 574.85C852.79 578.84 854.44 583.27 856.63 587.39C858.82 591.51 862.38 597.54 863.53 599.56" fill="none" stroke="rgb(255,255,255)" stroke-width="7" stroke-linecap="round" stroke-linejoin="round"/>
</g>
</g></g></g>
<text x="-1" y="776" font-size="44" text-anchor="start" style="font-family:'Liberation Serif',serif;font-weight:bold" >E</text>
<text x="205.6" y="785.7" font-size="37" text-anchor="middle" style="font-family:'Liberation Serif',serif;font-weight:bold" >Young</text>
<text x="554.6" y="785.7" font-size="37" text-anchor="middle" style="font-family:'Liberation Serif',serif;font-weight:bold" >Old</text>
<text x="910.3" y="785.7" font-size="37" text-anchor="middle" style="font-family:'Liberation Serif',serif;font-weight:bold" >Young</text>
<text x="1281.6" y="785.7" font-size="37" text-anchor="middle" style="font-family:'Liberation Serif',serif;font-weight:bold" >Old</text>
<line x1="180.5" y1="1137.1" x2="572" y2="1137.1" stroke="#000" stroke-width="1.9"/>
<line x1="890.1" y1="1138.9" x2="1281.6" y2="1138.9" stroke="#000" stroke-width="1.9"/>
<text x="376.8" y="1165.7" font-size="36.8" text-anchor="middle" style="font-family:'Liberation Serif',serif;font-weight:bold" >Sham</text>
<text x="1085.8" y="1167.8" font-size="36.5" text-anchor="middle" style="font-family:'Liberation Serif',serif;font-weight:bold" >Isch 28d</text>
</svg>
</body></html>
